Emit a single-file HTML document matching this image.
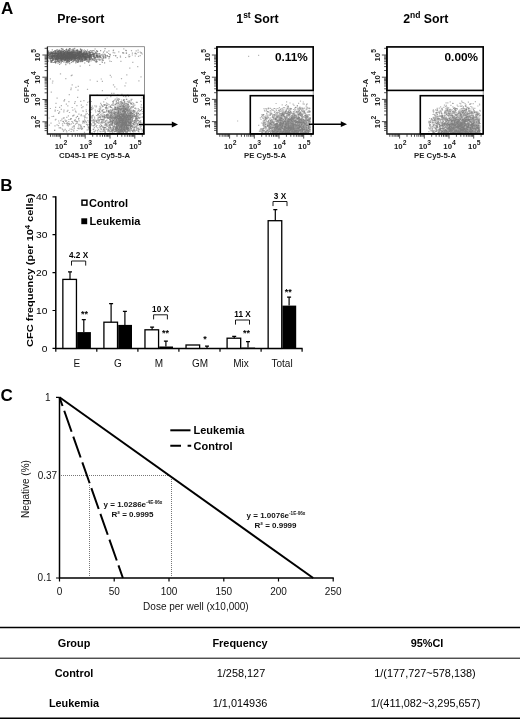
<!DOCTYPE html>
<html><head><meta charset="utf-8"><title>Figure</title>
<style>
html,body{margin:0;padding:0;background:#fff;}
body{width:520px;height:722px;overflow:hidden;}
svg{display:block;filter:blur(0.35px);font-family:"Liberation Sans",sans-serif;}
.b{font-weight:bold;}
.t7{font-size:7.8px;font-weight:bold;fill:#222;}
.t8{font-size:8px;font-weight:bold;fill:#111;}
.t10{font-size:10px;fill:#111;}
.t11{font-size:11px;font-weight:bold;fill:#000;}
.pl{font-size:17px;font-weight:bold;fill:#000;}
</style></head><body>
<svg width="520" height="722" viewBox="0 0 520 722">
<rect width="520" height="722" fill="#fff"/>

<text class="pl" x="1" y="14.2">A</text>
<path d="M71.7 55.5h1.2M70.6 53.2h1.2M63.1 55.2h1.2M49.2 56.2h1.2M53.4 55.5h1.2M62.7 56.1h1.2M78.4 57.9h1.2M73.1 59.2h1.2M94.9 57.2h1.2M80.0 59.9h1.2M73.9 57.4h1.2M50.1 54.5h1.2M81.5 54.1h1.2M52.1 54.8h1.2M72.9 56.3h1.2M78.5 54.2h1.2M74.0 55.2h1.2M73.8 54.1h1.2M80.3 55.6h1.2M69.3 56.7h1.2M59.3 53.9h1.2M75.6 57.4h1.2M57.1 54.3h1.2M58.7 55.4h1.2M66.0 53.4h1.2M73.0 51.5h1.2M60.0 57.7h1.2M86.8 55.6h1.2M50.1 61.2h1.2M73.9 57.6h1.2M63.7 55.2h1.2M59.2 51.4h1.2M68.8 59.0h1.2M59.2 54.5h1.2M79.0 51.0h1.2M67.9 57.6h1.2M67.7 52.8h1.2M102.3 58.7h1.2M89.5 59.2h1.2M79.0 55.0h1.2M98.3 56.0h1.2M52.9 52.1h1.2M58.2 54.2h1.2M65.8 55.8h1.2M77.7 61.9h1.2M100.1 56.8h1.2M51.2 55.3h1.2M75.0 53.8h1.2M65.3 61.0h1.2M74.1 48.4h1.2M73.1 58.6h1.2M72.0 60.0h1.2M78.2 55.9h1.2M81.5 56.6h1.2M57.1 58.4h1.2M61.5 58.5h1.2M54.4 53.8h1.2M64.6 58.7h1.2M61.0 54.6h1.2M55.6 53.3h1.2M94.0 60.2h1.2M65.4 57.0h1.2M71.7 55.4h1.2M69.3 53.6h1.2M66.3 55.3h1.2M76.1 54.5h1.2M58.4 52.3h1.2M65.2 58.2h1.2M70.9 53.5h1.2M72.1 59.5h1.2M55.9 58.7h1.2M83.7 60.0h1.2M79.8 51.9h1.2M68.7 50.7h1.2M63.6 57.9h1.2M62.1 54.3h1.2M70.2 55.2h1.2M53.3 54.7h1.2M73.3 51.6h1.2M76.5 51.7h1.2M48.1 55.7h1.2M55.0 61.8h1.2M72.8 58.2h1.2M73.5 57.9h1.2M75.0 56.2h1.2M83.2 56.2h1.2M91.2 56.1h1.2M63.6 58.8h1.2M61.3 58.6h1.2M67.4 57.6h1.2M69.5 58.0h1.2M66.1 56.5h1.2M69.3 48.7h1.2M52.8 59.9h1.2M51.2 56.3h1.2M70.6 55.3h1.2M59.3 54.2h1.2M74.6 58.3h1.2M78.2 56.2h1.2M58.7 60.9h1.2M94.6 59.3h1.2M56.4 61.7h1.2M64.1 55.5h1.2M71.9 56.9h1.2M79.7 58.7h1.2M85.8 52.4h1.2M64.4 56.9h1.2M52.2 60.5h1.2M72.3 55.5h1.2M71.3 55.1h1.2M62.2 53.7h1.2M72.7 56.1h1.2M85.1 57.2h1.2M60.5 52.7h1.2M58.2 54.8h1.2M68.1 57.6h1.2M75.5 56.5h1.2M58.0 58.0h1.2M76.4 52.7h1.2M72.1 56.1h1.2M66.6 59.6h1.2M80.7 58.8h1.2M66.7 57.4h1.2M67.8 58.6h1.2M82.5 53.4h1.2M94.0 60.7h1.2M57.1 58.9h1.2M70.6 60.5h1.2M96.0 55.4h1.2M71.0 57.2h1.2M80.6 54.6h1.2M64.0 57.4h1.2M74.8 58.1h1.2M75.0 59.1h1.2M53.5 59.3h1.2M72.1 56.5h1.2M60.1 57.3h1.2M79.9 55.9h1.2M58.8 62.7h1.2M89.7 52.8h1.2M64.0 57.6h1.2M90.2 50.6h1.2M55.1 56.7h1.2M62.3 58.4h1.2M66.4 52.0h1.2M74.9 57.8h1.2M48.1 55.6h1.2M74.1 57.7h1.2M71.9 52.6h1.2M85.5 56.5h1.2M51.6 53.7h1.2M59.9 57.7h1.2M58.0 54.8h1.2M79.0 56.0h1.2M65.9 56.4h1.2M72.4 49.2h1.2M95.0 52.9h1.2M67.5 62.2h1.2M85.8 59.8h1.2M63.7 54.3h1.2M60.7 57.5h1.2M71.1 53.7h1.2M49.3 53.0h1.2M72.6 56.3h1.2M62.5 55.1h1.2M81.3 56.7h1.2M74.5 56.9h1.2M72.1 54.0h1.2M77.9 53.3h1.2M105.1 56.2h1.2M65.9 52.2h1.2M64.4 57.4h1.2M92.4 54.9h1.2M85.4 58.2h1.2M76.1 58.3h1.2M79.6 59.9h1.2M52.4 59.7h1.2M64.8 54.9h1.2M62.5 54.5h1.2M57.4 55.9h1.2M66.9 54.4h1.2M77.9 61.9h1.2M66.0 57.4h1.2M74.4 52.3h1.2M89.4 56.3h1.2M76.0 53.8h1.2M67.6 55.9h1.2M85.6 53.6h1.2M83.4 57.5h1.2M69.1 54.9h1.2M72.9 50.3h1.2M54.3 56.1h1.2M78.6 56.9h1.2M57.0 60.2h1.2M68.6 53.3h1.2M62.9 51.7h1.2M75.5 60.4h1.2M56.8 49.9h1.2M67.3 54.6h1.2M61.0 56.3h1.2M82.4 54.7h1.2M79.2 55.0h1.2M103.4 56.1h1.2M57.2 55.0h1.2M73.9 58.7h1.2M71.4 59.7h1.2M49.0 53.0h1.2M71.5 58.6h1.2M78.5 55.9h1.2M78.7 53.2h1.2M80.7 57.3h1.2M57.3 60.5h1.2M54.7 57.7h1.2M69.1 53.2h1.2M55.1 59.1h1.2M89.3 54.6h1.2M98.4 54.1h1.2M61.4 53.7h1.2M51.0 61.3h1.2M60.8 62.2h1.2M82.7 55.4h1.2M82.9 54.3h1.2M61.3 57.6h1.2M84.9 57.8h1.2M78.9 58.4h1.2M75.6 56.2h1.2M63.8 60.3h1.2M59.6 52.2h1.2M67.9 52.3h1.2M86.6 60.7h1.2M58.0 52.2h1.2M77.2 55.6h1.2M65.7 55.2h1.2M66.9 51.7h1.2M69.6 57.6h1.2M54.8 57.9h1.2M74.0 56.1h1.2M66.8 55.1h1.2M53.4 55.6h1.2M89.7 57.2h1.2M68.9 58.0h1.2M54.6 57.0h1.2M59.2 55.7h1.2M57.9 53.2h1.2M63.6 59.6h1.2M88.9 52.2h1.2M62.9 53.9h1.2M78.6 55.3h1.2M73.5 57.3h1.2M76.8 53.1h1.2M76.5 54.3h1.2M59.8 56.9h1.2M60.8 59.9h1.2M67.5 58.5h1.2M73.0 51.1h1.2M67.5 58.4h1.2M73.7 54.3h1.2M59.8 53.2h1.2M80.4 59.2h1.2M72.8 59.0h1.2M70.8 53.9h1.2M52.0 56.1h1.2M65.2 57.5h1.2M89.8 56.9h1.2M85.4 56.4h1.2M84.3 55.3h1.2M66.5 55.0h1.2M57.6 59.4h1.2M68.8 56.9h1.2M83.0 57.0h1.2M83.7 55.9h1.2M67.8 57.4h1.2M57.4 56.3h1.2M57.1 56.7h1.2M59.0 55.9h1.2M75.3 52.2h1.2M67.8 58.3h1.2M57.8 57.4h1.2M57.4 57.0h1.2M62.4 58.9h1.2M79.8 55.3h1.2M53.8 53.6h1.2M85.0 50.5h1.2M93.2 55.8h1.2M75.7 54.1h1.2M87.9 62.3h1.2M60.8 55.9h1.2M75.3 57.9h1.2M61.2 53.6h1.2M67.7 61.1h1.2M75.9 55.4h1.2M80.2 49.4h1.2M82.2 55.8h1.2M69.9 55.0h1.2M63.3 55.8h1.2M58.5 50.1h1.2M82.1 61.4h1.2M67.0 54.9h1.2M62.9 53.5h1.2M62.3 49.1h1.2M71.2 57.0h1.2M81.8 54.6h1.2M74.6 56.3h1.2M76.3 60.7h1.2M51.7 49.9h1.2M64.0 54.4h1.2M81.9 56.0h1.2M65.9 55.4h1.2M68.0 50.3h1.2M92.7 54.7h1.2M84.9 58.9h1.2M54.2 55.3h1.2M88.3 60.1h1.2M88.7 57.9h1.2M70.8 60.0h1.2M96.4 53.3h1.2M80.2 55.7h1.2M76.4 54.8h1.2M69.6 57.7h1.2M54.8 52.9h1.2M77.2 57.7h1.2M59.3 54.8h1.2M71.9 54.4h1.2M74.4 55.5h1.2M67.6 58.7h1.2M90.6 57.0h1.2M73.4 57.2h1.2M81.5 56.2h1.2M73.3 55.1h1.2M52.2 53.3h1.2M65.6 53.7h1.2M76.1 52.8h1.2M79.3 53.2h1.2M64.0 53.0h1.2M92.6 55.8h1.2M79.9 61.7h1.2M60.2 51.5h1.2M92.6 56.2h1.2M60.0 56.1h1.2M88.2 62.4h1.2M53.2 55.1h1.2M66.9 52.3h1.2M72.9 55.6h1.2M87.3 53.8h1.2M80.6 53.2h1.2M67.4 60.5h1.2M57.8 56.7h1.2M85.3 54.3h1.2M101.7 62.5h1.2M88.9 55.8h1.2M52.4 53.2h1.2M69.3 57.0h1.2M63.0 57.0h1.2M61.4 55.4h1.2M70.3 57.2h1.2M90.7 56.0h1.2M96.3 54.7h1.2M58.1 59.7h1.2M62.2 53.5h1.2M53.4 56.5h1.2M90.7 54.3h1.2M78.1 59.9h1.2M63.1 55.7h1.2M50.5 58.7h1.2M56.5 58.4h1.2M60.8 56.1h1.2M69.4 54.9h1.2M69.6 55.6h1.2M57.7 59.5h1.2M56.4 60.0h1.2M47.6 57.2h1.2M90.2 56.3h1.2M54.6 51.0h1.2M78.5 56.5h1.2M57.2 59.1h1.2M58.2 57.2h1.2M87.0 57.3h1.2M69.8 56.2h1.2M71.5 54.4h1.2M57.5 52.6h1.2M61.1 58.1h1.2M83.5 56.7h1.2M77.0 49.9h1.2M83.1 52.8h1.2M75.9 55.8h1.2M77.5 54.9h1.2M69.8 54.7h1.2M52.0 57.3h1.2M80.5 51.6h1.2M66.0 49.6h1.2M63.4 54.4h1.2M71.1 59.9h1.2M55.9 55.7h1.2M84.0 57.1h1.2M50.9 55.8h1.2M83.3 53.0h1.2M63.1 53.8h1.2M92.2 54.4h1.2M69.3 56.1h1.2M62.1 53.3h1.2M57.9 53.9h1.2M93.4 56.9h1.2M66.6 58.8h1.2M69.8 56.9h1.2M82.8 54.9h1.2M58.9 57.0h1.2M66.4 57.3h1.2M69.7 56.0h1.2M72.8 58.1h1.2M65.7 55.6h1.2M61.3 54.5h1.2M69.6 52.8h1.2M81.4 57.3h1.2M52.3 56.3h1.2M50.7 55.6h1.2M65.6 52.2h1.2M78.9 55.6h1.2M58.1 59.6h1.2M75.2 63.0h1.2M76.7 50.6h1.2M78.3 58.2h1.2M71.1 56.4h1.2M57.9 56.0h1.2M49.3 54.5h1.2M87.3 54.6h1.2M67.9 58.4h1.2M63.7 54.0h1.2M82.4 56.4h1.2M71.2 54.8h1.2M83.0 55.4h1.2M86.3 59.0h1.2M49.4 57.0h1.2M51.6 58.2h1.2M74.6 51.8h1.2M65.0 54.4h1.2M78.8 56.1h1.2M77.2 57.5h1.2M71.4 51.4h1.2M49.2 55.3h1.2M52.1 55.7h1.2M74.8 55.0h1.2M69.1 57.9h1.2M81.1 51.6h1.2M80.1 52.3h1.2M72.5 56.6h1.2M76.3 53.2h1.2M96.1 54.3h1.2M50.3 57.0h1.2M85.8 53.5h1.2M53.7 56.4h1.2M66.1 54.2h1.2M65.7 56.1h1.2M66.2 56.5h1.2M64.9 59.5h1.2M77.8 59.8h1.2M62.1 58.7h1.2M72.2 56.8h1.2M79.3 55.5h1.2M63.8 52.3h1.2M61.4 54.7h1.2M67.1 54.3h1.2M70.5 52.2h1.2M73.6 51.2h1.2M76.0 54.7h1.2M71.9 54.5h1.2M56.6 57.7h1.2M65.1 58.3h1.2M59.5 58.8h1.2M61.0 56.3h1.2M56.6 56.5h1.2M50.3 54.3h1.2M56.0 58.3h1.2M72.0 56.0h1.2M68.9 55.9h1.2M63.5 53.0h1.2M66.5 53.1h1.2M83.5 56.6h1.2M73.7 57.2h1.2M71.3 54.7h1.2M72.3 52.8h1.2M87.4 56.0h1.2M58.4 56.9h1.2M99.2 57.0h1.2M70.4 55.9h1.2M77.2 54.0h1.2M65.5 51.1h1.2M70.3 56.1h1.2M62.6 54.3h1.2M84.8 60.4h1.2M95.1 57.9h1.2M50.4 54.1h1.2M81.4 61.1h1.2M61.5 60.0h1.2M80.7 52.9h1.2M98.0 53.8h1.2M61.2 52.0h1.2M79.3 59.0h1.2M70.9 56.3h1.2M80.9 52.1h1.2M76.5 52.8h1.2M61.6 54.4h1.2M81.8 59.8h1.2M83.4 58.3h1.2M63.0 58.3h1.2M55.0 58.8h1.2M88.3 57.7h1.2M56.9 51.8h1.2M84.4 54.3h1.2M59.5 53.9h1.2M67.3 56.1h1.2M75.3 55.9h1.2M64.1 52.3h1.2M54.2 58.6h1.2M63.2 57.4h1.2M62.6 57.9h1.2M65.6 58.8h1.2M70.0 57.6h1.2M106.8 55.8h1.2M69.9 52.3h1.2M64.0 56.9h1.2M94.8 58.1h1.2M69.6 56.7h1.2M52.6 58.4h1.2M70.1 57.4h1.2M76.6 54.3h1.2M65.0 52.9h1.2M74.9 55.2h1.2M67.0 58.7h1.2M67.3 60.2h1.2M74.1 55.0h1.2M94.2 58.6h1.2M85.7 57.6h1.2M84.4 56.7h1.2M75.9 57.3h1.2M78.5 53.0h1.2M69.4 58.5h1.2M69.3 51.8h1.2M61.8 61.5h1.2M63.2 53.5h1.2M68.1 54.4h1.2M68.8 59.2h1.2M58.1 59.0h1.2M55.5 61.6h1.2M66.0 52.8h1.2M64.8 54.2h1.2M60.3 56.1h1.2M76.3 54.2h1.2M75.1 58.0h1.2M78.6 56.9h1.2M94.3 54.1h1.2M70.4 59.0h1.2M99.5 57.3h1.2M73.9 51.5h1.2M54.0 55.3h1.2M69.2 54.4h1.2M88.4 56.1h1.2M70.0 56.8h1.2M69.8 57.1h1.2M81.7 54.3h1.2M91.0 51.1h1.2M56.0 58.6h1.2M82.6 56.1h1.2M79.7 56.6h1.2M76.0 55.9h1.2M77.4 55.7h1.2M83.5 57.0h1.2M62.6 58.7h1.2M58.8 60.1h1.2M89.8 55.5h1.2M74.9 54.2h1.2M102.9 52.1h1.2M85.1 58.0h1.2M77.7 52.6h1.2M52.5 52.2h1.2M70.0 56.0h1.2M73.5 56.4h1.2M76.6 54.3h1.2M69.9 57.0h1.2M73.8 58.5h1.2M61.7 58.5h1.2M66.8 58.0h1.2M87.4 55.3h1.2M62.5 58.9h1.2M78.6 57.9h1.2M79.3 55.3h1.2M61.7 52.5h1.2M78.9 51.2h1.2M71.8 54.3h1.2M72.5 57.2h1.2M67.2 55.1h1.2M56.5 55.7h1.2M53.0 58.3h1.2M74.8 59.2h1.2M81.5 57.2h1.2M81.4 54.4h1.2M83.6 59.5h1.2M55.9 53.3h1.2M82.5 53.8h1.2M57.1 54.2h1.2M71.3 53.8h1.2M58.8 54.2h1.2M59.0 64.5h1.2M72.2 57.4h1.2M85.0 56.3h1.2M63.2 55.0h1.2M65.6 57.9h1.2M73.1 57.9h1.2M60.8 48.7h1.2M55.6 59.0h1.2M74.6 56.8h1.2M74.0 60.0h1.2M60.9 56.0h1.2M78.8 51.5h1.2M75.0 57.4h1.2M70.1 54.8h1.2M65.1 60.4h1.2M82.1 56.6h1.2M96.3 56.6h1.2M58.2 54.0h1.2M83.0 54.3h1.2M68.7 55.8h1.2M64.4 57.3h1.2M61.6 56.4h1.2M59.1 59.5h1.2M84.2 55.9h1.2M60.3 63.2h1.2M69.3 54.3h1.2M66.4 59.2h1.2M80.4 58.4h1.2M68.5 58.0h1.2M64.1 56.3h1.2M81.9 56.2h1.2M63.5 58.5h1.2M57.0 59.7h1.2M78.4 51.1h1.2M51.7 52.0h1.2M67.6 54.0h1.2M60.4 50.3h1.2M55.2 56.4h1.2M58.8 55.2h1.2M60.2 55.8h1.2M66.7 59.1h1.2M74.6 54.0h1.2M53.5 55.3h1.2M92.8 53.4h1.2M88.4 60.9h1.2M61.2 56.9h1.2M58.0 57.7h1.2M57.4 58.7h1.2M80.3 50.5h1.2M85.1 57.1h1.2M48.9 55.9h1.2M65.3 58.0h1.2M80.5 57.7h1.2M60.0 60.2h1.2M83.3 56.0h1.2M70.8 59.1h1.2M86.4 53.1h1.2M79.1 52.7h1.2M78.7 52.0h1.2M97.5 57.0h1.2M72.2 61.7h1.2M61.1 57.9h1.2M67.9 52.5h1.2M76.6 55.3h1.2M58.1 59.6h1.2M60.7 58.3h1.2M65.0 55.4h1.2M83.8 57.7h1.2M66.8 55.7h1.2M74.4 57.6h1.2M73.0 52.3h1.2M102.6 60.4h1.2M55.3 59.7h1.2M53.2 55.6h1.2M61.8 57.5h1.2M63.4 56.0h1.2M81.9 59.4h1.2M71.5 57.5h1.2M51.1 52.6h1.2M69.1 54.2h1.2M94.1 53.5h1.2M59.5 55.2h1.2M84.7 58.6h1.2M65.9 53.9h1.2M61.9 55.9h1.2M71.8 56.7h1.2M87.0 54.8h1.2M83.9 57.0h1.2M86.2 61.3h1.2M59.7 56.5h1.2M82.6 54.2h1.2M92.8 53.1h1.2M72.7 57.4h1.2M92.2 50.7h1.2M58.3 58.7h1.2M61.1 54.6h1.2M59.5 56.6h1.2M84.3 58.9h1.2M56.1 57.6h1.2M67.8 54.1h1.2M61.4 52.9h1.2M54.5 61.7h1.2M61.4 53.5h1.2M77.0 59.4h1.2M54.1 57.1h1.2M73.1 55.5h1.2M97.2 55.6h1.2M62.5 57.7h1.2M65.6 49.6h1.2M60.6 54.6h1.2M68.9 57.1h1.2M48.6 52.8h1.2M63.8 50.7h1.2M71.4 56.3h1.2M85.2 60.1h1.2M57.0 61.5h1.2M88.9 56.8h1.2M90.6 56.0h1.2M64.5 56.3h1.2M60.7 53.0h1.2M56.7 57.5h1.2M72.7 54.7h1.2M60.4 52.2h1.2M58.5 55.1h1.2M58.6 53.3h1.2M67.0 54.7h1.2M64.8 52.5h1.2M49.7 54.1h1.2M92.2 53.6h1.2M60.1 52.1h1.2M77.9 55.0h1.2M54.2 57.2h1.2M64.8 55.1h1.2M62.0 52.3h1.2M75.2 57.6h1.2" stroke="#4a4a4a" stroke-width="1.2" fill="none" opacity="0.55"/>
<path d="M71.0 55.1h1.2M90.7 57.7h1.2M84.6 57.9h1.2M74.3 56.0h1.2M64.6 57.4h1.2M90.6 56.6h1.2M66.2 55.7h1.2M78.4 54.8h1.2M63.5 52.8h1.2M83.8 56.7h1.2M79.3 57.2h1.2M71.4 56.3h1.2M53.7 56.4h1.2M79.9 54.7h1.2M51.0 53.3h1.2M53.8 52.5h1.2M89.9 52.5h1.2M50.6 60.8h1.2M71.6 54.7h1.2M88.3 58.5h1.2M63.3 57.9h1.2M76.9 56.5h1.2M50.4 56.4h1.2M70.0 57.1h1.2M71.7 55.4h1.2M66.5 57.8h1.2M79.8 54.5h1.2M62.5 53.7h1.2M66.6 60.8h1.2M55.7 52.7h1.2M82.4 53.9h1.2M50.1 60.2h1.2M67.5 50.2h1.2M71.0 55.4h1.2M55.2 58.5h1.2M80.4 56.1h1.2M66.8 54.0h1.2M63.0 51.1h1.2M82.8 56.1h1.2M79.8 52.9h1.2M74.8 56.5h1.2M69.2 57.3h1.2M58.8 54.5h1.2M61.1 58.3h1.2M56.3 57.5h1.2M73.3 49.2h1.2M62.5 49.8h1.2M76.4 55.2h1.2M56.3 57.2h1.2M66.4 52.9h1.2M75.5 54.6h1.2M69.7 58.5h1.2M86.0 56.2h1.2M73.4 57.9h1.2M70.1 57.0h1.2M73.7 52.5h1.2M55.7 53.3h1.2M52.8 56.5h1.2M69.0 54.8h1.2M66.8 56.4h1.2M74.3 54.0h1.2M82.9 57.3h1.2M67.0 54.8h1.2M62.8 57.8h1.2M80.8 50.4h1.2M70.2 53.2h1.2M81.5 60.0h1.2M54.6 52.9h1.2M67.4 57.9h1.2M71.3 56.0h1.2M78.5 54.7h1.2M64.6 51.6h1.2M82.5 60.0h1.2M67.7 52.1h1.2M85.4 58.9h1.2M76.7 57.2h1.2M59.3 55.7h1.2M82.0 59.6h1.2M70.7 56.6h1.2M73.6 57.4h1.2M54.3 54.2h1.2M48.1 50.9h1.2M58.9 50.4h1.2M76.1 54.9h1.2M64.3 53.2h1.2M70.5 54.0h1.2M54.2 54.5h1.2M57.2 58.1h1.2M49.3 56.3h1.2M67.9 60.5h1.2M69.7 54.9h1.2M85.3 56.4h1.2M89.9 58.9h1.2M90.9 55.2h1.2M82.4 54.7h1.2M68.5 56.5h1.2M56.3 58.6h1.2M57.2 60.5h1.2M63.6 57.0h1.2M61.2 54.1h1.2M61.7 56.4h1.2M69.3 56.3h1.2M88.7 54.4h1.2M66.9 55.8h1.2M75.4 58.6h1.2M71.6 55.0h1.2M89.8 54.1h1.2M72.1 54.3h1.2M83.5 55.0h1.2M47.6 55.6h1.2M61.1 60.3h1.2M66.3 58.7h1.2M55.9 50.9h1.2M75.6 61.4h1.2M73.7 52.0h1.2M73.9 54.0h1.2M74.7 56.1h1.2M99.1 53.7h1.2M76.0 53.9h1.2M56.6 53.5h1.2M51.2 57.3h1.2M80.3 52.1h1.2M65.8 56.1h1.2M58.4 58.0h1.2M83.4 57.2h1.2M71.1 53.5h1.2M54.4 56.1h1.2M64.3 53.0h1.2M71.2 58.9h1.2M56.5 57.9h1.2M69.4 55.5h1.2M70.9 56.8h1.2M71.6 57.4h1.2M78.2 58.6h1.2M50.0 58.1h1.2M68.1 53.0h1.2M55.3 58.0h1.2M87.2 52.3h1.2M56.3 53.9h1.2M95.7 62.2h1.2M75.3 55.4h1.2M58.4 55.4h1.2M87.3 51.5h1.2M69.8 55.8h1.2M70.8 54.8h1.2M83.8 53.3h1.2M77.6 57.0h1.2M74.6 53.2h1.2M68.4 57.2h1.2M86.2 56.6h1.2M69.4 52.9h1.2M79.7 55.6h1.2M58.4 57.4h1.2M60.9 59.0h1.2M95.5 57.5h1.2M65.1 55.3h1.2M72.3 51.0h1.2M67.4 58.1h1.2M57.1 55.0h1.2M65.5 57.5h1.2M63.0 54.2h1.2M75.4 62.2h1.2M71.4 51.8h1.2M71.6 56.6h1.2M58.3 58.0h1.2M69.8 58.8h1.2M67.9 55.2h1.2M72.9 54.8h1.2M96.2 51.9h1.2M60.2 53.8h1.2M64.1 54.6h1.2M67.4 60.0h1.2M78.1 58.5h1.2M90.5 56.5h1.2M67.1 58.7h1.2M83.6 54.4h1.2M96.3 61.0h1.2M61.1 58.8h1.2M47.8 53.8h1.2M48.3 52.6h1.2M76.0 50.6h1.2M81.3 54.9h1.2M54.8 55.1h1.2M80.9 55.1h1.2M57.3 58.4h1.2M66.4 56.6h1.2M55.9 50.0h1.2M77.3 53.6h1.2M74.1 54.1h1.2M70.3 54.7h1.2M68.7 56.0h1.2M55.5 58.9h1.2M64.3 58.0h1.2M78.4 56.1h1.2M88.1 54.9h1.2M103.0 57.6h1.2M69.7 57.1h1.2M71.8 54.5h1.2M71.4 54.9h1.2M86.5 54.4h1.2M75.1 53.9h1.2M91.5 52.7h1.2M60.1 53.3h1.2M90.2 59.2h1.2M81.2 59.1h1.2M65.0 57.8h1.2M60.3 53.8h1.2M67.7 56.0h1.2M62.3 58.6h1.2M82.2 58.3h1.2M53.9 57.4h1.2M52.2 59.8h1.2M81.4 58.4h1.2M91.8 59.1h1.2M67.7 56.9h1.2M75.5 54.0h1.2M86.4 56.9h1.2M71.2 54.4h1.2M83.9 57.0h1.2M86.1 57.6h1.2M81.8 53.7h1.2M56.2 56.0h1.2M86.4 53.9h1.2M63.0 55.1h1.2M90.6 55.6h1.2M81.2 53.6h1.2M61.8 56.9h1.2M54.1 57.4h1.2M88.0 56.3h1.2M75.4 54.6h1.2M60.4 53.5h1.2M69.3 56.0h1.2M92.3 59.9h1.2M63.7 54.7h1.2M69.4 53.5h1.2M89.2 54.5h1.2M61.2 55.2h1.2M87.1 55.4h1.2M88.1 51.7h1.2M50.1 58.2h1.2M63.6 56.5h1.2M60.4 59.6h1.2M79.2 57.4h1.2M84.8 56.9h1.2M72.8 55.0h1.2M69.6 55.2h1.2M61.5 51.4h1.2M69.9 57.8h1.2M59.2 52.6h1.2M64.1 57.0h1.2M77.0 56.0h1.2M70.4 57.4h1.2M78.8 54.2h1.2M72.4 57.8h1.2M81.7 56.6h1.2M56.2 57.6h1.2M60.4 56.9h1.2M69.7 55.1h1.2M65.1 56.4h1.2M81.3 60.5h1.2M90.5 56.6h1.2M62.9 55.7h1.2M75.5 56.5h1.2M60.2 57.6h1.2M60.3 50.8h1.2M98.5 58.8h1.2M72.4 55.9h1.2M86.3 58.0h1.2M68.2 56.9h1.2M58.6 58.4h1.2M71.6 57.1h1.2M71.5 57.0h1.2M68.1 55.5h1.2M68.5 51.4h1.2M64.9 58.8h1.2M88.9 59.3h1.2M83.3 54.8h1.2M74.4 60.2h1.2M75.0 52.8h1.2M88.6 61.2h1.2M73.9 56.4h1.2M63.8 56.6h1.2M80.8 55.7h1.2M76.7 55.7h1.2M79.4 57.3h1.2M108.8 56.6h1.2M78.5 56.8h1.2M74.6 60.8h1.2M81.0 55.4h1.2M68.4 56.7h1.2M78.4 51.8h1.2M48.0 51.7h1.2M67.6 58.6h1.2M68.3 49.4h1.2M75.3 56.6h1.2M69.7 52.1h1.2M73.6 56.2h1.2M58.9 56.6h1.2M79.0 59.1h1.2M85.2 54.1h1.2M69.9 54.8h1.2M91.2 54.8h1.2M65.9 56.1h1.2M68.7 57.1h1.2M61.3 58.8h1.2M56.1 54.1h1.2M57.3 53.9h1.2M78.3 51.7h1.2M81.7 56.2h1.2M68.3 58.4h1.2M69.2 52.2h1.2M79.0 52.8h1.2M65.6 54.7h1.2M66.8 56.1h1.2M76.4 53.0h1.2M48.7 54.5h1.2M69.2 54.2h1.2M88.1 55.0h1.2M55.3 59.7h1.2M58.4 55.0h1.2M77.9 54.7h1.2M64.1 53.8h1.2M74.2 53.3h1.2M77.4 60.7h1.2M88.3 57.7h1.2M48.0 61.2h1.2M72.9 52.8h1.2M58.2 52.0h1.2M73.9 55.1h1.2M87.4 56.1h1.2M78.5 55.9h1.2M72.7 53.1h1.2M84.8 58.6h1.2M66.0 49.0h1.2M66.2 58.9h1.2M74.1 56.2h1.2M74.5 57.5h1.2M88.8 57.4h1.2M53.2 55.1h1.2M68.3 56.2h1.2M69.5 57.7h1.2M71.7 52.5h1.2M76.4 54.5h1.2M69.3 57.8h1.2M71.0 54.5h1.2M82.5 53.4h1.2M57.7 55.7h1.2M99.2 56.8h1.2M65.1 58.0h1.2M69.5 54.5h1.2M60.1 52.2h1.2M61.8 53.8h1.2M69.1 55.6h1.2M74.3 54.4h1.2M51.9 54.6h1.2M68.8 56.6h1.2M49.0 58.2h1.2M85.5 52.8h1.2M62.2 55.9h1.2M65.1 58.0h1.2M60.6 52.8h1.2M62.4 54.2h1.2M85.2 55.3h1.2M87.2 55.4h1.2M55.0 62.9h1.2M70.9 52.9h1.2M66.1 54.7h1.2M60.5 54.0h1.2M71.6 58.8h1.2M64.1 57.0h1.2M62.0 56.8h1.2M69.9 52.8h1.2M72.8 53.0h1.2M71.5 59.6h1.2M78.1 56.5h1.2M75.9 54.0h1.2M74.4 56.8h1.2M66.7 60.8h1.2M61.5 55.0h1.2M59.2 54.8h1.2M81.7 58.5h1.2M68.2 56.4h1.2M93.5 58.5h1.2M73.2 60.6h1.2M69.2 55.9h1.2M59.3 57.1h1.2M75.3 59.8h1.2M89.0 54.7h1.2M60.0 53.4h1.2M55.9 53.2h1.2M69.6 56.7h1.2M81.9 53.6h1.2M58.2 54.3h1.2M78.9 56.2h1.2M73.6 58.4h1.2M67.2 56.6h1.2M55.0 52.0h1.2M63.6 57.2h1.2M68.6 58.0h1.2M70.8 62.4h1.2M69.7 57.6h1.2M90.4 55.5h1.2M60.1 58.5h1.2M84.5 58.8h1.2M83.9 51.5h1.2M85.6 54.9h1.2M73.4 54.5h1.2M74.7 59.9h1.2M61.0 56.4h1.2M68.2 58.4h1.2M71.0 57.5h1.2M96.3 53.8h1.2M72.0 54.8h1.2M59.7 58.3h1.2M58.9 54.8h1.2M69.2 48.6h1.2M68.4 53.9h1.2M65.1 59.8h1.2M63.2 54.2h1.2M54.8 53.6h1.2M61.6 58.5h1.2M61.1 58.9h1.2M50.2 52.8h1.2M93.1 55.9h1.2M70.8 52.5h1.2M74.7 53.0h1.2M64.7 57.8h1.2M99.6 57.2h1.2M61.7 54.1h1.2M74.1 54.1h1.2M55.7 56.1h1.2M82.3 53.4h1.2M55.0 57.4h1.2M58.9 56.9h1.2M75.7 55.6h1.2M81.2 52.4h1.2M77.7 53.2h1.2M79.3 56.1h1.2M47.6 52.6h1.2M77.9 54.3h1.2M85.3 53.9h1.2M72.0 52.9h1.2M68.6 61.4h1.2M61.6 49.1h1.2M79.5 54.1h1.2M82.7 60.5h1.2M100.4 54.8h1.2M64.1 57.9h1.2M70.5 55.3h1.2M77.3 58.7h1.2M70.5 59.2h1.2M62.7 51.5h1.2M66.8 52.6h1.2M93.6 57.3h1.2M66.3 54.1h1.2M68.3 53.0h1.2M74.8 56.5h1.2M57.9 53.7h1.2M67.8 58.5h1.2M69.3 55.8h1.2M56.8 60.8h1.2M77.3 57.5h1.2M83.8 60.5h1.2M76.9 55.7h1.2M68.3 57.8h1.2M66.8 55.2h1.2M61.0 56.2h1.2M84.8 54.2h1.2M65.2 59.6h1.2M52.6 56.7h1.2M58.1 54.0h1.2M80.2 56.8h1.2M86.5 53.9h1.2M72.4 56.9h1.2M61.6 51.2h1.2M54.7 54.2h1.2M55.5 57.1h1.2M78.7 58.4h1.2M71.9 55.7h1.2M73.2 55.5h1.2M56.5 58.5h1.2M79.1 55.1h1.2M66.4 56.8h1.2M61.7 57.1h1.2M73.5 56.1h1.2M51.1 52.3h1.2M68.1 53.9h1.2M67.0 56.7h1.2M79.3 52.4h1.2M52.0 58.6h1.2M61.3 58.7h1.2M55.9 54.8h1.2M79.2 56.8h1.2M63.4 58.9h1.2M51.3 56.3h1.2M68.9 49.0h1.2M75.0 60.8h1.2M60.3 57.0h1.2M73.4 56.4h1.2M72.9 54.7h1.2M67.3 57.4h1.2M58.0 52.0h1.2M84.3 54.5h1.2M64.0 59.5h1.2M61.3 59.4h1.2M99.6 55.6h1.2M56.7 58.2h1.2M62.8 55.7h1.2M90.7 55.7h1.2M86.3 53.9h1.2M57.8 53.7h1.2M60.8 53.2h1.2M65.1 56.2h1.2M100.0 50.7h1.2M61.8 60.8h1.2M78.1 61.7h1.2M84.1 52.2h1.2M71.1 58.2h1.2M62.8 59.7h1.2M83.7 60.0h1.2M74.0 58.1h1.2M74.4 58.0h1.2M68.6 54.9h1.2M49.6 53.6h1.2M62.6 55.2h1.2M65.6 58.1h1.2M75.3 53.6h1.2M67.2 62.8h1.2M83.4 57.3h1.2M56.4 54.3h1.2M76.3 57.8h1.2M63.6 56.3h1.2M68.9 61.5h1.2M57.3 54.2h1.2M71.4 55.5h1.2M69.2 57.3h1.2M77.8 58.0h1.2M73.2 57.1h1.2M61.2 53.0h1.2M80.6 56.2h1.2M89.0 52.8h1.2M79.7 53.1h1.2M53.3 53.3h1.2M65.3 55.9h1.2M79.2 58.6h1.2M66.9 55.6h1.2M76.6 50.3h1.2M59.7 53.1h1.2M53.7 52.2h1.2M100.5 54.9h1.2M57.3 59.6h1.2M87.4 61.3h1.2M67.7 53.0h1.2M52.3 55.8h1.2M67.7 57.6h1.2M57.4 56.3h1.2M64.0 57.5h1.2M97.3 56.8h1.2M78.3 55.8h1.2M61.7 53.7h1.2M57.6 55.3h1.2M69.9 54.6h1.2M85.7 57.3h1.2M83.5 54.0h1.2M75.1 57.0h1.2M76.4 51.8h1.2M72.7 56.0h1.2M88.8 56.2h1.2M49.8 59.0h1.2M73.0 51.1h1.2M79.7 55.2h1.2M53.2 53.7h1.2M62.0 54.3h1.2M69.1 52.2h1.2M65.3 62.9h1.2M77.8 56.6h1.2M57.3 57.4h1.2M68.1 50.9h1.2M69.4 56.6h1.2M73.0 57.8h1.2M71.2 56.0h1.2M52.1 60.5h1.2M84.5 53.1h1.2M70.4 56.7h1.2M79.0 56.7h1.2M68.7 59.5h1.2M58.0 61.1h1.2M93.3 53.7h1.2M67.0 56.3h1.2M66.1 54.9h1.2M63.8 52.3h1.2M75.0 52.4h1.2M82.0 54.7h1.2M71.4 56.6h1.2M67.1 53.8h1.2M59.1 62.0h1.2M62.2 59.1h1.2M79.2 51.7h1.2M70.5 56.9h1.2M65.8 56.0h1.2M88.6 52.6h1.2M64.6 54.2h1.2M67.1 58.3h1.2M53.1 55.1h1.2M69.1 52.2h1.2M90.3 58.8h1.2M71.4 52.9h1.2M63.3 58.6h1.2M67.4 56.5h1.2M68.2 53.0h1.2M69.1 63.6h1.2M89.2 51.0h1.2M81.4 57.3h1.2M81.9 57.2h1.2M76.0 52.8h1.2M66.4 61.3h1.2M85.2 59.3h1.2M82.6 55.7h1.2M85.4 58.5h1.2M57.0 59.3h1.2M56.9 55.2h1.2M51.5 62.2h1.2M77.0 62.5h1.2M57.9 50.9h1.2M84.6 52.2h1.2M74.7 57.6h1.2M54.4 56.0h1.2M70.9 55.4h1.2M64.5 58.0h1.2M58.9 53.0h1.2M57.7 58.4h1.2M67.0 54.1h1.2M90.2 58.3h1.2M63.8 57.4h1.2M95.7 55.6h1.2M59.4 58.5h1.2M61.7 58.4h1.2M53.5 57.0h1.2M47.9 53.5h1.2M80.5 56.8h1.2M88.8 53.3h1.2M77.4 57.8h1.2M74.8 55.8h1.2M63.0 58.7h1.2M53.1 57.0h1.2M75.0 53.6h1.2M78.4 61.4h1.2M64.9 57.1h1.2M66.8 50.8h1.2M75.1 59.0h1.2M76.6 57.4h1.2M83.8 52.9h1.2M69.4 60.3h1.2M70.3 60.5h1.2M71.7 55.5h1.2M50.2 59.2h1.2M65.3 56.4h1.2M65.2 54.0h1.2M69.0 56.1h1.2M57.5 54.1h1.2M89.5 59.1h1.2M75.2 51.0h1.2M83.7 56.8h1.2M69.5 55.3h1.2M70.1 57.9h1.2M65.3 59.2h1.2M54.0 57.3h1.2M104.5 54.6h1.2M75.9 54.2h1.2M65.5 55.8h1.2M73.8 55.7h1.2M71.2 54.4h1.2M61.9 56.1h1.2M47.8 55.1h1.2M64.3 56.1h1.2M56.4 51.1h1.2M63.3 52.7h1.2M105.2 57.7h1.2M80.4 55.4h1.2M65.0 57.9h1.2M76.4 55.9h1.2M80.0 56.3h1.2M72.1 55.4h1.2M75.5 54.6h1.2M65.9 57.3h1.2M81.5 53.1h1.2M73.4 55.8h1.2M66.9 56.5h1.2M51.7 57.7h1.2M80.0 57.5h1.2M74.6 56.2h1.2M80.7 60.8h1.2M64.4 54.4h1.2M73.7 54.4h1.2M72.9 56.5h1.2M69.2 58.2h1.2M69.5 55.4h1.2M89.7 56.0h1.2M51.2 57.8h1.2M67.1 56.0h1.2M62.8 57.1h1.2M96.7 51.4h1.2M65.2 64.6h1.2M54.9 51.0h1.2M92.3 54.7h1.2M94.4 51.8h1.2M68.9 56.6h1.2M77.3 56.5h1.2M81.1 57.2h1.2M82.6 55.2h1.2M72.5 57.0h1.2M69.1 56.7h1.2M61.2 54.0h1.2M64.4 56.1h1.2M55.7 55.9h1.2M73.9 58.6h1.2M56.5 52.0h1.2M68.8 52.1h1.2M72.7 57.9h1.2M73.5 54.7h1.2M56.1 55.0h1.2M85.4 53.4h1.2M87.5 61.1h1.2M60.7 55.1h1.2M58.9 58.0h1.2M60.6 55.5h1.2M54.0 55.1h1.2M85.3 51.7h1.2M67.4 55.2h1.2M82.8 56.3h1.2M69.6 55.8h1.2M85.5 55.4h1.2M49.9 56.8h1.2M66.2 61.4h1.2M52.0 53.3h1.2" stroke="#4a4a4a" stroke-width="1.2" fill="none" opacity="0.55"/>
<path d="M50.9 57.8h1.2M58.2 57.0h1.2M63.6 61.0h1.2M77.0 58.9h1.2M52.8 62.5h1.2M76.4 55.6h1.2M59.1 56.2h1.2M64.3 58.5h1.2M53.5 53.5h1.2M69.2 54.6h1.2M54.2 55.3h1.2M74.4 55.3h1.2M71.2 55.2h1.2M77.9 58.0h1.2M73.4 57.2h1.2M50.3 62.3h1.2M74.8 57.1h1.2M66.1 56.3h1.2M64.7 56.8h1.2M78.7 58.1h1.2M59.5 56.9h1.2M63.3 62.1h1.2M59.2 56.8h1.2M59.5 59.1h1.2M75.4 55.1h1.2M72.8 59.2h1.2M62.7 58.7h1.2M66.2 51.5h1.2M67.3 54.2h1.2M75.4 55.1h1.2M72.7 54.0h1.2M71.4 56.5h1.2M78.7 58.7h1.2M101.9 59.9h1.2M78.9 59.1h1.2M64.2 58.2h1.2M59.8 53.5h1.2M65.6 60.1h1.2M89.5 54.4h1.2M61.0 60.2h1.2M70.7 55.7h1.2M68.5 56.3h1.2M61.8 54.9h1.2M74.9 57.7h1.2M71.0 54.9h1.2M53.2 51.5h1.2M50.0 55.1h1.2M83.7 53.1h1.2M70.7 55.0h1.2M79.6 58.5h1.2M64.0 60.4h1.2M60.7 56.6h1.2M51.1 56.9h1.2M81.0 54.5h1.2M81.6 56.4h1.2M77.6 60.0h1.2M65.1 52.5h1.2M81.0 51.5h1.2M82.6 58.4h1.2M63.5 60.4h1.2M77.7 55.6h1.2M93.6 54.9h1.2M82.8 52.7h1.2M79.7 55.5h1.2M64.8 58.5h1.2M80.5 58.1h1.2M74.3 55.3h1.2M64.1 50.5h1.2M55.1 62.7h1.2M77.6 60.6h1.2M52.6 58.9h1.2M67.4 56.8h1.2M62.0 55.6h1.2M56.7 55.3h1.2M59.9 51.8h1.2M60.2 56.6h1.2M68.4 58.8h1.2M68.8 57.8h1.2M78.0 55.0h1.2M68.2 56.3h1.2M70.8 53.2h1.2M58.4 56.7h1.2M77.5 59.6h1.2M104.5 48.6h1.2M69.1 54.9h1.2M63.4 56.4h1.2M74.4 57.7h1.2M87.5 57.3h1.2M97.3 56.4h1.2M64.1 52.6h1.2M63.6 54.9h1.2M63.5 55.5h1.2M48.1 54.6h1.2M72.8 56.9h1.2M59.9 55.1h1.2M84.5 55.4h1.2M87.5 59.5h1.2M94.2 57.6h1.2M71.4 56.1h1.2M87.8 53.3h1.2M79.9 55.7h1.2M65.1 58.7h1.2M70.8 58.6h1.2M72.6 61.7h1.2M66.6 60.5h1.2M72.9 53.2h1.2M80.2 57.0h1.2M77.5 55.4h1.2M80.0 54.9h1.2M77.5 52.1h1.2M70.6 58.5h1.2M68.7 56.0h1.2M59.4 53.7h1.2M69.4 58.9h1.2M68.2 59.5h1.2M72.0 55.2h1.2M64.1 54.9h1.2M80.2 55.9h1.2M84.8 56.0h1.2M65.3 59.0h1.2M51.9 56.6h1.2M72.5 54.4h1.2M64.9 52.4h1.2M65.4 55.3h1.2M68.4 54.0h1.2M74.3 52.1h1.2M81.5 59.3h1.2M72.0 50.6h1.2M85.8 51.6h1.2M66.7 55.6h1.2M60.7 59.9h1.2M61.3 53.3h1.2M68.1 52.8h1.2M81.1 51.3h1.2M66.6 53.2h1.2M57.6 58.8h1.2M92.1 58.9h1.2M69.2 56.5h1.2M92.5 58.9h1.2M60.6 57.9h1.2M78.4 59.9h1.2M81.4 50.6h1.2M88.8 56.6h1.2M78.7 54.9h1.2M72.3 54.4h1.2M64.4 54.2h1.2M78.7 54.8h1.2M72.1 57.8h1.2M61.2 57.2h1.2M58.1 56.2h1.2M99.1 56.4h1.2M66.1 61.9h1.2M62.2 55.3h1.2M79.6 53.6h1.2M65.3 60.2h1.2M87.3 59.5h1.2M86.0 57.4h1.2M65.6 58.7h1.2M79.7 57.3h1.2M55.6 55.9h1.2M56.7 57.1h1.2M86.0 57.5h1.2M54.6 58.6h1.2M55.1 54.9h1.2M85.5 59.4h1.2M90.3 54.9h1.2M63.5 56.8h1.2M68.6 54.8h1.2M51.8 57.0h1.2M62.2 58.3h1.2M52.6 55.5h1.2M83.6 54.6h1.2M69.5 55.1h1.2M69.7 58.8h1.2M69.4 55.0h1.2M68.9 54.8h1.2M54.3 60.9h1.2M96.0 56.4h1.2M85.8 57.3h1.2M63.5 55.0h1.2M66.4 51.1h1.2M57.1 54.6h1.2M66.2 58.9h1.2M82.9 56.1h1.2M69.1 52.4h1.2M57.6 58.6h1.2M90.8 58.2h1.2M75.0 56.0h1.2M65.5 58.7h1.2M78.2 57.9h1.2M71.9 53.2h1.2M61.9 56.8h1.2M48.7 57.4h1.2M60.7 57.6h1.2M68.5 57.4h1.2M77.2 57.5h1.2M61.7 56.3h1.2M89.2 59.9h1.2M65.3 53.0h1.2M55.7 59.1h1.2M68.0 59.0h1.2M77.2 55.3h1.2M72.9 58.1h1.2M55.3 61.1h1.2M79.8 55.3h1.2M90.4 61.0h1.2M70.1 56.8h1.2M66.6 56.6h1.2M49.6 55.8h1.2M81.7 53.7h1.2M74.8 54.7h1.2M56.4 55.4h1.2M71.3 51.3h1.2M73.9 57.8h1.2M84.4 57.3h1.2M51.4 55.7h1.2M60.8 55.4h1.2M76.5 50.4h1.2M75.5 58.7h1.2M70.6 57.4h1.2M70.6 55.2h1.2M64.7 55.1h1.2M66.4 59.0h1.2M58.0 61.6h1.2M89.7 57.6h1.2M49.8 53.8h1.2M78.5 58.9h1.2M69.0 57.5h1.2M70.7 54.6h1.2M70.1 54.3h1.2M74.0 58.3h1.2M71.3 57.7h1.2M80.0 54.4h1.2M52.9 51.6h1.2M92.7 54.7h1.2M86.6 53.7h1.2M93.1 60.2h1.2M56.4 56.1h1.2M72.5 50.3h1.2M68.2 55.4h1.2M65.3 56.4h1.2M64.9 58.8h1.2M53.9 62.3h1.2M94.1 55.9h1.2M74.3 58.0h1.2M57.3 57.2h1.2M77.8 53.3h1.2M74.5 53.4h1.2M69.0 56.9h1.2M58.1 57.0h1.2M76.8 59.0h1.2M59.7 56.5h1.2M70.5 57.9h1.2M62.8 54.9h1.2M75.8 50.2h1.2M69.2 58.2h1.2M68.6 57.8h1.2M103.4 57.8h1.2M66.1 57.0h1.2M83.4 52.1h1.2M79.7 51.6h1.2M96.0 55.5h1.2M79.7 60.5h1.2M69.7 54.1h1.2M60.2 52.3h1.2M59.4 51.8h1.2M86.1 59.4h1.2M82.0 55.3h1.2M60.9 53.0h1.2M88.7 52.1h1.2M63.0 55.6h1.2M66.0 52.3h1.2M96.8 55.1h1.2M57.3 51.2h1.2M69.2 54.4h1.2M54.2 50.5h1.2M59.8 55.6h1.2M56.8 53.1h1.2M85.2 55.4h1.2M74.4 57.1h1.2M66.5 60.6h1.2M92.1 54.1h1.2M82.3 57.0h1.2M60.7 57.2h1.2M95.4 60.9h1.2M67.3 54.4h1.2M86.7 54.8h1.2M73.6 59.9h1.2M77.1 54.2h1.2M69.2 54.7h1.2M68.8 61.8h1.2M71.3 52.9h1.2M71.0 56.2h1.2M54.3 56.1h1.2M73.7 56.7h1.2M65.0 56.3h1.2M58.8 58.7h1.2M71.2 55.9h1.2M82.9 55.7h1.2M79.8 49.1h1.2M79.2 59.0h1.2M79.6 55.7h1.2M69.6 55.2h1.2M80.6 57.1h1.2M79.1 54.8h1.2M52.5 56.7h1.2M99.4 64.5h1.2M58.0 56.6h1.2M68.6 57.2h1.2M67.4 57.2h1.2M50.1 53.6h1.2M68.8 52.6h1.2M88.3 55.9h1.2M64.7 59.8h1.2M82.8 54.7h1.2M83.1 50.9h1.2M88.9 58.3h1.2M66.5 58.1h1.2M58.5 51.0h1.2M70.0 55.1h1.2M86.2 55.2h1.2M78.2 54.4h1.2M77.5 57.4h1.2M78.7 56.7h1.2M69.5 58.8h1.2M57.4 63.1h1.2M67.8 57.2h1.2M55.0 60.6h1.2M68.1 55.8h1.2M71.5 53.1h1.2M59.8 60.9h1.2M68.6 58.6h1.2M51.6 52.7h1.2M51.1 54.1h1.2M67.5 57.8h1.2M69.6 59.5h1.2M74.2 57.5h1.2M59.5 55.6h1.2M65.6 58.4h1.2M92.4 56.7h1.2M68.0 54.6h1.2M96.1 50.6h1.2M57.9 53.3h1.2M65.4 55.7h1.2M69.5 57.7h1.2M60.8 54.2h1.2M81.5 49.9h1.2M73.7 58.9h1.2M70.3 50.6h1.2M83.3 52.2h1.2M96.5 59.3h1.2M65.6 55.0h1.2M89.3 57.5h1.2M51.5 57.5h1.2M79.7 52.7h1.2M74.6 53.6h1.2M67.1 52.4h1.2M56.9 56.1h1.2M65.5 56.7h1.2M53.2 57.4h1.2M78.3 55.9h1.2M85.6 55.1h1.2M85.7 55.6h1.2M82.8 53.8h1.2M76.1 56.3h1.2M64.9 51.3h1.2M58.4 53.9h1.2M67.9 57.3h1.2M59.9 58.0h1.2M83.8 56.4h1.2M76.3 53.0h1.2M67.2 61.6h1.2M71.8 53.5h1.2M66.4 55.5h1.2M60.7 55.1h1.2M64.3 56.0h1.2M70.4 49.6h1.2M73.5 59.2h1.2M77.6 57.9h1.2M80.1 56.5h1.2M55.5 55.7h1.2M91.4 59.8h1.2M48.0 53.2h1.2M71.9 49.8h1.2M72.3 52.1h1.2M84.8 56.2h1.2M56.2 56.8h1.2M77.6 54.5h1.2M68.0 58.8h1.2M76.3 56.3h1.2M57.6 53.3h1.2M73.3 55.4h1.2M53.1 58.7h1.2M63.4 53.9h1.2M85.1 54.9h1.2M63.0 53.0h1.2M58.4 58.0h1.2M65.7 56.5h1.2M72.5 56.9h1.2M65.6 59.4h1.2M56.4 53.7h1.2M81.1 50.1h1.2M72.6 55.0h1.2M55.8 56.7h1.2M97.3 57.6h1.2M65.6 53.2h1.2M89.8 57.1h1.2M72.7 55.8h1.2M52.9 57.3h1.2M77.0 58.2h1.2M58.3 56.9h1.2M61.3 58.5h1.2M77.0 51.7h1.2M88.2 57.4h1.2M48.6 59.0h1.2M72.8 54.8h1.2M68.5 58.3h1.2M94.3 55.5h1.2M67.7 56.8h1.2M66.1 57.8h1.2M76.6 55.1h1.2M51.3 60.9h1.2M61.5 56.9h1.2M66.9 52.7h1.2M61.4 52.4h1.2M69.6 58.1h1.2M89.1 55.4h1.2M70.1 58.1h1.2M74.0 58.4h1.2M83.4 58.8h1.2M68.8 57.9h1.2M68.4 53.8h1.2M87.7 57.6h1.2M71.5 57.2h1.2M63.1 57.4h1.2M80.4 60.1h1.2M62.6 52.1h1.2M56.3 56.5h1.2M67.4 51.9h1.2M64.7 56.2h1.2M67.7 55.9h1.2M64.3 57.4h1.2M84.3 54.6h1.2M69.6 52.9h1.2M100.7 59.0h1.2M76.2 53.2h1.2M48.6 54.9h1.2M62.5 57.2h1.2M71.1 56.4h1.2M73.3 58.7h1.2M68.0 57.5h1.2M93.4 56.7h1.2M91.7 59.2h1.2M69.2 52.7h1.2M60.2 55.4h1.2M90.1 54.4h1.2M69.9 56.8h1.2M47.9 52.0h1.2M94.3 53.8h1.2M67.2 58.0h1.2M78.9 57.9h1.2M61.4 51.2h1.2M55.4 53.0h1.2M79.1 52.4h1.2M70.4 52.1h1.2M65.2 57.9h1.2M65.3 53.2h1.2M79.1 55.1h1.2M74.4 56.4h1.2M58.2 53.8h1.2M93.8 54.7h1.2M80.2 58.5h1.2M95.8 59.8h1.2M66.0 53.5h1.2M57.4 55.5h1.2M74.1 53.8h1.2M63.3 60.6h1.2M68.7 54.0h1.2M68.5 55.7h1.2M81.5 61.7h1.2M67.0 60.2h1.2M66.9 54.8h1.2M57.0 59.2h1.2M51.6 57.6h1.2M76.9 61.8h1.2M67.9 58.8h1.2M61.6 57.3h1.2M83.2 53.7h1.2M80.2 55.9h1.2M62.1 55.7h1.2M52.5 59.1h1.2M67.5 57.4h1.2M54.2 59.2h1.2M80.2 52.5h1.2M73.6 56.6h1.2M78.5 59.4h1.2M71.7 56.5h1.2M48.7 58.5h1.2M57.3 56.6h1.2M50.4 58.7h1.2M94.5 49.0h1.2M52.2 60.0h1.2M60.0 54.3h1.2M65.4 55.2h1.2M57.9 54.5h1.2M66.7 53.1h1.2M63.2 56.5h1.2M54.3 53.7h1.2M83.6 53.7h1.2M52.8 58.0h1.2M58.0 57.1h1.2M67.7 53.1h1.2M63.0 53.2h1.2M66.2 57.1h1.2M49.9 52.2h1.2M74.9 56.1h1.2M94.3 57.4h1.2M81.2 59.4h1.2M68.2 55.2h1.2M85.5 53.4h1.2M83.4 56.9h1.2M84.4 58.4h1.2M54.9 59.4h1.2M85.4 56.0h1.2M96.4 61.7h1.2M81.5 58.9h1.2M95.4 52.9h1.2M82.5 56.0h1.2M72.2 55.0h1.2M71.2 55.0h1.2M73.9 53.8h1.2M62.9 51.9h1.2M81.0 58.4h1.2M80.5 54.8h1.2M88.3 55.2h1.2M92.1 52.1h1.2M86.7 54.4h1.2M63.0 56.2h1.2M64.3 55.1h1.2M50.5 51.9h1.2M54.4 52.1h1.2M79.6 57.2h1.2M77.7 54.1h1.2M84.9 53.6h1.2M55.5 53.8h1.2M66.1 54.9h1.2M85.7 54.1h1.2M55.8 59.4h1.2M65.2 58.4h1.2M58.6 57.8h1.2M67.9 53.4h1.2M57.7 58.0h1.2M70.7 54.6h1.2M79.7 61.0h1.2M64.5 59.1h1.2M65.5 53.2h1.2M71.3 54.0h1.2M50.7 60.7h1.2M65.8 62.3h1.2M64.1 58.2h1.2M52.0 53.4h1.2M59.5 61.1h1.2M65.7 54.8h1.2M70.0 53.5h1.2M83.4 56.2h1.2M76.9 58.3h1.2M79.8 52.4h1.2M65.8 53.2h1.2M52.2 56.0h1.2M52.0 57.7h1.2M72.4 52.1h1.2M47.9 58.2h1.2M69.0 57.9h1.2M87.4 56.5h1.2M60.5 58.6h1.2M83.1 53.1h1.2M78.5 57.7h1.2M65.2 55.4h1.2M77.8 56.6h1.2M86.7 56.6h1.2M69.1 57.0h1.2M80.3 54.9h1.2M53.7 57.0h1.2M61.9 56.8h1.2M75.0 58.4h1.2M79.9 52.8h1.2M60.6 59.7h1.2M50.5 53.6h1.2M83.8 50.0h1.2M80.7 53.3h1.2M56.0 54.7h1.2M105.1 55.5h1.2M83.3 54.9h1.2M68.9 56.4h1.2M77.6 57.1h1.2M86.9 50.2h1.2M50.2 55.4h1.2M78.7 53.4h1.2M104.0 62.9h1.2M64.3 55.0h1.2M48.0 53.3h1.2M68.3 52.9h1.2M56.1 56.3h1.2M66.7 56.2h1.2M48.4 56.9h1.2M60.9 61.1h1.2M72.0 53.7h1.2M60.1 56.6h1.2M90.6 52.4h1.2M65.6 49.8h1.2M86.4 57.1h1.2M49.8 58.3h1.2M58.5 58.5h1.2M88.0 55.8h1.2M55.7 56.5h1.2M52.6 53.4h1.2M66.3 60.7h1.2M58.7 54.0h1.2M71.3 52.3h1.2M73.6 57.3h1.2M55.6 53.9h1.2M55.6 58.2h1.2M70.8 57.7h1.2M102.4 55.2h1.2M82.2 56.2h1.2M87.7 55.5h1.2M72.0 52.2h1.2M71.5 58.7h1.2M65.0 59.2h1.2M89.7 56.0h1.2M67.2 56.7h1.2M70.5 57.1h1.2M79.4 56.8h1.2M60.3 55.4h1.2M86.3 59.3h1.2M95.1 61.7h1.2M55.4 53.3h1.2M84.7 56.8h1.2M74.0 53.6h1.2M89.1 55.4h1.2M69.1 56.7h1.2M64.6 56.9h1.2M60.7 57.6h1.2M85.0 57.2h1.2M57.8 54.4h1.2M66.9 55.6h1.2M49.5 53.4h1.2M67.9 54.1h1.2M77.0 52.6h1.2M72.8 60.1h1.2M81.5 54.6h1.2M81.7 56.4h1.2M55.1 53.1h1.2M73.4 57.5h1.2M55.3 54.3h1.2M65.2 57.6h1.2M85.5 58.3h1.2M60.2 54.6h1.2M64.1 55.6h1.2M73.5 56.4h1.2M52.1 56.8h1.2M68.6 60.7h1.2M63.1 54.3h1.2M47.6 55.5h1.2M51.5 53.8h1.2M71.6 57.7h1.2M79.3 57.2h1.2M93.3 50.5h1.2M70.0 58.2h1.2M59.8 57.0h1.2M68.7 50.2h1.2M63.7 55.2h1.2M82.0 57.0h1.2M67.2 59.0h1.2M90.7 55.0h1.2M79.7 58.8h1.2M73.8 53.8h1.2M68.7 58.4h1.2M57.6 52.1h1.2M69.0 59.8h1.2M89.4 59.7h1.2M72.8 57.8h1.2M99.6 59.9h1.2M73.2 58.1h1.2M57.8 51.4h1.2M65.1 55.7h1.2M55.0 54.6h1.2M74.7 55.3h1.2M84.1 63.0h1.2M57.2 55.9h1.2M76.5 54.9h1.2M71.2 55.2h1.2M53.6 57.1h1.2M74.5 56.0h1.2M55.5 55.3h1.2M70.9 54.7h1.2M54.8 50.9h1.2M74.5 55.2h1.2M56.2 59.2h1.2M71.0 59.8h1.2M62.3 59.3h1.2M73.0 52.4h1.2M70.2 50.5h1.2M78.4 59.5h1.2M62.5 57.8h1.2M61.2 59.9h1.2M77.6 55.4h1.2M83.2 55.4h1.2M84.7 59.1h1.2M74.3 50.4h1.2M71.4 52.6h1.2M60.1 59.0h1.2M75.7 58.0h1.2M59.8 56.9h1.2M70.9 53.2h1.2M76.4 61.7h1.2M56.7 52.1h1.2M106.7 56.0h1.2M75.8 58.9h1.2M70.2 59.7h1.2M55.0 54.2h1.2M90.1 57.1h1.2M63.3 56.1h1.2M78.6 55.8h1.2M53.8 55.5h1.2M70.6 57.4h1.2M89.1 53.7h1.2M68.0 59.6h1.2M78.0 51.0h1.2M77.7 60.1h1.2M78.3 57.2h1.2M86.9 58.1h1.2M83.8 54.9h1.2M64.9 60.2h1.2M77.4 54.1h1.2" stroke="#4a4a4a" stroke-width="1.2" fill="none" opacity="0.55"/>
<path d="M112.8 101.1h1.2M118.6 114.0h1.2M117.7 124.8h1.2M97.2 127.8h1.2M76.3 105.6h1.2M117.0 115.8h1.2M122.7 122.4h1.2M139.4 120.8h1.2M109.7 119.1h1.2M90.4 120.3h1.2M68.3 101.7h1.2M122.7 113.3h1.2M120.6 118.9h1.2M78.4 128.9h1.2M100.7 119.7h1.2M118.2 119.2h1.2M125.3 108.1h1.2M121.7 117.4h1.2M128.4 122.1h1.2M111.1 111.9h1.2M122.9 116.6h1.2M54.6 110.2h1.2M124.0 126.3h1.2M138.3 80.8h1.2M120.7 120.9h1.2M124.6 109.9h1.2M72.0 122.1h1.2M136.6 118.5h1.2M135.4 116.4h1.2M115.9 117.7h1.2M60.7 109.4h1.2M63.4 130.4h1.2M106.1 129.2h1.2M51.5 116.5h1.2M108.2 122.0h1.2M74.0 103.3h1.2M103.9 117.9h1.2M106.7 117.8h1.2M123.1 113.9h1.2M119.3 132.4h1.2M113.4 111.5h1.2M107.9 129.9h1.2M122.4 116.5h1.2M122.8 122.7h1.2M127.4 107.9h1.2M100.3 122.8h1.2M117.6 126.4h1.2M125.7 126.6h1.2M123.1 113.4h1.2M117.1 105.2h1.2M123.9 124.5h1.2M125.8 107.1h1.2M117.5 110.3h1.2M123.6 123.0h1.2M89.8 123.1h1.2M116.8 118.6h1.2M138.4 131.9h1.2M138.9 114.4h1.2M118.9 121.2h1.2M101.5 111.6h1.2M120.5 120.5h1.2M130.6 129.0h1.2M74.6 121.1h1.2M108.1 115.8h1.2M118.1 124.1h1.2M129.7 111.5h1.2M130.2 128.9h1.2M115.5 103.4h1.2M106.5 52.3h1.2M121.1 108.7h1.2M128.0 115.0h1.2M114.0 122.9h1.2M102.1 116.8h1.2M104.0 112.2h1.2M120.9 78.6h1.2M88.0 127.7h1.2M117.2 99.3h1.2M100.2 127.0h1.2M118.3 120.9h1.2M129.3 115.9h1.2M94.4 131.3h1.2M117.1 116.5h1.2M125.1 108.3h1.2M100.2 124.6h1.2M113.0 120.1h1.2M117.3 129.8h1.2M127.9 118.8h1.2M108.9 125.7h1.2M115.0 122.4h1.2M65.2 78.7h1.2M112.1 112.4h1.2M119.8 56.0h1.2M104.7 123.5h1.2M140.9 52.8h1.2M129.9 127.5h1.2M121.3 129.0h1.2M124.9 109.0h1.2M117.6 116.8h1.2M135.7 125.1h1.2M129.4 123.7h1.2M109.4 54.3h1.2M134.6 116.2h1.2M125.4 121.9h1.2M132.3 118.2h1.2M118.2 123.0h1.2M111.3 124.8h1.2M125.4 122.5h1.2M115.7 127.7h1.2M124.9 118.9h1.2M113.3 119.8h1.2M114.7 114.9h1.2M122.5 121.4h1.2M117.8 128.7h1.2M117.8 115.8h1.2M114.9 129.6h1.2M122.3 131.1h1.2M118.3 130.9h1.2M137.5 116.0h1.2M120.8 110.8h1.2M117.8 108.6h1.2M102.0 110.1h1.2M110.2 96.6h1.2M123.8 111.3h1.2M110.7 125.4h1.2M135.9 130.4h1.2M117.0 126.9h1.2M129.5 112.6h1.2M104.7 121.4h1.2M127.6 126.4h1.2M60.2 128.1h1.2M142.4 113.3h1.2M116.9 123.4h1.2M113.8 111.5h1.2M125.0 126.1h1.2M120.8 119.7h1.2M133.2 106.0h1.2M125.1 121.6h1.2M128.0 119.4h1.2M122.7 123.5h1.2M123.1 126.2h1.2M120.2 113.5h1.2M137.1 118.7h1.2M100.2 107.9h1.2M104.8 107.5h1.2M123.0 109.0h1.2M134.2 127.6h1.2M84.1 116.8h1.2M117.1 120.8h1.2M129.2 56.4h1.2M116.9 111.5h1.2M124.8 121.7h1.2M122.7 117.2h1.2M126.0 119.9h1.2M112.7 126.6h1.2M120.4 129.1h1.2M99.9 126.5h1.2M118.3 120.2h1.2M104.0 118.1h1.2M131.5 130.4h1.2M59.8 127.6h1.2M118.6 119.7h1.2M122.5 128.5h1.2M142.4 125.2h1.2M115.0 55.9h1.2M113.3 112.7h1.2M91.1 109.6h1.2M120.7 106.3h1.2M91.6 117.3h1.2M123.9 111.2h1.2M126.4 126.7h1.2M117.2 129.0h1.2M120.2 120.2h1.2M135.5 130.2h1.2M86.2 104.9h1.2M102.4 117.2h1.2M121.4 117.3h1.2M125.5 117.2h1.2M130.3 116.8h1.2M51.9 83.0h1.2M127.7 126.9h1.2M124.5 121.6h1.2M119.8 113.5h1.2M127.3 125.5h1.2M130.9 106.5h1.2M123.9 130.6h1.2M123.9 117.3h1.2M124.2 122.3h1.2M95.0 124.2h1.2M108.3 50.9h1.2M122.8 132.4h1.2M104.2 131.0h1.2M128.6 119.6h1.2M124.4 112.8h1.2M48.5 118.0h1.2M127.7 124.8h1.2M139.2 111.3h1.2M125.0 123.6h1.2M142.2 113.5h1.2M123.3 131.0h1.2M103.5 115.1h1.2M139.6 52.0h1.2M120.3 124.5h1.2M126.4 125.5h1.2M136.1 126.7h1.2M112.2 122.1h1.2M110.4 123.7h1.2M129.5 114.5h1.2M130.5 107.9h1.2M74.9 111.2h1.2M130.7 114.1h1.2M118.2 132.3h1.2M120.2 126.3h1.2M88.1 114.6h1.2M116.0 128.5h1.2M136.0 115.4h1.2M126.7 117.5h1.2M88.7 101.5h1.2M122.9 119.0h1.2M131.8 113.5h1.2M117.4 117.1h1.2M124.1 117.0h1.2M114.8 131.2h1.2M123.4 124.9h1.2M101.8 116.1h1.2M129.5 119.2h1.2M75.7 117.7h1.2M123.9 123.7h1.2M127.9 96.4h1.2M121.1 114.6h1.2M115.7 110.8h1.2M123.0 99.6h1.2M119.4 119.0h1.2M121.7 125.3h1.2M123.0 123.6h1.2M127.0 128.5h1.2M117.7 124.7h1.2M97.1 110.9h1.2M133.3 116.3h1.2M118.8 118.8h1.2M116.5 112.6h1.2M121.7 132.2h1.2M93.9 117.0h1.2M97.6 114.0h1.2M124.8 131.4h1.2M111.0 130.5h1.2M84.3 120.6h1.2M123.3 100.5h1.2M117.6 108.5h1.2M128.5 124.2h1.2M123.1 124.3h1.2M124.0 129.0h1.2M126.1 128.8h1.2M70.3 118.6h1.2M116.9 128.1h1.2M106.9 130.9h1.2M116.7 125.3h1.2M125.3 120.4h1.2M126.9 122.2h1.2M126.9 129.1h1.2M98.2 59.7h1.2M118.9 127.9h1.2M92.6 122.6h1.2M120.8 130.7h1.2M131.4 115.8h1.2M103.0 116.3h1.2M125.5 124.5h1.2M103.1 129.6h1.2M119.8 120.8h1.2M125.4 96.7h1.2M76.5 130.5h1.2M131.7 119.7h1.2M119.7 117.4h1.2M128.1 128.5h1.2M116.3 128.8h1.2M121.7 118.3h1.2M123.0 127.7h1.2M129.1 114.0h1.2M119.2 130.9h1.2M105.9 105.3h1.2M110.0 116.1h1.2M122.7 132.3h1.2M131.2 114.3h1.2M116.1 116.9h1.2M125.7 115.0h1.2M108.1 107.0h1.2M104.5 132.3h1.2M99.6 109.3h1.2M127.7 121.1h1.2M121.4 126.2h1.2M62.4 121.3h1.2M128.2 121.5h1.2M123.0 100.5h1.2M124.0 122.1h1.2M109.7 122.1h1.2M127.5 121.2h1.2M123.9 129.3h1.2M111.5 130.5h1.2M106.2 117.8h1.2M115.1 124.5h1.2M141.5 98.1h1.2M125.5 125.4h1.2M64.6 129.4h1.2M129.2 101.2h1.2M121.8 116.7h1.2M136.7 115.0h1.2M123.6 117.0h1.2M117.5 110.4h1.2M126.8 115.7h1.2M129.1 125.7h1.2M125.8 119.4h1.2M102.3 126.8h1.2M55.4 103.4h1.2M97.0 120.2h1.2M54.1 130.3h1.2M71.8 127.2h1.2M124.2 116.9h1.2M124.8 96.7h1.2M121.7 123.6h1.2M122.0 110.7h1.2M89.0 109.7h1.2M127.1 95.1h1.2M110.1 120.7h1.2M119.5 122.3h1.2M71.5 75.1h1.2M113.4 113.2h1.2M82.3 110.8h1.2M123.9 113.3h1.2M125.7 114.0h1.2M116.9 127.9h1.2M122.9 122.3h1.2M66.0 120.8h1.2M141.2 109.2h1.2M122.8 121.6h1.2M82.6 111.2h1.2M108.0 118.3h1.2M103.9 130.3h1.2M112.7 115.1h1.2M106.8 117.6h1.2M109.8 107.1h1.2M139.5 126.1h1.2M101.7 116.8h1.2M120.8 120.1h1.2M129.2 129.5h1.2M108.8 111.4h1.2M125.9 117.6h1.2M117.7 130.8h1.2M121.8 122.9h1.2M123.6 106.7h1.2M65.7 130.6h1.2M140.2 101.3h1.2M124.0 112.2h1.2M111.8 131.3h1.2M125.8 50.6h1.2M125.6 115.0h1.2M116.1 126.2h1.2M117.0 122.8h1.2M115.2 121.4h1.2M127.9 56.0h1.2M128.3 121.1h1.2M118.8 130.1h1.2M114.5 122.0h1.2M140.2 110.5h1.2M73.4 115.1h1.2M114.9 107.6h1.2M114.6 121.3h1.2M123.6 116.8h1.2M140.4 107.1h1.2M112.0 132.3h1.2M121.7 129.4h1.2M102.3 111.4h1.2M71.6 84.8h1.2M119.7 117.4h1.2M121.0 126.2h1.2M109.9 112.6h1.2M135.4 118.4h1.2M121.3 127.8h1.2M120.5 114.6h1.2M120.6 126.7h1.2M116.0 125.3h1.2M110.9 112.6h1.2M118.9 115.7h1.2M115.2 117.6h1.2M127.0 125.2h1.2M118.3 118.2h1.2M127.4 109.6h1.2M117.5 102.9h1.2M121.5 129.3h1.2M120.2 131.0h1.2M127.6 129.1h1.2M125.8 110.5h1.2M133.1 110.9h1.2M131.1 119.0h1.2M117.1 112.4h1.2M127.1 127.3h1.2M106.2 117.4h1.2M105.0 115.5h1.2M104.1 117.0h1.2M128.9 123.2h1.2M134.3 130.6h1.2M110.4 117.6h1.2M115.7 128.4h1.2M112.3 117.7h1.2M70.6 88.2h1.2M126.1 116.7h1.2M122.9 96.4h1.2M121.9 129.6h1.2M106.0 116.2h1.2M104.1 104.6h1.2M129.3 123.3h1.2M110.2 125.2h1.2M115.8 119.9h1.2M131.4 125.8h1.2M111.5 110.4h1.2M121.4 125.2h1.2M124.7 125.2h1.2M50.7 92.1h1.2M120.8 119.6h1.2M122.8 129.6h1.2M130.5 115.4h1.2M124.5 126.5h1.2M117.8 117.6h1.2M126.0 127.5h1.2M118.9 119.6h1.2M133.1 103.6h1.2M113.0 128.1h1.2M117.2 131.9h1.2M120.0 114.6h1.2M80.7 114.7h1.2M114.5 112.7h1.2M122.1 103.4h1.2M125.3 83.0h1.2M124.4 118.8h1.2M109.1 56.8h1.2M117.9 113.6h1.2M128.9 56.3h1.2M118.2 101.7h1.2M62.9 131.5h1.2M122.8 114.3h1.2M116.7 130.2h1.2M107.3 126.0h1.2M118.9 117.0h1.2M136.4 125.9h1.2M93.9 123.4h1.2M121.4 124.2h1.2M139.6 122.9h1.2M125.5 127.9h1.2M94.6 120.1h1.2M118.8 125.8h1.2M116.4 98.1h1.2M120.8 117.7h1.2M108.5 111.1h1.2M124.6 122.4h1.2M121.4 111.5h1.2M123.1 110.2h1.2M114.8 124.6h1.2M131.8 121.0h1.2M125.6 121.0h1.2M119.9 57.1h1.2M123.2 130.6h1.2M112.0 113.7h1.2M122.5 105.3h1.2M137.0 123.6h1.2M137.1 66.7h1.2M119.3 127.7h1.2M133.9 122.3h1.2M90.8 107.5h1.2M100.0 116.4h1.2M128.0 111.3h1.2M120.1 118.5h1.2M91.6 106.2h1.2M110.7 116.7h1.2M85.8 111.7h1.2M115.3 109.5h1.2M123.2 104.9h1.2M127.9 107.5h1.2M122.4 107.4h1.2M130.0 126.4h1.2M123.1 120.9h1.2M133.0 124.3h1.2M127.4 110.4h1.2M116.5 113.7h1.2M120.3 112.0h1.2M119.6 106.8h1.2M117.2 126.6h1.2M108.0 110.8h1.2M111.7 119.8h1.2M104.4 124.9h1.2M123.9 113.3h1.2M74.6 101.6h1.2M123.0 110.7h1.2M119.8 120.6h1.2M129.2 131.2h1.2M114.6 122.2h1.2M123.0 119.4h1.2M139.3 121.5h1.2M124.6 117.3h1.2M122.4 129.3h1.2M120.7 126.8h1.2M107.1 122.7h1.2M108.0 122.8h1.2M102.3 122.1h1.2M126.4 131.6h1.2M131.9 116.3h1.2M126.0 119.0h1.2M101.4 131.6h1.2M69.9 119.5h1.2M122.6 115.7h1.2M124.0 129.5h1.2M122.4 52.6h1.2M127.2 126.8h1.2M125.2 124.3h1.2M117.6 118.5h1.2M120.3 126.5h1.2M119.5 121.7h1.2M122.0 130.6h1.2M129.4 120.0h1.2M120.2 111.0h1.2M125.6 115.3h1.2M116.7 57.7h1.2M132.1 131.3h1.2M111.7 125.5h1.2M104.2 54.1h1.2M101.8 90.6h1.2M125.1 131.8h1.2M119.9 112.7h1.2M125.6 109.9h1.2M128.1 130.4h1.2M122.4 122.7h1.2M93.8 132.1h1.2M91.2 115.9h1.2M126.0 107.0h1.2M104.4 115.1h1.2M136.4 112.7h1.2M119.2 121.8h1.2M126.7 120.1h1.2M63.2 111.9h1.2M60.3 120.7h1.2M120.6 124.3h1.2M121.7 129.1h1.2M118.6 121.2h1.2M113.8 113.5h1.2M126.1 127.8h1.2M123.1 120.1h1.2M112.9 84.9h1.2M117.1 113.4h1.2M127.8 122.5h1.2M109.6 106.6h1.2M130.4 103.3h1.2M117.0 122.4h1.2M122.2 121.8h1.2M113.5 126.6h1.2M112.0 123.3h1.2M121.4 120.9h1.2M121.3 123.4h1.2M97.0 130.3h1.2M121.2 117.7h1.2M100.0 119.3h1.2M123.0 106.4h1.2M127.6 115.0h1.2M129.8 118.3h1.2M137.8 113.4h1.2M132.8 106.1h1.2M120.4 129.4h1.2M121.4 114.7h1.2M121.5 118.5h1.2M106.3 120.0h1.2M110.2 117.2h1.2M116.7 132.3h1.2M103.8 114.5h1.2M126.2 117.3h1.2M116.8 124.9h1.2M104.6 115.7h1.2M103.4 119.9h1.2M127.5 116.9h1.2M136.6 121.0h1.2M49.8 108.5h1.2M114.7 99.2h1.2M131.2 125.4h1.2M112.8 117.9h1.2M117.1 107.4h1.2M121.8 115.3h1.2M122.5 126.4h1.2M121.2 116.2h1.2M120.4 120.8h1.2M125.4 126.9h1.2M103.8 125.1h1.2M117.7 131.9h1.2M125.0 57.5h1.2M112.4 129.2h1.2M122.5 127.9h1.2M131.8 125.0h1.2M120.3 126.0h1.2M119.3 120.5h1.2M92.4 122.5h1.2M123.9 113.5h1.2M114.4 121.4h1.2M92.6 129.3h1.2M125.6 115.6h1.2M120.0 116.5h1.2M120.6 128.3h1.2M89.1 127.9h1.2M108.1 56.7h1.2M118.4 107.5h1.2M68.9 112.5h1.2M129.1 119.7h1.2M118.2 117.6h1.2M81.9 128.6h1.2M135.3 113.5h1.2M91.3 117.2h1.2M120.4 122.7h1.2M122.0 116.6h1.2M116.4 122.8h1.2M124.6 121.2h1.2M117.0 107.4h1.2M129.7 123.4h1.2M137.1 125.3h1.2M120.3 101.7h1.2M116.1 120.6h1.2M106.0 114.7h1.2M63.4 110.2h1.2M115.5 109.4h1.2M118.0 114.9h1.2M107.6 116.0h1.2M109.8 110.0h1.2M125.3 121.7h1.2M121.0 117.9h1.2M98.9 55.4h1.2M115.3 127.6h1.2M132.7 110.1h1.2M124.4 113.3h1.2M120.1 119.3h1.2M119.0 119.6h1.2M80.1 101.4h1.2M128.0 120.0h1.2M120.5 114.5h1.2M126.8 124.8h1.2M120.4 125.8h1.2M122.0 119.5h1.2M129.7 124.9h1.2M124.0 111.8h1.2M123.2 110.5h1.2M124.5 114.1h1.2M136.5 113.8h1.2M120.0 122.7h1.2M130.8 126.6h1.2M115.2 118.1h1.2M103.6 114.5h1.2M122.8 119.3h1.2M134.2 120.6h1.2M65.8 104.2h1.2M124.5 130.7h1.2M88.5 129.2h1.2M71.6 107.5h1.2M121.0 125.3h1.2M127.5 115.1h1.2M118.9 115.6h1.2M124.0 123.0h1.2M133.6 110.7h1.2M94.4 123.6h1.2M117.5 125.7h1.2M115.3 121.0h1.2M117.8 117.2h1.2M120.0 130.2h1.2M129.1 106.2h1.2M98.7 119.8h1.2M130.7 118.8h1.2M128.2 115.6h1.2M62.5 130.0h1.2M136.8 124.3h1.2M124.1 124.0h1.2M110.8 114.4h1.2M122.0 119.6h1.2M131.0 112.9h1.2M123.4 117.2h1.2M123.5 123.6h1.2M122.0 108.6h1.2M115.5 131.2h1.2M130.1 115.3h1.2M129.2 124.1h1.2M111.4 122.3h1.2M141.9 130.7h1.2M108.5 116.4h1.2M125.6 122.7h1.2M125.9 123.4h1.2M118.6 114.9h1.2M77.0 97.3h1.2M112.9 50.0h1.2M115.9 120.2h1.2M67.3 110.4h1.2M121.6 105.9h1.2M124.2 102.3h1.2M112.6 52.7h1.2M127.8 104.9h1.2M124.2 127.3h1.2M103.4 114.8h1.2M120.0 109.6h1.2M115.9 130.9h1.2M83.7 126.7h1.2M136.0 117.9h1.2M124.1 114.9h1.2M123.9 126.9h1.2M53.0 116.3h1.2M123.4 110.8h1.2M126.5 126.8h1.2M115.1 128.8h1.2M121.5 119.0h1.2M123.1 118.7h1.2M118.3 129.7h1.2M118.9 131.8h1.2M95.4 126.2h1.2M78.5 120.9h1.2M66.6 111.4h1.2M122.3 124.8h1.2M116.7 118.7h1.2M117.3 127.1h1.2M128.6 54.5h1.2M121.4 117.3h1.2M121.6 115.1h1.2M106.5 98.0h1.2M118.1 111.6h1.2M120.4 122.7h1.2M115.1 117.2h1.2M118.2 131.5h1.2M121.5 129.5h1.2M130.8 122.2h1.2M120.7 125.4h1.2M118.4 108.6h1.2M135.9 114.2h1.2M120.0 114.3h1.2M125.7 127.2h1.2M109.5 125.8h1.2M104.6 117.6h1.2M91.5 125.7h1.2M102.5 130.9h1.2M132.0 117.8h1.2M119.4 119.1h1.2M113.5 114.4h1.2M132.4 118.1h1.2M113.3 93.3h1.2M96.0 121.3h1.2M96.1 120.3h1.2M133.9 122.0h1.2M128.4 121.1h1.2M114.5 115.6h1.2M137.4 123.3h1.2M89.0 65.4h1.2M124.5 107.7h1.2M120.9 125.0h1.2M126.4 122.2h1.2M82.2 123.1h1.2M133.4 114.7h1.2M109.1 119.4h1.2M122.8 124.5h1.2M125.0 111.8h1.2M122.2 124.5h1.2M123.1 116.4h1.2M130.8 117.5h1.2M120.6 123.1h1.2M125.0 122.2h1.2M120.8 108.1h1.2M122.8 108.8h1.2M133.4 129.4h1.2M139.4 114.9h1.2M116.9 128.1h1.2M106.1 116.3h1.2M128.8 118.0h1.2M74.2 109.0h1.2M114.9 104.5h1.2M115.4 121.5h1.2M130.0 113.5h1.2M129.5 116.5h1.2M121.2 118.1h1.2M138.2 117.9h1.2M120.3 122.7h1.2M122.1 111.9h1.2M109.2 112.8h1.2M123.3 113.6h1.2M128.8 114.8h1.2M122.8 128.1h1.2M118.2 112.5h1.2M129.4 109.9h1.2M127.5 120.4h1.2M117.6 118.7h1.2M135.3 117.3h1.2M109.6 127.3h1.2M98.4 111.6h1.2M114.4 117.4h1.2M123.8 103.7h1.2M103.5 104.5h1.2M54.5 111.2h1.2M122.2 124.5h1.2M112.6 112.8h1.2M105.9 115.4h1.2M121.0 124.1h1.2M133.8 127.8h1.2M116.1 129.7h1.2M115.7 101.3h1.2M115.9 123.6h1.2M121.5 106.8h1.2M130.0 122.2h1.2M113.5 121.0h1.2M81.2 107.6h1.2M128.1 125.1h1.2M121.3 120.4h1.2M127.3 116.6h1.2M114.8 118.2h1.2M116.3 113.7h1.2M119.5 122.7h1.2M124.1 116.1h1.2M125.6 119.3h1.2M132.1 113.5h1.2M137.2 111.4h1.2M108.0 53.5h1.2M115.2 129.8h1.2M125.2 116.0h1.2M115.3 116.6h1.2M119.4 116.0h1.2M121.2 108.0h1.2M109.7 75.3h1.2M122.6 125.7h1.2M121.5 132.1h1.2M128.8 106.7h1.2M119.6 109.0h1.2M124.7 130.5h1.2M125.7 125.5h1.2M110.8 115.3h1.2M110.2 114.9h1.2M126.2 106.5h1.2M104.4 127.5h1.2M118.6 124.1h1.2M113.9 126.8h1.2M101.5 61.1h1.2M119.5 130.0h1.2M114.1 119.0h1.2M124.7 122.2h1.2M134.2 105.1h1.2M103.8 105.3h1.2M119.6 116.0h1.2M119.9 124.5h1.2M123.0 122.1h1.2M130.0 128.9h1.2M121.4 121.8h1.2M96.3 121.3h1.2M123.4 107.3h1.2M120.8 105.2h1.2M118.3 130.2h1.2M122.8 114.9h1.2M100.6 122.9h1.2M97.1 131.8h1.2M127.6 119.5h1.2M126.2 99.4h1.2M129.3 114.4h1.2M121.9 120.2h1.2M107.5 112.0h1.2" stroke="#666" stroke-width="1.2" fill="none" opacity="0.50"/>
<path d="M93.4 125.5h1.2M120.1 131.4h1.2M127.6 104.9h1.2M115.7 115.2h1.2M109.5 114.7h1.2M118.6 118.1h1.2M111.7 122.9h1.2M113.7 121.8h1.2M112.6 126.5h1.2M121.7 115.2h1.2M116.7 122.1h1.2M121.8 119.3h1.2M108.3 130.5h1.2M100.1 114.7h1.2M102.6 119.8h1.2M97.0 114.7h1.2M118.1 119.1h1.2M120.9 113.5h1.2M113.6 109.0h1.2M123.0 118.1h1.2M127.3 117.4h1.2M117.2 108.3h1.2M128.2 108.3h1.2M115.0 109.1h1.2M116.4 129.5h1.2M103.7 116.1h1.2M71.2 121.5h1.2M111.3 122.0h1.2M128.4 115.5h1.2M125.9 122.3h1.2M90.4 117.2h1.2M123.1 132.5h1.2M117.7 123.2h1.2M118.5 113.3h1.2M131.7 126.7h1.2M132.8 111.8h1.2M127.6 130.6h1.2M68.3 130.5h1.2M130.5 122.0h1.2M111.7 120.3h1.2M114.5 109.3h1.2M50.4 123.1h1.2M130.6 100.7h1.2M110.7 61.5h1.2M113.8 109.9h1.2M126.2 107.9h1.2M71.0 129.2h1.2M135.8 102.4h1.2M119.5 127.0h1.2M124.5 125.4h1.2M123.5 116.0h1.2M122.6 115.9h1.2M116.0 100.1h1.2M76.1 121.6h1.2M125.8 122.9h1.2M131.8 113.7h1.2M109.4 117.2h1.2M96.7 81.4h1.2M58.0 113.3h1.2M119.8 117.6h1.2M125.7 53.2h1.2M119.4 120.3h1.2M116.2 129.0h1.2M119.5 118.4h1.2M116.5 123.9h1.2M61.8 129.1h1.2M87.6 129.8h1.2M81.1 129.4h1.2M121.2 116.0h1.2M83.9 132.4h1.2M98.7 117.5h1.2M114.8 112.8h1.2M121.7 118.7h1.2M115.9 108.9h1.2M112.5 125.3h1.2M131.5 107.7h1.2M124.0 125.3h1.2M118.2 122.2h1.2M113.0 116.1h1.2M130.8 120.0h1.2M84.5 117.3h1.2M104.1 117.6h1.2M132.2 62.4h1.2M117.6 122.6h1.2M111.4 119.3h1.2M113.4 109.7h1.2M72.1 116.0h1.2M112.7 117.4h1.2M108.2 111.0h1.2M120.1 129.1h1.2M120.4 101.7h1.2M115.8 124.6h1.2M126.2 123.8h1.2M110.9 124.4h1.2M122.0 106.1h1.2M124.2 118.1h1.2M111.7 129.5h1.2M121.4 120.0h1.2M111.1 110.1h1.2M115.8 123.1h1.2M122.6 131.6h1.2M123.2 122.8h1.2M122.2 123.7h1.2M115.0 128.6h1.2M110.0 111.6h1.2M85.9 122.3h1.2M114.3 108.3h1.2M118.3 132.2h1.2M105.1 104.9h1.2M106.8 126.2h1.2M123.2 115.9h1.2M119.2 120.7h1.2M122.9 122.6h1.2M122.2 108.4h1.2M132.5 123.5h1.2M126.2 74.9h1.2M110.4 114.1h1.2M113.2 113.4h1.2M134.7 56.0h1.2M126.0 127.4h1.2M112.7 102.6h1.2M127.4 117.9h1.2M124.8 131.1h1.2M119.0 121.5h1.2M125.9 123.6h1.2M48.7 125.1h1.2M105.5 124.9h1.2M118.9 121.6h1.2M135.3 112.1h1.2M123.2 123.0h1.2M125.7 105.1h1.2M116.9 116.1h1.2M130.4 114.5h1.2M124.7 118.1h1.2M120.2 131.7h1.2M124.2 118.2h1.2M74.6 119.6h1.2M78.3 114.1h1.2M109.9 127.9h1.2M120.2 103.0h1.2M124.5 109.8h1.2M98.2 123.2h1.2M138.4 117.3h1.2M69.1 124.7h1.2M112.2 108.9h1.2M121.9 116.5h1.2M121.5 125.5h1.2M119.3 124.1h1.2M112.3 118.0h1.2M108.4 131.2h1.2M126.0 114.4h1.2M116.4 117.2h1.2M126.9 125.5h1.2M117.9 115.5h1.2M126.1 110.9h1.2M127.2 116.0h1.2M55.3 119.3h1.2M124.9 115.5h1.2M126.4 117.8h1.2M121.3 128.2h1.2M99.4 106.4h1.2M118.4 99.2h1.2M140.5 126.7h1.2M116.8 129.1h1.2M136.0 113.0h1.2M123.8 110.7h1.2M104.8 56.9h1.2M138.4 129.4h1.2M124.4 125.5h1.2M120.4 122.4h1.2M111.8 114.6h1.2M128.9 123.4h1.2M120.8 113.8h1.2M129.2 68.1h1.2M106.1 110.7h1.2M111.8 127.7h1.2M112.1 121.4h1.2M120.3 122.6h1.2M117.9 113.3h1.2M87.3 120.7h1.2M54.8 119.8h1.2M137.3 120.4h1.2M130.6 112.0h1.2M118.8 121.2h1.2M120.9 127.3h1.2M124.2 129.0h1.2M122.0 121.9h1.2M128.5 57.0h1.2M121.5 132.0h1.2M126.0 125.2h1.2M129.4 117.7h1.2M131.7 126.4h1.2M110.6 121.0h1.2M133.0 130.4h1.2M128.4 100.9h1.2M126.9 119.2h1.2M77.2 128.4h1.2M122.9 120.6h1.2M121.9 121.0h1.2M132.5 111.6h1.2M134.9 119.7h1.2M78.2 128.2h1.2M126.4 129.2h1.2M119.0 126.6h1.2M125.9 127.1h1.2M118.0 111.6h1.2M118.3 116.2h1.2M113.0 120.4h1.2M123.0 110.6h1.2M123.2 131.6h1.2M125.5 125.1h1.2M114.8 122.9h1.2M122.0 118.1h1.2M131.0 128.8h1.2M114.8 112.3h1.2M122.0 130.3h1.2M115.6 131.6h1.2M69.4 129.1h1.2M68.3 119.5h1.2M124.0 114.1h1.2M128.2 128.7h1.2M94.3 121.5h1.2M61.3 119.1h1.2M120.7 118.5h1.2M112.4 120.9h1.2M61.9 123.8h1.2M117.9 121.4h1.2M123.1 112.1h1.2M85.9 124.4h1.2M116.0 126.7h1.2M116.3 112.4h1.2M120.5 117.7h1.2M125.2 129.7h1.2M123.9 129.8h1.2M70.7 123.9h1.2M75.3 87.3h1.2M121.9 121.5h1.2M128.0 115.9h1.2M126.0 118.4h1.2M132.8 110.5h1.2M91.4 118.6h1.2M122.9 118.8h1.2M122.7 115.2h1.2M54.0 130.4h1.2M119.0 122.4h1.2M121.1 120.2h1.2M97.2 57.5h1.2M123.8 128.7h1.2M112.7 50.7h1.2M132.5 106.3h1.2M128.1 119.6h1.2M80.3 125.1h1.2M117.7 121.8h1.2M130.0 115.2h1.2M138.3 128.3h1.2M126.2 110.7h1.2M123.4 115.7h1.2M125.6 122.1h1.2M111.6 116.0h1.2M139.6 55.7h1.2M121.4 102.6h1.2M115.9 115.6h1.2M130.0 113.6h1.2M114.4 104.3h1.2M122.0 114.4h1.2M116.3 123.3h1.2M137.9 123.0h1.2M116.7 114.2h1.2M123.8 126.5h1.2M110.3 128.6h1.2M113.2 129.0h1.2M133.5 113.9h1.2M125.5 116.3h1.2M118.2 120.3h1.2M115.2 124.4h1.2M122.3 124.8h1.2M109.4 130.8h1.2M117.1 114.6h1.2M130.6 110.2h1.2M124.8 112.6h1.2M120.5 112.7h1.2M132.0 131.7h1.2M124.8 121.9h1.2M118.8 128.3h1.2M137.1 116.6h1.2M123.9 118.0h1.2M109.8 106.9h1.2M117.0 117.9h1.2M109.0 122.5h1.2M130.4 104.0h1.2M86.9 89.3h1.2M103.2 131.3h1.2M134.4 131.6h1.2M111.4 121.8h1.2M126.7 129.5h1.2M123.8 114.6h1.2M128.3 125.6h1.2M92.7 119.5h1.2M116.5 114.1h1.2M123.7 118.0h1.2M128.0 125.0h1.2M112.4 117.2h1.2M123.5 107.0h1.2M88.9 132.3h1.2M128.2 110.4h1.2M122.5 120.0h1.2M134.5 121.0h1.2M119.1 124.0h1.2M123.9 125.8h1.2M119.7 131.1h1.2M118.9 99.5h1.2M117.7 125.3h1.2M129.4 116.2h1.2M134.5 121.7h1.2M131.8 119.7h1.2M99.6 112.5h1.2M125.6 114.2h1.2M126.4 127.6h1.2M105.7 123.2h1.2M119.5 106.4h1.2M132.4 121.6h1.2M119.4 114.0h1.2M125.1 117.9h1.2M119.8 116.7h1.2M132.4 116.8h1.2M132.7 107.5h1.2M137.5 50.1h1.2M124.8 123.9h1.2M75.6 121.2h1.2M132.9 123.8h1.2M107.8 114.8h1.2M131.7 130.9h1.2M95.7 121.1h1.2M129.8 125.5h1.2M111.8 118.9h1.2M95.9 106.0h1.2M80.8 105.2h1.2M126.7 114.0h1.2M130.3 121.2h1.2M128.0 110.0h1.2M115.6 124.3h1.2M111.1 121.8h1.2M127.0 104.2h1.2M127.8 122.4h1.2M100.7 119.6h1.2M115.3 109.8h1.2M122.3 124.1h1.2M118.7 110.1h1.2M63.6 117.8h1.2M124.5 124.5h1.2M89.0 131.3h1.2M113.9 115.6h1.2M132.1 115.7h1.2M115.2 129.4h1.2M113.2 130.4h1.2M105.7 124.6h1.2M123.7 108.3h1.2M111.4 127.5h1.2M112.5 109.4h1.2M119.1 119.9h1.2M120.5 125.3h1.2M125.7 120.5h1.2M126.1 123.0h1.2M120.7 114.3h1.2M130.0 121.0h1.2M123.5 117.3h1.2M120.8 117.5h1.2M127.0 111.6h1.2M122.7 106.9h1.2M137.9 56.4h1.2M115.3 118.3h1.2M110.8 77.0h1.2M119.3 121.2h1.2M123.2 120.9h1.2M124.9 115.9h1.2M114.3 106.9h1.2M122.9 122.4h1.2M130.6 117.4h1.2M99.3 131.1h1.2M59.0 111.8h1.2M123.8 125.7h1.2M124.4 122.4h1.2M108.6 121.1h1.2M132.8 130.3h1.2M116.3 122.4h1.2M126.3 125.3h1.2M125.8 129.3h1.2M126.0 115.6h1.2M122.8 111.4h1.2M109.7 120.5h1.2M110.2 131.3h1.2M122.0 118.8h1.2M120.6 119.9h1.2M123.0 128.7h1.2M93.1 129.4h1.2M115.3 119.4h1.2M126.7 129.5h1.2M129.7 115.4h1.2M106.9 114.3h1.2M140.8 104.8h1.2M120.7 118.2h1.2M111.1 104.9h1.2M116.1 108.5h1.2M107.1 118.5h1.2M121.0 117.8h1.2M129.3 127.6h1.2M122.6 113.9h1.2M135.0 122.0h1.2M121.4 124.2h1.2M124.3 117.3h1.2M129.5 123.3h1.2M127.9 101.9h1.2M99.0 110.8h1.2M124.3 125.0h1.2M115.6 126.5h1.2M139.3 129.7h1.2M131.6 127.3h1.2M111.2 115.5h1.2M121.1 114.0h1.2M118.6 116.2h1.2M118.9 117.5h1.2M115.1 121.6h1.2M110.4 121.5h1.2M112.3 130.7h1.2M122.8 127.8h1.2M121.3 102.0h1.2M127.4 110.2h1.2M130.1 121.7h1.2M114.1 118.3h1.2M125.4 129.5h1.2M113.2 55.5h1.2M119.1 122.5h1.2M123.5 127.4h1.2M120.7 120.3h1.2M128.2 113.6h1.2M130.5 124.7h1.2M129.5 118.1h1.2M106.0 107.5h1.2M131.8 55.0h1.2M123.3 119.1h1.2M136.2 128.9h1.2M130.3 120.4h1.2M107.3 117.9h1.2M101.7 119.7h1.2M125.5 118.8h1.2M134.0 126.8h1.2M115.6 124.2h1.2M100.0 129.0h1.2M126.7 120.9h1.2M124.2 112.2h1.2M120.5 127.7h1.2M49.8 78.9h1.2M123.8 119.9h1.2M116.0 127.4h1.2M116.2 130.4h1.2M68.8 123.8h1.2M128.1 125.0h1.2M117.3 129.6h1.2M118.4 129.1h1.2M129.4 119.5h1.2M133.0 131.8h1.2M126.5 118.3h1.2M128.4 123.5h1.2M125.1 128.3h1.2M127.6 114.8h1.2M123.8 128.2h1.2M119.4 116.7h1.2M123.6 110.7h1.2M125.2 132.3h1.2M100.9 121.9h1.2M105.2 108.2h1.2M135.3 121.6h1.2M111.0 123.6h1.2M123.2 107.2h1.2M123.7 121.9h1.2M111.2 111.4h1.2M117.6 103.7h1.2M119.5 108.3h1.2M107.6 111.1h1.2M126.7 101.4h1.2M119.0 114.0h1.2M127.5 129.8h1.2M127.9 127.7h1.2M107.2 114.0h1.2M141.5 131.9h1.2M124.1 131.2h1.2M70.7 75.7h1.2M127.3 117.3h1.2M122.8 100.7h1.2M115.4 124.2h1.2M137.5 130.5h1.2M110.5 123.6h1.2M125.1 125.4h1.2M97.0 51.5h1.2M91.2 121.0h1.2M119.5 130.3h1.2M103.3 119.5h1.2M120.3 61.4h1.2M101.1 125.6h1.2M119.0 126.9h1.2M123.1 119.9h1.2M124.5 112.4h1.2M110.8 113.2h1.2M90.7 124.7h1.2M87.6 127.7h1.2M103.9 128.1h1.2M117.5 115.9h1.2M135.4 108.9h1.2M106.5 117.3h1.2M120.4 120.2h1.2M114.6 121.5h1.2M127.4 107.6h1.2M140.3 52.9h1.2M112.7 128.7h1.2M127.4 109.8h1.2M118.2 114.2h1.2M105.6 120.6h1.2M98.0 117.3h1.2M110.7 107.5h1.2M108.4 58.7h1.2M117.5 122.5h1.2M91.0 123.9h1.2M113.5 115.6h1.2M118.7 115.6h1.2M124.5 109.7h1.2M90.1 112.5h1.2M126.6 129.9h1.2M126.3 120.8h1.2M106.9 114.7h1.2M110.6 118.7h1.2M110.0 115.6h1.2M123.3 129.5h1.2M100.6 57.6h1.2M121.3 127.7h1.2M125.8 125.9h1.2M118.6 115.4h1.2M117.6 123.8h1.2M125.5 118.4h1.2M112.4 102.9h1.2M124.2 119.5h1.2M119.6 125.6h1.2M108.4 104.7h1.2M122.8 116.4h1.2M116.7 126.5h1.2M122.8 114.4h1.2M106.7 117.5h1.2M121.8 118.9h1.2M102.7 112.8h1.2M119.6 120.0h1.2M105.7 124.8h1.2M127.3 121.7h1.2M99.8 131.6h1.2M128.4 125.0h1.2M118.3 128.9h1.2M111.0 122.0h1.2M135.0 118.6h1.2M131.6 107.2h1.2M126.9 132.0h1.2M141.3 122.9h1.2M117.0 121.4h1.2M102.1 123.2h1.2M121.1 129.1h1.2M116.7 116.0h1.2M124.2 117.0h1.2M132.7 113.2h1.2M102.5 127.5h1.2M83.3 100.6h1.2M115.4 126.8h1.2M125.7 124.1h1.2M125.7 103.7h1.2M112.7 116.1h1.2M124.8 111.5h1.2M130.7 103.3h1.2M92.3 120.7h1.2M117.1 122.6h1.2M136.5 128.0h1.2M115.0 117.4h1.2M123.6 119.7h1.2M124.9 108.9h1.2M119.3 123.5h1.2M121.6 121.0h1.2M124.1 122.1h1.2M135.6 123.2h1.2M117.1 118.2h1.2M122.6 123.5h1.2M128.3 131.1h1.2M110.2 116.6h1.2M116.7 128.3h1.2M136.3 119.4h1.2M113.0 101.0h1.2M121.7 125.9h1.2M104.3 118.0h1.2M130.4 123.1h1.2M129.3 125.9h1.2M117.5 118.1h1.2M107.6 131.4h1.2M122.5 124.6h1.2M130.5 126.2h1.2M77.4 90.1h1.2M131.2 110.4h1.2M123.8 122.6h1.2M127.2 106.7h1.2M121.8 125.1h1.2M135.8 119.2h1.2M126.7 104.7h1.2M102.9 56.4h1.2M106.6 105.4h1.2M118.2 98.6h1.2M114.2 100.1h1.2M87.1 102.3h1.2M119.5 118.0h1.2M120.4 109.7h1.2M126.1 109.2h1.2M126.9 104.0h1.2M125.1 121.4h1.2M112.4 128.7h1.2M134.3 116.4h1.2M78.0 119.2h1.2M116.6 123.3h1.2M107.1 103.9h1.2M123.8 124.2h1.2M126.3 121.8h1.2M120.0 126.6h1.2M118.0 113.8h1.2M111.3 110.1h1.2M115.2 55.7h1.2M58.6 127.8h1.2M104.8 99.4h1.2M88.4 122.2h1.2M116.5 114.6h1.2M115.2 113.8h1.2M136.1 113.3h1.2M98.0 129.6h1.2M104.8 117.0h1.2M135.6 50.8h1.2M113.8 118.8h1.2M108.2 127.4h1.2M133.2 118.0h1.2M118.8 116.1h1.2M95.9 115.5h1.2M114.2 131.3h1.2M90.8 101.5h1.2M127.0 117.2h1.2M122.2 111.4h1.2M88.1 126.7h1.2M121.7 120.3h1.2M118.4 115.3h1.2M104.1 127.3h1.2M88.7 110.9h1.2M114.8 122.8h1.2M116.6 109.2h1.2M83.0 121.3h1.2M104.4 129.5h1.2M122.3 119.1h1.2M102.5 106.5h1.2M84.2 122.9h1.2M124.9 118.3h1.2M118.7 131.9h1.2M126.4 110.3h1.2M64.0 99.6h1.2M114.8 122.9h1.2M122.0 119.9h1.2M120.4 118.2h1.2M124.1 116.0h1.2M73.6 128.3h1.2M134.2 127.7h1.2M122.1 52.9h1.2M131.2 113.4h1.2M134.0 122.6h1.2M140.1 110.5h1.2M129.9 117.5h1.2M128.0 117.7h1.2M129.8 113.2h1.2M120.7 114.5h1.2M118.2 116.1h1.2M121.0 126.4h1.2M123.4 119.3h1.2M116.0 112.4h1.2M123.3 117.1h1.2M130.1 123.1h1.2M124.0 101.3h1.2M118.8 124.8h1.2M134.6 53.7h1.2M125.8 119.6h1.2M122.9 106.6h1.2M115.3 122.1h1.2M120.5 124.9h1.2M123.8 120.2h1.2M132.2 102.8h1.2M108.6 117.6h1.2M117.8 100.5h1.2M71.5 129.6h1.2M117.6 110.4h1.2M99.0 115.8h1.2M102.4 54.2h1.2M109.7 122.2h1.2M130.1 124.7h1.2M114.4 113.7h1.2M115.2 120.7h1.2M128.9 110.2h1.2M129.3 122.2h1.2M129.5 116.2h1.2M136.0 118.9h1.2M113.7 123.8h1.2M117.9 112.7h1.2M116.9 123.9h1.2M116.3 117.8h1.2M95.5 107.0h1.2M99.0 113.3h1.2M126.0 123.6h1.2M122.0 121.6h1.2M138.6 109.5h1.2M126.8 128.1h1.2M116.1 115.2h1.2M115.2 121.9h1.2M114.0 117.5h1.2M121.4 131.3h1.2M128.2 128.6h1.2M114.4 106.4h1.2M125.1 106.3h1.2M126.5 110.1h1.2M120.0 130.7h1.2M109.1 121.9h1.2M127.8 119.2h1.2M75.5 112.1h1.2M111.9 116.4h1.2M124.3 116.3h1.2M111.9 121.6h1.2M90.1 130.5h1.2M123.2 118.1h1.2M123.1 112.2h1.2M66.8 122.9h1.2M115.9 128.1h1.2M129.4 117.4h1.2M96.5 122.5h1.2M114.9 120.4h1.2M86.5 130.0h1.2M123.6 119.1h1.2M114.1 114.7h1.2M131.2 113.0h1.2M51.0 62.5h1.2M95.1 111.8h1.2M128.8 122.4h1.2M125.4 128.7h1.2M119.2 123.2h1.2M118.4 109.2h1.2M116.9 113.8h1.2M110.2 124.3h1.2M117.2 120.3h1.2M116.3 118.0h1.2M130.6 123.2h1.2M119.0 116.7h1.2M131.7 111.3h1.2M76.7 116.5h1.2M126.7 110.0h1.2M126.4 115.6h1.2M86.3 117.8h1.2M127.1 112.7h1.2M103.4 122.5h1.2M126.2 122.2h1.2M98.4 119.9h1.2M125.8 119.2h1.2M113.7 118.9h1.2M123.8 124.7h1.2M121.7 116.3h1.2M121.9 122.1h1.2M135.6 123.4h1.2M124.9 120.2h1.2M110.6 124.0h1.2M117.9 109.5h1.2M121.4 108.8h1.2M121.1 120.9h1.2M114.6 115.8h1.2M124.2 120.8h1.2M111.1 93.4h1.2M121.5 128.3h1.2M118.3 128.9h1.2M129.8 112.8h1.2M122.3 127.3h1.2M115.2 121.0h1.2M119.0 125.2h1.2M129.9 118.6h1.2M123.7 123.5h1.2M106.1 126.2h1.2M123.0 129.4h1.2M73.3 126.1h1.2M102.5 121.1h1.2M129.7 117.0h1.2M70.6 131.5h1.2M125.9 132.4h1.2M119.2 104.7h1.2M110.9 120.8h1.2M123.6 109.9h1.2M135.2 116.1h1.2M106.5 121.2h1.2M121.5 123.3h1.2M86.7 113.5h1.2M137.4 130.7h1.2M118.4 108.5h1.2M106.8 115.3h1.2M122.6 124.8h1.2M125.0 113.8h1.2M124.6 113.7h1.2M129.7 121.3h1.2M68.1 123.4h1.2M115.6 127.7h1.2M122.2 127.3h1.2M126.7 124.0h1.2M121.1 118.2h1.2M126.4 111.7h1.2M127.8 126.0h1.2M115.4 107.3h1.2M88.4 128.4h1.2M130.0 116.5h1.2M121.0 126.8h1.2M130.2 111.0h1.2M130.7 115.9h1.2M131.7 117.6h1.2M114.7 119.4h1.2M125.4 117.6h1.2M102.6 118.2h1.2M120.0 112.1h1.2M125.4 131.9h1.2M140.4 125.8h1.2M111.6 120.0h1.2M111.2 118.0h1.2M122.0 125.0h1.2M116.7 128.1h1.2M114.3 107.8h1.2M116.0 128.6h1.2M116.4 119.5h1.2M127.4 131.1h1.2M118.0 131.0h1.2M108.4 113.1h1.2M102.4 56.2h1.2M109.2 124.3h1.2M114.5 121.6h1.2M92.2 115.8h1.2M128.8 116.4h1.2M118.8 122.5h1.2M97.5 117.0h1.2M128.1 123.3h1.2M134.0 111.7h1.2M120.8 118.4h1.2M110.0 117.3h1.2M137.2 124.3h1.2M109.7 110.1h1.2M122.6 127.5h1.2M129.4 123.0h1.2M68.7 94.7h1.2M110.9 131.5h1.2M120.8 130.4h1.2M100.2 117.9h1.2M109.9 119.2h1.2" stroke="#666" stroke-width="1.2" fill="none" opacity="0.50"/>
<path d="M85.3 114.0h1.2M124.4 85.8h1.2M116.8 128.0h1.2M121.2 102.9h1.2M133.4 124.2h1.2M121.3 127.8h1.2M136.7 102.4h1.2M120.9 123.5h1.2M127.2 115.9h1.2M126.0 119.6h1.2M125.0 103.5h1.2M124.6 129.1h1.2M130.1 117.2h1.2M129.8 121.1h1.2M126.2 130.1h1.2M129.3 118.6h1.2M128.7 117.2h1.2M114.1 86.9h1.2M126.3 118.9h1.2M119.8 127.4h1.2M84.0 119.1h1.2M94.3 105.8h1.2M126.5 125.7h1.2M109.3 119.2h1.2M120.1 114.5h1.2M63.5 100.6h1.2M130.4 123.2h1.2M91.2 109.4h1.2M111.4 116.0h1.2M130.7 117.2h1.2M123.7 127.0h1.2M129.6 122.9h1.2M130.1 107.8h1.2M77.7 86.3h1.2M121.0 120.1h1.2M119.7 127.2h1.2M113.2 120.1h1.2M114.2 126.6h1.2M96.6 95.0h1.2M119.4 115.1h1.2M126.9 120.2h1.2M118.5 126.7h1.2M126.0 126.8h1.2M127.7 115.1h1.2M129.3 120.3h1.2M122.1 103.8h1.2M124.1 116.7h1.2M120.8 117.6h1.2M113.8 113.1h1.2M136.2 116.6h1.2M82.6 116.0h1.2M82.5 121.2h1.2M66.2 131.8h1.2M122.5 124.8h1.2M127.1 117.7h1.2M112.1 116.5h1.2M118.8 122.2h1.2M123.4 120.0h1.2M128.3 118.9h1.2M62.2 125.7h1.2M135.1 120.3h1.2M125.3 122.6h1.2M113.8 117.0h1.2M113.1 105.5h1.2M114.3 116.6h1.2M105.7 111.8h1.2M92.2 115.5h1.2M101.4 113.8h1.2M120.5 129.6h1.2M117.2 109.1h1.2M74.9 124.2h1.2M122.9 103.0h1.2M122.6 113.0h1.2M120.8 123.4h1.2M125.7 114.4h1.2M108.5 117.8h1.2M137.5 52.3h1.2M119.9 118.7h1.2M93.4 121.2h1.2M125.2 127.1h1.2M120.8 114.2h1.2M105.4 123.8h1.2M118.9 106.7h1.2M117.2 100.2h1.2M125.5 123.5h1.2M125.0 109.0h1.2M125.5 112.1h1.2M115.7 115.9h1.2M104.3 112.3h1.2M102.8 128.9h1.2M120.0 118.9h1.2M124.1 119.0h1.2M126.9 129.6h1.2M119.3 109.5h1.2M115.9 118.0h1.2M92.8 120.8h1.2M123.7 116.7h1.2M131.5 118.4h1.2M121.5 128.5h1.2M100.9 125.5h1.2M120.6 127.9h1.2M123.1 125.8h1.2M59.9 73.9h1.2M139.8 127.8h1.2M125.7 128.0h1.2M118.8 128.9h1.2M123.1 129.5h1.2M123.0 122.6h1.2M118.4 118.7h1.2M58.3 113.0h1.2M114.9 116.8h1.2M70.3 89.7h1.2M109.4 126.8h1.2M114.1 109.4h1.2M107.2 108.9h1.2M122.4 111.4h1.2M124.5 105.2h1.2M120.5 122.3h1.2M99.7 117.7h1.2M95.8 126.9h1.2M120.9 121.4h1.2M119.4 129.3h1.2M127.3 105.4h1.2M64.5 120.1h1.2M103.2 129.5h1.2M119.8 110.6h1.2M122.7 105.7h1.2M115.5 104.9h1.2M129.5 112.4h1.2M120.8 109.5h1.2M122.9 117.1h1.2M120.6 127.4h1.2M137.8 110.3h1.2M110.2 105.9h1.2M126.8 108.6h1.2M127.7 115.4h1.2M58.6 123.2h1.2M113.0 105.4h1.2M114.0 117.8h1.2M122.4 126.6h1.2M101.6 119.9h1.2M133.5 111.0h1.2M119.2 130.2h1.2M129.9 108.3h1.2M99.3 108.1h1.2M108.2 122.8h1.2M57.1 110.5h1.2M93.9 124.7h1.2M120.1 118.5h1.2M119.6 114.6h1.2M134.7 53.2h1.2M116.9 106.8h1.2M76.6 123.2h1.2M124.6 122.6h1.2M103.6 116.7h1.2M127.3 113.2h1.2M129.9 119.7h1.2M104.6 132.1h1.2M117.7 112.6h1.2M109.4 117.3h1.2M140.9 109.5h1.2M110.5 132.0h1.2M125.6 124.9h1.2M120.5 116.9h1.2M118.6 123.0h1.2M133.7 125.1h1.2M120.9 129.7h1.2M117.8 125.8h1.2M119.8 115.3h1.2M103.1 109.5h1.2M126.6 128.3h1.2M130.3 122.2h1.2M109.0 113.0h1.2M117.0 115.2h1.2M117.8 122.6h1.2M56.5 98.1h1.2M109.1 125.1h1.2M116.2 89.0h1.2M126.8 117.8h1.2M118.2 51.9h1.2M115.6 118.0h1.2M135.0 126.4h1.2M135.4 120.5h1.2M126.3 119.4h1.2M126.5 130.7h1.2M128.6 130.1h1.2M129.1 102.4h1.2M131.3 123.2h1.2M127.2 125.7h1.2M120.7 120.5h1.2M116.8 122.4h1.2M128.3 118.4h1.2M122.3 122.4h1.2M105.7 109.2h1.2M140.4 76.9h1.2M68.2 124.2h1.2M122.1 102.9h1.2M120.5 108.4h1.2M122.1 112.4h1.2M119.8 119.0h1.2M125.0 121.3h1.2M128.8 117.6h1.2M120.9 131.5h1.2M128.4 113.8h1.2M118.1 129.5h1.2M106.5 129.1h1.2M101.2 110.3h1.2M124.6 129.8h1.2M141.7 54.0h1.2M124.4 127.5h1.2M66.2 117.4h1.2M125.1 105.5h1.2M119.4 116.8h1.2M119.0 117.4h1.2M141.9 117.1h1.2M129.9 102.9h1.2M123.2 120.1h1.2M80.5 128.7h1.2M123.5 123.7h1.2M82.4 106.7h1.2M133.3 122.6h1.2M118.4 105.1h1.2M136.3 118.3h1.2M54.4 125.8h1.2M116.3 115.2h1.2M120.1 121.7h1.2M99.0 111.2h1.2M127.6 117.1h1.2M124.8 117.0h1.2M134.1 120.3h1.2M120.9 109.1h1.2M122.0 129.9h1.2M91.4 132.5h1.2M118.6 122.5h1.2M129.0 109.4h1.2M126.9 115.9h1.2M126.4 108.4h1.2M86.8 124.9h1.2M105.8 106.0h1.2M55.0 107.4h1.2M99.3 127.6h1.2M114.6 114.1h1.2M123.0 106.1h1.2M105.8 107.1h1.2M130.9 50.6h1.2M122.6 111.6h1.2M127.9 128.5h1.2M130.0 122.5h1.2M124.4 116.6h1.2M104.6 121.1h1.2M116.6 116.7h1.2M141.7 116.9h1.2M125.4 118.3h1.2M126.1 123.7h1.2M133.2 130.5h1.2M120.2 121.3h1.2M115.9 121.2h1.2M126.7 116.6h1.2M78.2 118.3h1.2M120.1 119.9h1.2M115.9 102.0h1.2M108.0 111.1h1.2M120.0 105.0h1.2M63.5 101.1h1.2M111.5 130.4h1.2M123.3 128.9h1.2M121.3 115.6h1.2M80.9 126.7h1.2M128.5 124.8h1.2M128.0 102.9h1.2M110.9 118.3h1.2M73.9 120.5h1.2M116.6 117.9h1.2M103.3 127.9h1.2M81.3 127.9h1.2M98.4 120.9h1.2M98.9 117.1h1.2M130.2 119.5h1.2M123.9 130.4h1.2M124.1 106.4h1.2M100.8 126.2h1.2M120.1 106.6h1.2M135.9 53.9h1.2M112.5 103.8h1.2M72.3 110.1h1.2M125.8 109.7h1.2M124.0 129.5h1.2M97.9 111.5h1.2M113.2 127.7h1.2M120.2 120.3h1.2M99.2 111.4h1.2M121.3 103.4h1.2M110.1 121.5h1.2M126.7 116.1h1.2M119.3 127.5h1.2M112.2 110.2h1.2M98.9 125.9h1.2M124.3 109.9h1.2M115.5 124.0h1.2M123.7 99.6h1.2M100.7 79.0h1.2M116.0 119.5h1.2M126.4 122.0h1.2M101.2 55.0h1.2M104.3 127.5h1.2M109.9 105.9h1.2M119.5 106.3h1.2M113.1 122.6h1.2M106.1 110.9h1.2M126.6 121.7h1.2M114.5 123.7h1.2M119.0 118.9h1.2M124.5 104.2h1.2M65.1 121.4h1.2M108.2 111.0h1.2M128.6 120.1h1.2M118.6 110.9h1.2M124.5 111.5h1.2M124.7 112.1h1.2M124.4 123.5h1.2M128.0 128.6h1.2M122.4 114.6h1.2M125.8 124.6h1.2M116.2 125.7h1.2M105.0 125.1h1.2M106.1 115.2h1.2M52.2 81.2h1.2M111.8 105.2h1.2M124.4 122.0h1.2M133.4 120.9h1.2M72.7 123.4h1.2M122.8 126.1h1.2M109.8 129.2h1.2M119.5 120.6h1.2M129.8 130.1h1.2M78.1 124.3h1.2M112.5 130.1h1.2M136.1 114.8h1.2M85.3 114.5h1.2M126.5 103.2h1.2M117.9 118.7h1.2M118.0 119.1h1.2M119.9 109.8h1.2M131.8 113.9h1.2M127.0 112.5h1.2M97.9 121.1h1.2M120.1 118.5h1.2M79.6 66.2h1.2M123.8 118.9h1.2M122.2 125.9h1.2M129.7 122.9h1.2M87.2 125.8h1.2M135.5 122.8h1.2M120.5 131.9h1.2M119.4 120.0h1.2M127.9 106.6h1.2M134.9 108.1h1.2M128.7 109.2h1.2M117.1 115.9h1.2M123.8 118.8h1.2M134.6 124.1h1.2M127.4 124.8h1.2M125.8 115.9h1.2M120.9 120.0h1.2M62.8 118.1h1.2M113.3 129.3h1.2M127.7 120.8h1.2M101.5 110.4h1.2M132.7 126.1h1.2M117.7 110.8h1.2M114.5 107.6h1.2M125.1 50.4h1.2M108.1 128.2h1.2M123.1 108.6h1.2M121.5 109.5h1.2M101.0 129.6h1.2M116.4 125.2h1.2M113.3 120.2h1.2M141.3 107.5h1.2M119.7 116.6h1.2M123.7 118.8h1.2M141.1 128.9h1.2M118.1 127.1h1.2M128.1 123.4h1.2M136.5 128.9h1.2M133.1 115.8h1.2M136.5 120.1h1.2M120.9 118.7h1.2M120.7 117.5h1.2M122.9 115.2h1.2M116.3 122.8h1.2M121.0 114.5h1.2M121.7 118.9h1.2M125.6 128.5h1.2M119.0 122.1h1.2M133.6 129.5h1.2M112.0 123.7h1.2M127.7 113.7h1.2M121.7 125.3h1.2M118.1 121.2h1.2M126.9 121.4h1.2M124.2 116.2h1.2M73.1 131.2h1.2M98.9 60.2h1.2M111.8 122.1h1.2M119.4 114.8h1.2M94.7 110.1h1.2M128.2 121.9h1.2M116.5 115.8h1.2M114.5 118.6h1.2M113.8 123.3h1.2M115.1 112.1h1.2M107.8 117.2h1.2M121.0 116.8h1.2M127.2 123.9h1.2M105.9 115.4h1.2M127.2 121.2h1.2M109.6 55.2h1.2M62.8 121.5h1.2M130.1 115.6h1.2M120.7 116.4h1.2M105.2 127.3h1.2M118.6 121.7h1.2M127.2 121.0h1.2M115.2 124.0h1.2M83.6 121.8h1.2M118.6 116.2h1.2M123.2 120.1h1.2M123.1 53.2h1.2M128.7 118.4h1.2M106.5 116.7h1.2M116.5 128.3h1.2M127.2 127.4h1.2M130.6 99.4h1.2M125.8 116.0h1.2M136.0 116.0h1.2M105.0 57.9h1.2M120.8 121.2h1.2M100.7 128.9h1.2M109.2 61.1h1.2M126.1 119.6h1.2M120.8 126.7h1.2M122.4 118.3h1.2M118.1 126.2h1.2M106.9 124.2h1.2M132.4 126.6h1.2M132.1 121.0h1.2M120.8 117.9h1.2M66.8 123.8h1.2M120.0 116.8h1.2M122.8 130.1h1.2M127.1 119.0h1.2M128.0 122.8h1.2M76.9 116.3h1.2M120.0 126.4h1.2M119.9 117.6h1.2M125.8 119.3h1.2M137.7 125.1h1.2M133.7 112.5h1.2M125.1 123.8h1.2M120.7 126.6h1.2M95.1 130.3h1.2M117.1 124.6h1.2M118.6 121.2h1.2M135.3 119.8h1.2M124.2 113.4h1.2M133.2 130.2h1.2M124.4 121.0h1.2M129.9 124.2h1.2M117.1 117.8h1.2M118.8 125.8h1.2M127.2 120.3h1.2M119.7 118.4h1.2M109.1 131.8h1.2M100.5 123.0h1.2M103.1 101.8h1.2M116.4 130.6h1.2M116.4 124.0h1.2M118.2 106.3h1.2M135.7 121.4h1.2M121.7 123.1h1.2M116.1 120.9h1.2M127.0 119.5h1.2M133.8 114.6h1.2M122.1 111.5h1.2M121.4 122.3h1.2M82.5 122.2h1.2M122.3 118.8h1.2M108.3 125.8h1.2M124.7 109.2h1.2M140.3 113.8h1.2M124.2 119.3h1.2M141.7 111.5h1.2M97.4 115.5h1.2M121.3 129.6h1.2M125.9 53.1h1.2M76.7 121.7h1.2M122.2 124.3h1.2M105.7 125.1h1.2M122.5 130.0h1.2M85.1 121.4h1.2M118.9 111.8h1.2M82.2 121.3h1.2M112.7 121.0h1.2M120.6 126.9h1.2M120.9 126.5h1.2M75.9 123.5h1.2M120.7 116.6h1.2M116.6 122.4h1.2M79.2 124.9h1.2M72.6 115.6h1.2M124.3 118.8h1.2M121.2 109.2h1.2M124.8 129.5h1.2M121.0 100.0h1.2M126.7 132.2h1.2M125.9 117.6h1.2M96.3 125.5h1.2M93.6 122.6h1.2M129.2 121.9h1.2M128.5 123.1h1.2M120.8 103.5h1.2M118.7 119.0h1.2M137.1 128.8h1.2M129.7 131.8h1.2M137.8 113.3h1.2M123.2 117.8h1.2M114.7 108.9h1.2M125.8 119.6h1.2M93.4 131.4h1.2M58.0 121.0h1.2M139.2 121.7h1.2M122.4 113.4h1.2M134.4 110.9h1.2M117.9 106.8h1.2M122.4 122.7h1.2M128.6 113.1h1.2M122.4 121.8h1.2M123.4 115.4h1.2M97.5 118.4h1.2M131.3 99.4h1.2M122.5 126.6h1.2M118.9 123.7h1.2M113.4 131.6h1.2M117.6 119.4h1.2M113.7 131.9h1.2M93.8 127.6h1.2M128.4 112.5h1.2M114.8 116.6h1.2M122.5 109.9h1.2M124.2 131.2h1.2M118.2 111.9h1.2M130.0 126.4h1.2M131.8 53.2h1.2M127.4 106.1h1.2M124.8 122.8h1.2M123.2 117.4h1.2M123.4 104.6h1.2M100.1 103.3h1.2M122.6 110.6h1.2M134.4 115.3h1.2M100.8 104.6h1.2M126.3 125.4h1.2M102.2 56.8h1.2M118.6 118.9h1.2M141.5 129.7h1.2M108.6 124.7h1.2M124.2 123.2h1.2M122.2 121.5h1.2M132.6 115.4h1.2M127.1 120.3h1.2M123.2 124.7h1.2M125.3 118.8h1.2M126.0 122.2h1.2M129.1 115.4h1.2M130.5 117.6h1.2M134.4 116.6h1.2M125.7 120.0h1.2M113.5 111.0h1.2M122.2 118.2h1.2M121.4 126.1h1.2M56.5 124.9h1.2M128.8 111.7h1.2M67.2 105.8h1.2M121.0 109.8h1.2M108.5 117.3h1.2M114.7 131.0h1.2M119.5 131.0h1.2M126.3 118.6h1.2M127.2 128.7h1.2M124.5 120.3h1.2M73.5 126.8h1.2M118.6 103.0h1.2M60.8 105.7h1.2M137.6 128.1h1.2M122.0 123.1h1.2M130.4 130.4h1.2M122.4 124.8h1.2M126.4 113.8h1.2M126.6 105.2h1.2M123.9 111.9h1.2M117.3 131.5h1.2M121.4 113.4h1.2M127.2 124.0h1.2M127.3 111.1h1.2M125.5 129.6h1.2M107.6 114.8h1.2M140.2 117.4h1.2M117.4 131.1h1.2M123.3 110.6h1.2M121.0 124.9h1.2M91.3 108.2h1.2M113.3 118.3h1.2M130.0 117.2h1.2M120.1 118.8h1.2M116.9 119.0h1.2M135.7 127.3h1.2M128.0 122.2h1.2M120.7 123.7h1.2M129.2 115.7h1.2M122.5 121.5h1.2M115.8 120.3h1.2M96.6 122.6h1.2M131.2 125.5h1.2M116.2 117.1h1.2M116.7 123.8h1.2M122.3 115.1h1.2M137.8 120.7h1.2M101.7 116.4h1.2M123.2 48.8h1.2M120.6 115.8h1.2M133.0 127.9h1.2M132.3 104.7h1.2M121.6 125.5h1.2M128.9 125.8h1.2M120.4 132.3h1.2M126.9 113.1h1.2M113.9 126.1h1.2M123.9 102.2h1.2M111.5 117.8h1.2M117.2 94.9h1.2M123.6 127.6h1.2M112.0 101.5h1.2M130.0 118.0h1.2M117.1 107.8h1.2M129.5 117.1h1.2M122.5 114.8h1.2M125.3 114.8h1.2M128.9 117.8h1.2M119.8 129.0h1.2M123.2 124.4h1.2M111.4 121.5h1.2M65.9 123.3h1.2M116.2 118.2h1.2M108.4 130.2h1.2M137.6 108.6h1.2M115.3 109.5h1.2M105.9 103.1h1.2M120.5 120.8h1.2M103.0 112.4h1.2M138.2 115.0h1.2M120.0 122.5h1.2M111.1 129.1h1.2M124.8 128.2h1.2M87.2 124.4h1.2M119.6 123.8h1.2M117.2 127.5h1.2M104.7 128.0h1.2M131.8 116.2h1.2M102.3 126.9h1.2M124.2 126.8h1.2M120.9 103.4h1.2M98.4 122.8h1.2M104.4 122.5h1.2M118.9 123.4h1.2M124.3 122.2h1.2M127.4 130.8h1.2M107.8 129.7h1.2M116.6 123.1h1.2M118.8 127.6h1.2M129.4 113.4h1.2M88.6 124.7h1.2M63.4 122.7h1.2M110.8 117.5h1.2M124.4 125.6h1.2M119.0 114.9h1.2M117.5 131.8h1.2M124.1 128.3h1.2M101.8 106.7h1.2M127.9 118.6h1.2M140.2 120.8h1.2M108.7 128.6h1.2M67.8 115.8h1.2M137.8 131.3h1.2M125.8 99.3h1.2M116.0 123.4h1.2M92.6 115.0h1.2M138.3 110.5h1.2M64.1 123.5h1.2M103.6 104.9h1.2M120.6 115.2h1.2M116.9 109.7h1.2M117.1 117.8h1.2M122.2 116.3h1.2M130.5 128.3h1.2M118.8 121.8h1.2M121.2 127.3h1.2M135.3 117.9h1.2M101.3 121.9h1.2M119.7 121.8h1.2M101.3 105.5h1.2M104.0 50.8h1.2M121.3 123.5h1.2M70.5 118.6h1.2M120.0 129.3h1.2M92.5 108.1h1.2M121.6 123.9h1.2M112.5 120.7h1.2M125.5 124.9h1.2M122.5 120.3h1.2M111.2 107.7h1.2M109.4 54.5h1.2M121.3 119.4h1.2M116.1 124.1h1.2M139.0 118.5h1.2M117.3 113.5h1.2M132.3 120.9h1.2M116.0 103.4h1.2M138.1 129.7h1.2M106.5 114.4h1.2M114.2 116.9h1.2M129.3 110.3h1.2M122.9 120.3h1.2M116.1 127.3h1.2M120.2 130.4h1.2M119.0 109.2h1.2M122.8 110.4h1.2M138.4 117.9h1.2M114.1 52.9h1.2M114.5 129.2h1.2M118.4 124.2h1.2M84.3 115.6h1.2M112.3 118.2h1.2M123.5 108.8h1.2M118.8 128.1h1.2M136.4 117.5h1.2M59.0 107.4h1.2M128.7 116.0h1.2M131.1 120.8h1.2M108.2 112.4h1.2M114.7 117.4h1.2M106.3 52.0h1.2M116.1 126.1h1.2M114.0 124.9h1.2M123.4 114.1h1.2M98.6 109.2h1.2M126.9 110.2h1.2M83.5 126.6h1.2M106.4 107.8h1.2M132.3 123.5h1.2M118.6 111.7h1.2M126.5 109.7h1.2M115.8 130.0h1.2M124.2 120.7h1.2M101.3 115.3h1.2M113.6 120.2h1.2M114.9 127.1h1.2M77.9 126.0h1.2M128.0 116.3h1.2M128.0 125.3h1.2M119.5 103.1h1.2M124.3 125.1h1.2M109.2 115.8h1.2M132.5 127.7h1.2M138.4 122.1h1.2M125.9 116.0h1.2M116.5 107.2h1.2M121.6 131.4h1.2M104.5 131.0h1.2M66.7 125.2h1.2M130.7 112.3h1.2M126.3 118.3h1.2M97.4 118.8h1.2M94.0 118.1h1.2M117.9 127.3h1.2M128.0 119.8h1.2M98.7 121.2h1.2M119.4 132.2h1.2M67.8 125.8h1.2M102.2 119.6h1.2M79.8 128.2h1.2M121.8 122.0h1.2M125.6 118.5h1.2M130.5 126.2h1.2M101.8 81.4h1.2M79.9 126.1h1.2M121.3 94.4h1.2M115.3 127.9h1.2M119.1 112.9h1.2M73.6 125.8h1.2M68.2 121.5h1.2M102.0 105.8h1.2M121.1 104.6h1.2M118.5 126.1h1.2M130.8 104.1h1.2M127.5 119.4h1.2M122.2 111.7h1.2M120.7 125.2h1.2M116.3 114.6h1.2M122.3 126.5h1.2M112.0 123.4h1.2M80.7 127.0h1.2M110.3 112.8h1.2M130.7 125.4h1.2M57.9 125.7h1.2M120.9 119.3h1.2M97.8 114.3h1.2M109.8 127.3h1.2M121.9 122.5h1.2M139.9 122.4h1.2M117.9 118.3h1.2M111.8 124.7h1.2M85.6 109.8h1.2M105.5 108.1h1.2M120.0 125.7h1.2M89.6 80.0h1.2M80.5 115.7h1.2M125.5 127.0h1.2M117.3 102.8h1.2M119.9 120.4h1.2M116.2 121.5h1.2M122.1 119.6h1.2M120.4 118.4h1.2M120.4 118.1h1.2M126.0 126.2h1.2M73.2 130.1h1.2M129.6 127.9h1.2M128.8 125.1h1.2M125.5 111.6h1.2M122.6 125.1h1.2M124.1 117.9h1.2M109.1 117.6h1.2M124.7 108.1h1.2M122.7 120.0h1.2M93.2 125.8h1.2M118.1 116.3h1.2M125.5 125.3h1.2M111.2 113.0h1.2M127.5 104.6h1.2M134.1 108.4h1.2M120.0 117.5h1.2M121.6 120.9h1.2M93.7 120.2h1.2M133.7 130.5h1.2" stroke="#666" stroke-width="1.2" fill="none" opacity="0.50"/>
<rect x="47.4" y="46.7" width="97.1" height="87.3" fill="none" stroke="#777" stroke-width="0.8"/>
<path d="M47.4 46.7V134.0H144.5" stroke="#222" stroke-width="1.3" fill="none"/>
<path d="M50.5 134.0v2.8M52.9 134.0v2.8M54.9 134.0v2.8M56.6 134.0v2.8M58.0 134.0v2.8M59.3 134.0v2.8M60.4 134.0v4.6M67.9 134.0v2.8M72.2 134.0v2.8M75.3 134.0v2.8M77.7 134.0v2.8M79.7 134.0v2.8M81.4 134.0v2.8M82.8 134.0v2.8M84.1 134.0v2.8M85.2 134.0v4.6M92.7 134.0v2.8M97.0 134.0v2.8M100.1 134.0v2.8M102.5 134.0v2.8M104.5 134.0v2.8M106.2 134.0v2.8M107.6 134.0v2.8M108.9 134.0v2.8M110.0 134.0v4.6M117.5 134.0v2.8M121.8 134.0v2.8M124.9 134.0v2.8M127.3 134.0v2.8M129.3 134.0v2.8M131.0 134.0v2.8M132.4 134.0v2.8M133.7 134.0v2.8M134.8 134.0v4.6M142.3 134.0v2.8M47.4 130.6h-2.8M47.4 128.4h-2.8M47.4 126.7h-2.8M47.4 125.2h-2.8M47.4 123.9h-2.8M47.4 122.8h-2.8M47.4 121.8h-5.0M47.4 115.1h-2.8M47.4 111.1h-2.8M47.4 108.4h-2.8M47.4 106.2h-2.8M47.4 104.4h-2.8M47.4 102.9h-2.8M47.4 101.7h-2.8M47.4 100.5h-2.8M47.4 99.5h-5.0M47.4 92.8h-2.8M47.4 88.9h-2.8M47.4 86.1h-2.8M47.4 83.9h-2.8M47.4 82.2h-2.8M47.4 80.7h-2.8M47.4 79.4h-2.8M47.4 78.3h-2.8M47.4 77.2h-5.0M47.4 70.6h-2.8M47.4 66.6h-2.8M47.4 63.9h-2.8M47.4 61.7h-2.8M47.4 59.9h-2.8M47.4 58.4h-2.8M47.4 57.2h-2.8M47.4 56.0h-2.8M47.4 55.0h-5.0M47.4 48.3h-2.8" stroke="#222" stroke-width="0.8" fill="none"/>
<g transform="translate(61.0 148.8)"><text class="t7" font-size="8.2" text-anchor="middle" x="0" y="0">10<tspan dy="-3.9" font-size="6.8">2</tspan></text></g>
<g transform="translate(85.8 148.8)"><text class="t7" font-size="8.2" text-anchor="middle" x="0" y="0">10<tspan dy="-3.9" font-size="6.8">3</tspan></text></g>
<g transform="translate(110.6 148.8)"><text class="t7" font-size="8.2" text-anchor="middle" x="0" y="0">10<tspan dy="-3.9" font-size="6.8">4</tspan></text></g>
<g transform="translate(135.4 148.8)"><text class="t7" font-size="8.2" text-anchor="middle" x="0" y="0">10<tspan dy="-3.9" font-size="6.8">5</tspan></text></g>
<g transform="translate(40.2 122.0) rotate(-90)"><text class="t7" font-size="8.2" text-anchor="middle" x="0" y="0">10<tspan dy="-3.9" font-size="6.8">2</tspan></text></g>
<g transform="translate(40.2 99.8) rotate(-90)"><text class="t7" font-size="8.2" text-anchor="middle" x="0" y="0">10<tspan dy="-3.9" font-size="6.8">3</tspan></text></g>
<g transform="translate(40.2 77.5) rotate(-90)"><text class="t7" font-size="8.2" text-anchor="middle" x="0" y="0">10<tspan dy="-3.9" font-size="6.8">4</tspan></text></g>
<g transform="translate(40.2 55.3) rotate(-90)"><text class="t7" font-size="8.2" text-anchor="middle" x="0" y="0">10<tspan dy="-3.9" font-size="6.8">5</tspan></text></g>
<text class="t7" text-anchor="middle" x="94.6" y="158.2">CD45-1 PE Cy5-5-A</text>
<g transform="translate(28.8 91.0) rotate(-90)"><text class="t7" font-size="7.1" text-anchor="middle" x="0" y="0">GFP-A</text></g>
<rect x="90" y="95.3" width="53.8" height="38.5" fill="none" stroke="#000" stroke-width="1.6"/>
<text class="b" font-size="12.3" text-anchor="middle" x="80.8" y="23">Pre-sort</text>
<path d="M139.0 124.5H174.0" stroke="#000" stroke-width="1.5"/><path d="M178.0 124.5l-6.2 -2.9v5.8z" fill="#000"/>
<path d="M267.5 125.7h1.2M300.8 130.2h1.2M309.2 115.1h1.2M284.8 124.5h1.2M298.2 125.7h1.2M290.0 111.2h1.2M289.2 127.9h1.2M276.8 115.8h1.2M295.7 128.5h1.2M282.8 122.4h1.2M297.8 119.6h1.2M279.0 127.9h1.2M299.5 115.4h1.2M288.5 126.6h1.2M279.8 131.5h1.2M271.4 132.7h1.2M292.4 123.8h1.2M275.7 129.2h1.2M277.6 132.0h1.2M287.8 106.4h1.2M292.3 127.9h1.2M264.9 119.4h1.2M268.9 131.3h1.2M269.0 124.3h1.2M307.3 130.5h1.2M277.1 112.7h1.2M301.1 132.0h1.2M289.8 119.9h1.2M272.7 132.1h1.2M275.5 108.8h1.2M286.8 119.9h1.2M305.0 130.2h1.2M278.0 128.4h1.2M295.1 130.0h1.2M275.5 103.5h1.2M267.4 125.8h1.2M293.5 124.3h1.2M277.7 126.2h1.2M297.8 118.6h1.2M274.5 121.0h1.2M295.8 127.5h1.2M283.3 128.2h1.2M297.7 117.5h1.2M301.0 130.7h1.2M307.7 129.8h1.2M298.0 103.4h1.2M285.4 124.2h1.2M273.4 118.0h1.2M263.3 121.0h1.2M306.1 122.6h1.2M304.1 132.9h1.2M286.3 118.0h1.2M269.3 124.2h1.2M287.8 125.6h1.2M303.5 119.8h1.2M285.7 117.0h1.2M277.2 125.1h1.2M284.7 126.0h1.2M305.4 124.7h1.2M299.6 120.5h1.2M278.9 117.1h1.2M308.5 120.6h1.2M296.6 132.2h1.2M274.5 127.8h1.2M274.4 127.9h1.2M265.2 127.6h1.2M289.0 112.3h1.2M298.4 119.7h1.2M301.5 122.2h1.2M286.6 113.3h1.2M305.1 127.5h1.2M276.1 131.0h1.2M271.2 122.4h1.2M305.6 118.5h1.2M294.0 130.4h1.2M272.5 114.8h1.2M290.2 129.5h1.2M288.7 120.8h1.2M275.1 118.7h1.2M276.8 129.1h1.2M271.9 130.6h1.2M296.5 127.6h1.2M271.8 120.9h1.2M295.1 123.9h1.2M267.9 125.8h1.2M298.3 129.6h1.2M277.7 122.7h1.2M299.3 107.0h1.2M304.5 112.5h1.2M285.2 126.8h1.2M275.8 130.4h1.2M309.5 129.6h1.2M276.1 126.8h1.2M294.5 127.5h1.2M309.2 111.8h1.2M269.2 126.4h1.2M276.5 120.3h1.2M301.8 123.7h1.2M264.0 132.0h1.2M280.7 118.3h1.2M280.2 119.9h1.2M281.9 121.2h1.2M292.5 129.1h1.2M296.8 131.6h1.2M285.0 117.6h1.2M302.7 129.7h1.2M308.4 131.7h1.2M295.8 130.8h1.2M293.6 120.8h1.2M306.5 117.2h1.2M307.9 125.3h1.2M279.8 122.2h1.2M289.0 120.3h1.2M266.0 127.5h1.2M278.9 115.0h1.2M279.0 120.0h1.2M277.9 131.5h1.2M281.0 123.2h1.2M284.2 131.3h1.2M287.4 116.0h1.2M291.8 129.0h1.2M292.2 124.3h1.2M282.2 130.7h1.2M287.4 123.8h1.2M292.0 117.5h1.2M288.1 132.4h1.2M281.6 124.2h1.2M297.4 127.7h1.2M273.1 123.1h1.2M301.8 123.9h1.2M267.1 125.4h1.2M301.3 125.4h1.2M304.3 129.0h1.2M286.4 123.5h1.2M303.9 132.0h1.2M282.3 113.4h1.2M303.6 121.1h1.2M304.2 113.2h1.2M280.0 125.8h1.2M305.6 123.5h1.2M285.0 121.7h1.2M297.6 115.3h1.2M283.6 116.4h1.2M279.4 132.6h1.2M288.2 120.3h1.2M289.8 130.8h1.2M280.3 132.9h1.2M296.2 130.1h1.2M293.6 121.7h1.2M307.2 128.5h1.2M270.9 128.9h1.2M296.7 130.8h1.2M290.1 125.5h1.2M276.5 126.0h1.2M286.2 130.5h1.2M289.3 121.2h1.2M302.2 114.6h1.2M248.0 56.4h1.2M305.4 132.4h1.2M293.2 132.3h1.2M299.0 129.9h1.2M268.9 124.4h1.2M282.4 123.2h1.2M286.5 120.4h1.2M276.7 113.7h1.2M299.8 126.4h1.2M290.0 119.1h1.2M291.4 118.5h1.2M299.1 121.1h1.2M302.5 117.3h1.2M275.7 124.2h1.2M276.3 116.3h1.2M284.9 131.5h1.2M288.0 125.6h1.2M278.2 120.4h1.2M301.8 131.5h1.2M288.2 129.3h1.2M302.2 126.3h1.2M290.7 127.0h1.2M297.2 132.7h1.2M284.7 125.2h1.2M270.5 131.1h1.2M291.6 125.1h1.2M279.9 117.9h1.2M301.3 124.5h1.2M292.0 129.4h1.2M268.3 120.5h1.2M288.0 120.8h1.2M270.9 127.1h1.2M301.6 131.2h1.2M287.8 115.5h1.2M266.1 131.6h1.2M309.6 129.4h1.2M282.7 128.9h1.2M276.9 123.6h1.2M304.6 120.2h1.2M306.5 129.6h1.2M296.4 128.3h1.2M288.9 123.6h1.2M287.6 131.5h1.2M298.1 128.8h1.2M290.5 112.4h1.2M292.2 128.6h1.2M292.4 132.9h1.2M283.7 132.9h1.2M285.9 128.5h1.2M292.0 129.2h1.2M299.2 129.3h1.2M295.2 128.0h1.2M297.7 116.9h1.2M301.4 108.2h1.2M301.3 127.2h1.2M295.0 107.5h1.2M304.0 129.0h1.2M289.4 121.1h1.2M290.5 122.0h1.2M293.4 113.5h1.2M283.4 121.6h1.2M295.7 131.6h1.2M289.1 114.2h1.2M302.3 122.2h1.2M284.7 130.7h1.2M282.1 126.5h1.2M285.1 126.7h1.2M289.3 120.8h1.2M292.0 131.2h1.2M285.6 126.0h1.2M273.7 132.3h1.2M288.2 130.8h1.2M289.4 108.4h1.2M305.9 132.1h1.2M281.7 128.5h1.2M302.1 127.1h1.2M274.7 119.3h1.2M296.7 122.7h1.2M304.2 130.1h1.2M285.7 113.7h1.2M267.0 111.6h1.2M280.7 115.3h1.2M286.9 130.8h1.2M284.2 128.0h1.2M291.5 132.6h1.2M295.3 118.4h1.2M283.5 123.3h1.2M281.3 126.9h1.2M298.6 126.9h1.2M283.7 113.2h1.2M287.4 120.4h1.2M284.4 127.5h1.2M301.1 129.5h1.2M296.8 109.1h1.2M299.7 130.2h1.2M275.1 129.1h1.2M302.2 132.4h1.2M286.8 130.5h1.2M297.8 121.1h1.2M300.0 129.9h1.2M299.6 125.5h1.2M261.8 129.0h1.2M278.8 107.5h1.2M301.8 111.4h1.2M268.3 115.1h1.2M276.6 126.7h1.2M307.5 129.9h1.2M271.6 124.2h1.2M274.3 124.7h1.2M297.9 129.0h1.2M296.7 124.3h1.2M291.1 127.9h1.2M288.1 114.3h1.2M281.6 120.9h1.2M288.5 123.1h1.2M277.8 121.4h1.2M286.2 123.0h1.2M304.1 112.0h1.2M305.5 127.6h1.2M263.5 122.8h1.2M276.9 131.3h1.2M269.6 114.9h1.2M298.9 127.0h1.2M287.7 130.3h1.2M299.3 122.4h1.2M290.1 126.9h1.2M282.9 131.9h1.2M296.6 127.0h1.2M298.3 122.5h1.2M305.5 119.8h1.2M273.6 125.4h1.2M304.2 123.2h1.2M266.5 115.9h1.2M290.6 129.6h1.2M289.7 127.0h1.2M293.0 129.8h1.2M278.7 128.9h1.2M307.9 119.4h1.2M285.2 111.7h1.2M285.4 126.2h1.2M303.5 122.7h1.2M276.1 130.4h1.2M287.5 124.8h1.2M290.3 111.6h1.2M293.4 132.1h1.2M283.4 127.0h1.2M291.2 118.1h1.2M275.3 128.8h1.2M290.4 113.4h1.2M300.6 119.9h1.2M302.3 118.5h1.2M308.4 108.2h1.2M273.8 116.7h1.2M278.4 121.9h1.2M288.9 132.6h1.2M275.2 132.7h1.2M291.6 119.0h1.2M303.3 112.0h1.2M296.7 121.7h1.2M295.3 131.2h1.2M288.9 130.1h1.2M300.1 121.3h1.2M282.3 124.0h1.2M292.7 126.9h1.2M306.2 129.0h1.2M289.0 115.9h1.2M292.8 127.0h1.2M292.6 112.1h1.2M308.1 112.1h1.2M282.3 132.6h1.2M285.4 121.4h1.2M309.3 127.8h1.2M291.2 118.1h1.2M302.1 123.2h1.2M281.7 132.9h1.2M296.0 131.5h1.2M301.0 128.5h1.2M278.9 123.0h1.2M298.4 120.4h1.2M290.6 121.3h1.2M290.8 120.6h1.2M284.7 127.0h1.2M289.0 123.3h1.2M284.0 131.0h1.2M292.5 132.5h1.2M285.0 119.7h1.2M280.4 119.0h1.2M293.0 128.4h1.2M308.5 123.0h1.2M303.0 120.3h1.2M309.0 124.8h1.2M280.6 127.9h1.2M296.1 117.3h1.2M295.3 128.4h1.2M301.2 127.9h1.2M300.7 131.2h1.2M299.8 121.7h1.2M293.2 117.3h1.2M305.0 131.1h1.2M283.5 126.6h1.2M285.8 125.5h1.2M302.9 121.3h1.2M295.3 132.5h1.2M271.8 122.0h1.2M290.8 128.9h1.2M306.1 129.5h1.2M291.0 122.3h1.2M278.6 129.0h1.2M299.3 113.7h1.2M270.9 113.1h1.2M292.5 129.3h1.2M284.8 117.3h1.2M302.3 114.4h1.2M271.8 127.2h1.2M285.0 131.1h1.2M297.4 128.1h1.2M286.3 127.2h1.2M269.6 128.2h1.2M272.4 127.1h1.2M262.3 118.4h1.2M309.8 127.7h1.2M287.8 111.6h1.2M284.6 124.4h1.2M280.5 131.5h1.2M275.4 124.5h1.2M291.0 117.8h1.2M298.2 127.0h1.2M303.7 116.9h1.2M285.1 120.1h1.2M280.5 131.9h1.2M288.6 127.9h1.2M301.8 133.0h1.2M305.7 131.2h1.2M278.0 129.5h1.2M299.3 127.5h1.2M262.6 122.1h1.2M278.9 119.0h1.2M307.4 128.5h1.2M291.9 123.6h1.2M297.8 114.1h1.2M281.7 127.8h1.2M308.7 130.1h1.2M258.8 131.3h1.2M274.7 124.2h1.2M300.7 131.6h1.2M302.1 117.8h1.2M291.9 115.8h1.2M308.3 125.8h1.2M272.4 110.0h1.2M300.1 119.9h1.2M287.4 131.5h1.2M279.2 125.1h1.2M297.9 131.9h1.2M298.6 127.5h1.2M280.5 129.8h1.2M304.3 120.6h1.2M286.3 133.0h1.2M277.0 127.6h1.2M294.5 132.7h1.2M292.8 132.9h1.2M295.6 125.3h1.2M280.7 128.5h1.2M290.0 130.2h1.2M281.6 118.0h1.2M287.6 124.2h1.2M273.2 121.9h1.2M279.3 131.8h1.2M275.5 118.7h1.2M269.8 131.0h1.2M277.7 125.9h1.2M290.0 128.1h1.2M285.3 124.1h1.2M286.2 130.9h1.2M263.7 130.6h1.2M299.6 129.9h1.2M293.7 130.8h1.2M286.0 125.9h1.2M296.4 118.2h1.2M308.8 127.0h1.2M288.5 130.5h1.2M276.4 125.3h1.2M288.8 128.6h1.2M307.0 129.2h1.2M289.2 132.2h1.2M274.5 132.8h1.2M287.6 125.6h1.2M292.4 127.9h1.2M294.0 128.0h1.2M258.1 125.3h1.2M273.0 131.5h1.2M297.1 118.4h1.2M284.8 132.4h1.2M271.8 116.4h1.2M289.0 114.0h1.2M261.0 116.3h1.2M304.5 128.3h1.2M276.3 122.0h1.2M282.5 130.2h1.2M280.0 109.8h1.2M302.2 129.9h1.2M288.2 128.8h1.2M308.8 125.9h1.2M268.6 131.7h1.2M290.6 127.2h1.2M270.5 123.5h1.2M279.7 129.8h1.2M282.6 115.3h1.2M287.7 121.7h1.2M279.0 126.9h1.2M265.7 109.2h1.2M276.2 124.7h1.2M294.4 128.5h1.2M282.1 114.5h1.2M274.3 118.7h1.2M262.1 130.9h1.2M288.9 119.2h1.2M294.0 130.1h1.2M299.1 124.8h1.2M278.2 126.4h1.2M296.5 123.6h1.2M302.6 125.5h1.2M279.7 128.0h1.2M269.1 130.0h1.2M297.5 132.4h1.2M299.1 121.5h1.2M300.0 112.6h1.2M286.3 125.9h1.2M270.4 126.0h1.2M294.0 113.5h1.2M262.7 120.9h1.2M299.8 120.9h1.2M283.8 120.8h1.2M285.9 130.6h1.2M281.6 127.8h1.2M299.4 126.2h1.2M295.2 126.9h1.2M297.9 117.0h1.2M292.8 117.5h1.2M300.3 122.6h1.2M276.6 121.9h1.2M290.1 123.2h1.2M279.7 129.6h1.2M291.1 131.5h1.2M276.3 128.4h1.2M291.3 126.1h1.2M295.5 117.5h1.2M295.7 130.2h1.2M286.4 113.7h1.2M288.2 126.6h1.2M284.7 122.8h1.2M296.1 122.1h1.2M294.6 123.7h1.2M306.4 122.0h1.2M308.0 127.1h1.2M270.1 132.6h1.2M288.0 123.6h1.2M292.4 127.2h1.2M299.0 128.8h1.2M295.4 125.4h1.2M281.2 118.4h1.2M299.1 128.8h1.2M306.9 122.9h1.2M270.3 127.1h1.2M296.8 105.5h1.2M269.6 110.8h1.2M287.8 119.8h1.2M290.2 124.0h1.2M274.4 115.8h1.2M306.7 120.4h1.2M295.2 122.3h1.2M291.7 119.7h1.2M280.4 119.1h1.2M301.5 129.3h1.2M275.0 129.9h1.2M309.6 122.0h1.2M293.0 122.6h1.2M287.1 125.4h1.2M270.0 122.8h1.2M304.7 117.5h1.2M280.3 118.3h1.2M269.8 130.3h1.2M298.9 129.3h1.2M289.4 130.3h1.2M293.1 114.0h1.2M282.9 127.6h1.2M279.1 112.8h1.2M308.4 112.3h1.2M295.0 115.7h1.2M290.0 129.2h1.2M298.7 122.7h1.2M286.1 132.6h1.2M299.7 119.8h1.2M296.6 121.6h1.2M283.6 130.6h1.2M290.8 128.4h1.2M291.0 128.1h1.2M302.5 123.3h1.2M288.5 110.4h1.2M291.6 128.6h1.2M278.0 125.0h1.2M269.8 108.4h1.2M303.8 125.0h1.2M290.4 108.5h1.2M283.3 129.0h1.2M298.1 125.9h1.2M307.3 115.3h1.2M279.7 124.3h1.2M299.0 130.0h1.2M267.2 130.5h1.2M268.0 127.2h1.2M301.6 126.8h1.2M287.6 127.8h1.2M289.3 123.3h1.2M287.8 127.9h1.2M304.3 128.8h1.2M277.7 126.6h1.2M286.7 132.3h1.2M267.4 122.0h1.2M287.8 125.7h1.2M275.1 119.2h1.2M278.2 112.6h1.2M287.7 121.9h1.2M284.6 122.7h1.2M272.2 128.6h1.2M274.2 115.7h1.2M301.9 118.9h1.2M279.3 125.7h1.2M296.2 125.1h1.2M289.5 122.0h1.2M275.6 115.9h1.2M295.3 128.5h1.2M293.4 105.4h1.2M301.6 111.8h1.2M273.4 129.5h1.2M287.5 111.6h1.2M300.7 124.7h1.2M291.5 130.6h1.2M304.0 124.2h1.2M264.7 117.7h1.2M298.3 130.3h1.2M264.8 124.3h1.2M287.5 125.3h1.2M275.2 130.2h1.2M275.5 125.6h1.2M294.7 132.4h1.2M299.9 126.1h1.2M294.4 131.4h1.2M298.2 126.3h1.2M281.9 119.2h1.2M298.8 129.8h1.2M271.7 128.0h1.2M300.0 122.4h1.2M301.3 129.5h1.2M276.8 126.3h1.2M306.3 128.6h1.2M299.0 129.7h1.2M300.9 118.8h1.2M268.7 119.1h1.2M292.4 116.6h1.2M287.6 107.2h1.2M277.0 131.7h1.2M306.2 125.5h1.2M279.6 132.7h1.2M265.8 128.9h1.2M268.3 122.2h1.2M296.1 111.5h1.2M279.5 119.3h1.2M270.7 130.4h1.2M303.6 124.5h1.2M280.4 113.5h1.2M291.0 117.5h1.2M295.9 112.3h1.2M302.3 131.8h1.2M279.6 120.2h1.2M276.2 126.9h1.2M277.7 120.4h1.2M307.1 129.6h1.2M282.0 124.7h1.2M309.1 110.7h1.2M306.6 129.1h1.2M284.4 123.9h1.2M297.9 127.9h1.2M284.1 129.5h1.2M295.9 128.0h1.2M282.0 132.0h1.2M303.9 117.0h1.2M308.1 114.5h1.2M292.3 127.6h1.2M288.0 125.0h1.2M271.3 125.8h1.2M298.1 113.2h1.2M277.9 125.8h1.2M282.9 115.1h1.2M269.8 120.6h1.2M305.1 131.3h1.2M304.1 115.3h1.2M292.5 118.7h1.2M306.4 119.3h1.2M294.8 126.3h1.2M298.8 117.7h1.2M275.5 124.5h1.2M264.2 124.9h1.2M296.6 125.0h1.2M280.7 110.8h1.2M285.2 119.0h1.2M291.5 127.8h1.2M287.1 123.1h1.2M269.1 124.1h1.2M292.2 121.9h1.2M295.3 125.1h1.2M287.1 129.7h1.2M278.7 125.9h1.2M269.7 128.4h1.2M289.0 129.9h1.2M293.5 126.3h1.2M292.3 117.4h1.2M303.3 126.5h1.2M286.7 127.8h1.2M297.9 131.6h1.2M266.3 117.5h1.2M262.5 114.7h1.2M274.0 127.8h1.2M292.5 104.1h1.2M265.2 131.9h1.2M295.0 122.7h1.2M295.1 122.6h1.2M307.5 128.8h1.2M285.4 130.9h1.2M281.6 127.8h1.2M282.8 122.7h1.2M279.6 123.2h1.2M291.1 117.8h1.2M295.2 131.1h1.2M305.3 127.0h1.2M291.6 127.3h1.2M286.5 120.1h1.2M301.9 124.7h1.2M288.5 115.1h1.2M301.4 114.2h1.2M308.1 132.5h1.2M265.4 128.9h1.2M297.8 112.8h1.2M294.4 117.0h1.2M275.7 128.3h1.2M267.5 133.0h1.2M288.2 127.9h1.2M294.9 120.8h1.2M288.9 129.5h1.2M272.7 127.5h1.2M301.8 128.7h1.2M266.2 130.9h1.2M287.5 109.1h1.2M307.2 125.1h1.2M307.0 132.2h1.2M279.6 129.8h1.2M283.7 130.3h1.2M271.5 131.5h1.2M299.6 127.0h1.2M276.0 129.4h1.2M289.1 121.6h1.2M288.7 109.0h1.2M281.8 123.0h1.2M267.4 118.0h1.2M296.6 123.1h1.2M307.5 119.1h1.2M286.3 125.3h1.2M287.4 131.9h1.2M307.8 130.7h1.2M301.0 127.9h1.2M280.1 122.3h1.2M280.0 128.6h1.2M281.0 124.8h1.2M285.2 132.0h1.2M308.9 114.6h1.2M285.5 123.6h1.2M290.5 122.0h1.2M272.2 116.8h1.2M270.4 124.3h1.2M277.0 132.3h1.2M306.8 130.4h1.2M302.6 122.7h1.2M274.0 129.8h1.2M266.9 126.4h1.2M298.8 127.0h1.2M307.8 120.4h1.2M284.4 113.1h1.2M290.8 123.4h1.2M274.8 126.9h1.2M269.6 124.2h1.2M273.8 131.0h1.2M297.0 123.2h1.2M285.3 125.0h1.2M301.7 126.1h1.2M286.6 115.4h1.2M269.3 125.9h1.2M308.0 128.2h1.2M290.5 129.5h1.2M301.0 110.1h1.2M278.7 130.2h1.2M277.7 122.1h1.2M287.1 121.2h1.2M284.9 129.8h1.2M287.4 112.5h1.2M276.8 116.6h1.2M276.6 133.0h1.2M287.3 132.2h1.2M271.2 119.6h1.2M295.8 115.6h1.2M281.8 125.7h1.2M304.7 132.5h1.2M279.7 109.6h1.2M307.4 117.5h1.2M297.9 125.0h1.2M300.0 119.6h1.2M295.2 124.4h1.2M295.7 121.5h1.2M293.6 115.8h1.2M280.5 131.2h1.2M298.2 122.0h1.2M279.1 120.4h1.2M307.4 120.7h1.2M265.9 117.6h1.2M282.1 131.0h1.2M292.3 130.0h1.2M293.0 127.8h1.2M288.7 118.9h1.2M300.7 115.2h1.2M286.3 127.1h1.2M305.3 114.8h1.2M309.8 118.4h1.2M294.4 131.3h1.2M286.9 108.6h1.2M289.3 119.9h1.2M287.2 122.3h1.2M285.3 118.9h1.2M278.9 132.8h1.2M308.4 121.3h1.2M272.5 121.9h1.2M289.1 123.7h1.2M308.8 125.7h1.2M293.9 131.7h1.2M297.8 122.5h1.2M278.7 110.7h1.2M273.4 124.8h1.2M264.9 126.6h1.2M287.5 129.2h1.2M293.6 132.4h1.2M301.4 120.3h1.2M286.5 122.3h1.2M285.0 127.8h1.2M309.2 129.7h1.2M270.8 130.5h1.2M293.1 125.7h1.2M262.4 132.7h1.2M296.3 127.2h1.2M299.5 126.2h1.2M288.0 127.0h1.2M282.9 126.9h1.2M286.3 129.9h1.2M273.5 125.4h1.2M309.2 120.1h1.2M261.6 130.8h1.2M287.6 123.9h1.2M284.6 128.5h1.2M278.9 113.7h1.2M291.7 114.2h1.2M297.3 126.6h1.2M291.0 113.1h1.2M300.6 129.0h1.2M290.6 112.6h1.2M302.7 127.8h1.2M303.4 128.1h1.2M284.2 127.1h1.2M265.9 127.3h1.2M282.1 123.7h1.2M269.6 122.6h1.2M297.7 120.9h1.2M275.6 123.6h1.2" stroke="#666" stroke-width="1.2" fill="none" opacity="0.46"/>
<path d="M304.5 129.3h1.2M282.7 112.7h1.2M295.7 119.0h1.2M278.1 130.7h1.2M296.9 130.6h1.2M279.8 125.6h1.2M288.0 128.2h1.2M265.6 126.1h1.2M273.5 128.7h1.2M296.3 128.8h1.2M281.8 113.7h1.2M281.1 126.8h1.2M296.2 126.0h1.2M278.3 130.1h1.2M297.3 132.5h1.2M292.3 120.9h1.2M299.3 129.2h1.2M275.0 131.2h1.2M276.5 118.0h1.2M289.1 130.7h1.2M268.2 108.4h1.2M272.5 117.1h1.2M299.6 119.3h1.2M306.4 125.8h1.2M271.5 129.1h1.2M285.5 130.7h1.2M289.5 128.3h1.2M276.0 125.9h1.2M273.4 114.9h1.2M274.7 118.3h1.2M286.2 123.5h1.2M287.5 124.8h1.2M302.8 119.6h1.2M284.4 119.5h1.2M273.9 112.3h1.2M294.1 119.9h1.2M284.0 118.5h1.2M281.4 131.6h1.2M286.1 129.7h1.2M288.8 128.4h1.2M305.7 116.6h1.2M306.0 115.3h1.2M281.4 132.2h1.2M301.1 119.8h1.2M292.4 128.5h1.2M291.7 127.3h1.2M298.0 121.5h1.2M288.0 132.3h1.2M291.2 129.0h1.2M278.9 131.7h1.2M304.3 117.9h1.2M305.7 120.8h1.2M304.9 116.6h1.2M303.2 129.8h1.2M266.3 132.2h1.2M306.1 121.1h1.2M297.6 119.0h1.2M281.4 116.0h1.2M294.7 120.2h1.2M297.1 125.7h1.2M308.0 131.3h1.2M279.8 128.0h1.2M287.5 129.7h1.2M301.3 130.0h1.2M300.3 119.0h1.2M297.8 131.6h1.2M301.3 127.5h1.2M294.5 130.6h1.2M289.2 114.2h1.2M283.4 122.1h1.2M298.3 126.9h1.2M281.6 118.4h1.2M274.7 119.7h1.2M260.5 130.9h1.2M271.6 130.4h1.2M279.6 123.1h1.2M297.2 132.5h1.2M274.9 126.6h1.2M286.0 129.5h1.2M286.2 132.7h1.2M297.5 129.2h1.2M291.4 121.3h1.2M305.7 108.2h1.2M294.8 125.9h1.2M272.7 130.8h1.2M295.9 132.7h1.2M294.1 129.4h1.2M281.4 114.1h1.2M285.5 111.2h1.2M264.8 132.0h1.2M295.9 130.3h1.2M290.4 129.4h1.2M299.0 126.3h1.2M278.8 123.6h1.2M285.1 132.0h1.2M293.6 131.8h1.2M302.2 130.9h1.2M304.2 132.8h1.2M308.7 108.7h1.2M290.9 126.5h1.2M283.4 126.5h1.2M268.7 131.1h1.2M293.5 132.8h1.2M276.0 128.5h1.2M287.5 127.6h1.2M309.7 118.1h1.2M290.6 115.9h1.2M289.3 127.0h1.2M292.2 129.2h1.2M263.1 128.7h1.2M268.7 128.2h1.2M287.0 131.8h1.2M272.3 130.1h1.2M289.9 132.8h1.2M275.7 119.1h1.2M296.4 130.0h1.2M299.2 127.7h1.2M305.6 130.5h1.2M293.6 118.5h1.2M300.4 126.9h1.2M295.3 125.1h1.2M277.3 116.9h1.2M306.7 107.4h1.2M298.2 131.9h1.2M278.6 119.7h1.2M305.3 110.0h1.2M295.7 128.3h1.2M291.1 120.4h1.2M295.0 129.6h1.2M290.2 128.8h1.2M269.4 123.2h1.2M305.7 121.8h1.2M291.3 121.6h1.2M268.1 129.1h1.2M280.6 127.1h1.2M267.4 111.6h1.2M285.7 132.1h1.2M294.8 122.3h1.2M298.2 130.1h1.2M271.3 125.0h1.2M293.8 126.2h1.2M293.5 112.9h1.2M303.1 132.5h1.2M284.7 123.9h1.2M279.3 124.0h1.2M278.7 132.7h1.2M296.2 120.6h1.2M285.8 109.3h1.2M302.4 129.7h1.2M279.1 125.0h1.2M296.1 129.1h1.2M305.8 127.2h1.2M293.1 111.5h1.2M285.1 127.9h1.2M301.9 108.8h1.2M286.1 128.9h1.2M292.3 122.8h1.2M308.6 130.4h1.2M287.4 115.3h1.2M301.9 126.6h1.2M286.6 117.1h1.2M287.3 119.8h1.2M267.3 123.7h1.2M278.0 116.0h1.2M288.3 118.9h1.2M278.6 129.8h1.2M299.2 111.8h1.2M282.9 113.6h1.2M290.5 130.7h1.2M275.7 117.7h1.2M298.9 123.1h1.2M298.6 124.9h1.2M260.8 131.8h1.2M282.4 112.8h1.2M285.7 109.1h1.2M278.6 128.7h1.2M301.6 122.1h1.2M293.0 123.7h1.2M287.6 128.3h1.2M296.9 118.3h1.2M303.0 127.9h1.2M294.0 129.7h1.2M285.0 119.5h1.2M276.0 131.8h1.2M293.6 124.7h1.2M305.0 115.3h1.2M309.5 130.4h1.2M298.9 117.7h1.2M279.3 119.8h1.2M291.0 131.7h1.2M294.0 115.5h1.2M296.4 130.7h1.2M277.7 130.6h1.2M301.6 131.4h1.2M289.7 109.3h1.2M262.7 123.0h1.2M274.4 130.4h1.2M295.7 122.2h1.2M301.9 121.3h1.2M306.7 112.3h1.2M283.7 112.4h1.2M288.1 131.2h1.2M280.2 130.4h1.2M309.4 121.7h1.2M277.5 121.9h1.2M288.4 126.8h1.2M289.9 123.0h1.2M307.6 123.0h1.2M282.2 132.3h1.2M286.0 101.8h1.2M296.9 132.6h1.2M283.2 118.3h1.2M276.1 126.6h1.2M299.6 126.8h1.2M281.2 119.3h1.2M296.0 126.4h1.2M299.6 122.9h1.2M294.0 119.7h1.2M282.4 125.3h1.2M286.6 122.1h1.2M298.6 120.9h1.2M309.6 126.6h1.2M300.3 113.8h1.2M285.1 132.8h1.2M292.3 125.1h1.2M287.1 131.3h1.2M294.3 130.4h1.2M289.5 129.0h1.2M302.5 103.9h1.2M295.4 129.1h1.2M306.0 130.0h1.2M298.1 125.3h1.2M268.4 122.0h1.2M279.5 118.1h1.2M282.3 112.4h1.2M287.2 118.8h1.2M288.9 125.1h1.2M277.4 131.1h1.2M306.8 131.2h1.2M281.3 122.5h1.2M280.3 122.0h1.2M273.7 114.9h1.2M287.3 125.5h1.2M300.7 129.2h1.2M273.9 131.6h1.2M277.6 126.9h1.2M288.0 113.6h1.2M275.0 130.7h1.2M272.8 125.6h1.2M287.5 113.3h1.2M301.3 123.4h1.2M305.6 106.1h1.2M264.7 128.0h1.2M270.6 128.4h1.2M272.2 125.7h1.2M307.1 118.0h1.2M301.7 128.3h1.2M285.4 125.0h1.2M300.8 121.9h1.2M289.9 129.7h1.2M297.3 114.5h1.2M291.9 121.9h1.2M289.3 125.7h1.2M305.9 125.8h1.2M299.5 126.0h1.2M282.1 116.6h1.2M289.1 128.4h1.2M275.0 131.9h1.2M290.5 118.1h1.2M265.0 124.7h1.2M304.3 129.6h1.2M299.0 118.3h1.2M298.2 130.2h1.2M292.9 128.7h1.2M307.1 111.9h1.2M282.1 132.6h1.2M281.5 122.9h1.2M298.6 126.0h1.2M277.5 120.8h1.2M279.7 116.9h1.2M269.6 119.2h1.2M306.6 127.4h1.2M286.7 118.8h1.2M307.1 108.2h1.2M263.1 118.9h1.2M280.9 115.1h1.2M280.3 120.2h1.2M264.9 116.0h1.2M303.9 130.8h1.2M287.7 129.3h1.2M268.9 129.5h1.2M278.8 130.4h1.2M295.3 120.5h1.2M284.1 127.6h1.2M273.0 131.0h1.2M283.8 116.9h1.2M299.1 119.5h1.2M295.3 125.8h1.2M277.7 132.8h1.2M283.4 129.1h1.2M293.0 128.8h1.2M291.9 117.9h1.2M273.8 128.1h1.2M272.8 132.1h1.2M287.9 132.0h1.2M276.0 116.9h1.2M263.4 125.7h1.2M290.2 125.9h1.2M294.9 125.9h1.2M278.6 123.3h1.2M290.4 108.8h1.2M281.2 121.8h1.2M281.3 127.1h1.2M271.0 121.1h1.2M291.0 123.7h1.2M279.3 117.6h1.2M287.3 131.0h1.2M274.3 126.8h1.2M294.3 121.0h1.2M296.5 132.9h1.2M304.7 123.5h1.2M283.9 121.6h1.2M309.7 131.1h1.2M277.7 120.6h1.2M295.1 107.3h1.2M307.0 116.7h1.2M297.7 119.4h1.2M294.3 122.2h1.2M297.3 132.0h1.2M277.7 127.7h1.2M283.2 123.7h1.2M276.9 131.9h1.2M275.6 131.7h1.2M306.4 129.4h1.2M303.7 111.0h1.2M276.9 125.3h1.2M279.5 120.8h1.2M305.9 132.9h1.2M287.5 116.2h1.2M287.1 131.9h1.2M297.8 125.7h1.2M297.2 114.7h1.2M268.3 129.5h1.2M291.1 117.5h1.2M298.7 127.9h1.2M299.6 132.9h1.2M308.7 119.5h1.2M279.2 127.8h1.2M273.3 117.9h1.2M269.4 128.6h1.2M300.8 124.7h1.2M293.2 126.0h1.2M301.9 118.0h1.2M282.2 128.4h1.2M293.3 125.7h1.2M282.9 119.5h1.2M298.4 110.8h1.2M264.6 130.0h1.2M302.7 122.8h1.2M289.7 126.5h1.2M271.2 124.5h1.2M296.5 126.3h1.2M287.8 123.1h1.2M304.9 124.0h1.2M280.8 126.0h1.2M300.4 126.8h1.2M277.6 119.9h1.2M300.2 131.7h1.2M303.6 132.0h1.2M284.5 121.7h1.2M291.8 118.2h1.2M281.0 126.9h1.2M285.8 124.7h1.2M271.2 125.6h1.2M293.9 132.1h1.2M289.8 111.3h1.2M279.7 114.0h1.2M297.0 129.6h1.2M297.2 112.6h1.2M270.5 120.6h1.2M287.3 106.7h1.2M303.0 121.5h1.2M295.7 131.9h1.2M301.8 115.7h1.2M296.3 132.7h1.2M274.2 129.0h1.2M266.4 124.1h1.2M288.6 132.7h1.2M269.9 132.1h1.2M286.1 128.9h1.2M276.8 116.6h1.2M286.6 130.0h1.2M272.3 132.1h1.2M271.8 125.2h1.2M274.2 114.5h1.2M288.6 132.6h1.2M290.7 119.3h1.2M294.6 130.1h1.2M292.3 127.2h1.2M286.5 131.7h1.2M287.4 114.6h1.2M299.4 108.7h1.2M269.8 113.1h1.2M283.0 115.0h1.2M266.7 130.2h1.2M284.7 122.0h1.2M291.4 131.7h1.2M286.6 112.9h1.2M270.3 131.0h1.2M269.5 125.1h1.2M277.3 127.5h1.2M262.7 125.4h1.2M305.5 125.2h1.2M301.3 117.6h1.2M289.4 132.5h1.2M295.0 129.4h1.2M308.1 126.6h1.2M280.4 118.0h1.2M297.1 108.0h1.2M272.5 127.1h1.2M296.5 119.2h1.2M285.2 119.0h1.2M296.0 125.5h1.2M288.7 132.0h1.2M290.7 124.4h1.2M280.4 113.7h1.2M263.0 125.0h1.2M270.5 122.2h1.2M264.6 118.8h1.2M286.5 107.0h1.2M305.0 130.5h1.2M288.5 126.0h1.2M288.3 121.9h1.2M293.5 127.1h1.2M289.1 130.4h1.2M298.3 121.9h1.2M307.5 125.1h1.2M280.3 131.7h1.2M303.3 108.6h1.2M297.8 111.2h1.2M290.7 127.8h1.2M290.7 124.3h1.2M282.1 121.7h1.2M265.3 126.0h1.2M282.3 131.3h1.2M287.6 128.4h1.2M298.7 124.7h1.2M283.7 129.3h1.2M298.0 109.3h1.2M293.4 132.6h1.2M297.9 121.3h1.2M293.4 123.8h1.2M293.0 129.4h1.2M277.0 120.6h1.2M294.9 126.1h1.2M305.1 117.3h1.2M292.2 124.3h1.2M293.8 125.9h1.2M278.9 131.1h1.2M302.9 125.9h1.2M279.2 132.4h1.2M268.7 123.3h1.2M308.5 124.2h1.2M298.0 120.3h1.2M296.8 106.1h1.2M275.1 125.3h1.2M279.4 122.9h1.2M285.6 128.0h1.2M298.2 108.3h1.2M287.9 126.7h1.2M290.8 129.6h1.2M282.8 132.3h1.2M263.2 114.6h1.2M300.2 132.7h1.2M278.5 121.5h1.2M283.3 128.3h1.2M297.1 121.7h1.2M300.0 130.2h1.2M299.9 101.2h1.2M305.1 118.7h1.2M281.1 120.8h1.2M271.3 128.4h1.2M305.3 126.4h1.2M279.8 115.0h1.2M301.3 132.4h1.2M278.2 132.8h1.2M301.2 113.6h1.2M282.1 116.5h1.2M298.0 123.9h1.2M280.3 121.5h1.2M287.1 124.7h1.2M266.4 133.0h1.2M298.5 108.6h1.2M307.8 110.8h1.2M280.1 127.5h1.2M295.1 130.2h1.2M290.1 119.7h1.2M289.0 131.2h1.2M305.1 121.9h1.2M265.1 132.2h1.2M287.8 121.5h1.2M291.9 117.1h1.2M284.4 126.5h1.2M305.0 113.6h1.2M273.5 122.0h1.2M301.4 120.5h1.2M295.4 114.3h1.2M275.4 124.4h1.2M293.2 128.3h1.2M296.1 122.9h1.2M292.1 125.5h1.2M286.9 128.7h1.2M265.3 123.9h1.2M283.4 125.5h1.2M280.2 126.2h1.2M289.6 125.6h1.2M288.3 132.0h1.2M273.9 115.2h1.2M297.8 120.0h1.2M260.0 128.8h1.2M279.3 123.6h1.2M306.0 132.2h1.2M263.8 127.6h1.2M294.8 123.8h1.2M298.4 114.3h1.2M285.8 123.1h1.2M300.3 111.9h1.2M291.2 126.1h1.2M272.8 131.6h1.2M285.2 124.3h1.2M278.4 125.0h1.2M305.1 132.0h1.2M291.3 115.5h1.2M294.8 131.4h1.2M290.7 118.6h1.2M270.3 124.2h1.2M283.9 113.8h1.2M284.4 119.1h1.2M287.2 128.6h1.2M293.0 123.4h1.2M287.4 125.7h1.2M298.2 118.2h1.2M269.9 132.4h1.2M279.9 124.8h1.2M292.2 119.4h1.2M295.4 107.4h1.2M296.5 128.2h1.2M295.4 131.8h1.2M278.2 121.8h1.2M285.7 131.0h1.2M287.6 127.7h1.2M270.8 120.2h1.2M274.3 114.5h1.2M291.2 127.5h1.2M300.3 130.5h1.2M262.0 130.2h1.2M268.5 127.4h1.2M288.2 113.0h1.2M280.4 124.1h1.2M292.2 130.8h1.2M286.0 109.2h1.2M276.5 131.0h1.2M294.1 123.5h1.2M279.4 123.2h1.2M304.6 126.5h1.2M286.9 128.9h1.2M299.0 114.8h1.2M294.9 129.4h1.2M291.7 115.8h1.2M294.5 125.8h1.2M279.8 119.5h1.2M262.4 125.2h1.2M284.0 107.6h1.2M275.2 132.5h1.2M294.9 126.0h1.2M273.3 125.0h1.2M272.9 125.8h1.2M266.1 113.3h1.2M290.3 124.8h1.2M289.5 127.3h1.2M307.9 130.8h1.2M289.0 126.5h1.2M302.5 111.5h1.2M298.0 122.2h1.2M295.1 125.6h1.2M280.0 129.7h1.2M275.4 127.4h1.2M272.4 123.6h1.2M293.7 114.6h1.2M295.7 124.8h1.2M283.3 124.2h1.2M296.2 129.8h1.2M304.2 131.4h1.2M276.5 131.9h1.2M286.6 121.8h1.2M287.1 128.4h1.2M278.4 120.8h1.2M282.7 122.6h1.2M285.4 127.7h1.2M286.1 131.3h1.2M264.3 121.8h1.2M301.0 116.6h1.2M267.5 128.8h1.2M303.1 122.9h1.2M294.5 117.2h1.2M284.7 112.3h1.2M262.6 129.1h1.2M301.3 126.2h1.2M274.7 124.6h1.2M277.6 127.1h1.2M303.6 129.3h1.2M268.8 125.7h1.2M308.6 118.5h1.2M266.9 125.6h1.2M283.8 130.5h1.2M279.8 117.2h1.2M282.1 113.1h1.2M263.0 131.1h1.2M309.2 108.3h1.2M271.0 113.8h1.2M283.8 112.8h1.2M277.6 119.2h1.2M268.3 128.4h1.2M285.2 130.9h1.2M296.7 126.8h1.2M303.1 121.6h1.2M262.0 115.7h1.2M269.7 126.5h1.2M276.1 127.4h1.2M280.2 124.3h1.2M285.7 109.8h1.2M294.2 125.8h1.2M283.6 132.2h1.2M276.7 120.6h1.2M268.6 127.0h1.2M282.7 116.3h1.2M281.0 118.2h1.2M291.6 125.7h1.2M306.6 116.8h1.2M287.6 130.4h1.2M297.7 131.5h1.2M285.6 127.7h1.2M287.1 129.4h1.2M304.2 131.4h1.2M271.7 131.5h1.2M291.0 119.8h1.2M263.7 120.5h1.2M263.9 128.1h1.2M298.1 129.3h1.2M290.9 130.4h1.2M288.5 127.6h1.2M281.8 125.7h1.2M298.0 128.4h1.2M293.9 125.6h1.2M286.6 128.5h1.2M303.5 127.6h1.2M292.7 120.7h1.2M276.7 128.0h1.2M273.4 108.5h1.2M287.3 118.2h1.2M271.7 121.9h1.2M282.2 126.0h1.2M266.5 117.0h1.2M280.5 117.6h1.2M289.4 116.8h1.2M291.5 126.7h1.2M275.0 128.0h1.2M295.0 128.5h1.2M280.1 117.6h1.2M280.6 126.0h1.2M304.4 130.0h1.2M298.9 123.1h1.2M288.1 130.9h1.2M303.9 125.0h1.2M296.3 125.1h1.2M293.2 131.0h1.2M267.0 125.8h1.2M287.1 119.1h1.2M278.8 116.2h1.2M298.4 131.1h1.2M286.2 124.3h1.2M270.0 121.4h1.2M301.6 121.3h1.2M284.9 132.3h1.2M303.2 111.2h1.2M307.9 128.4h1.2M282.0 123.6h1.2M275.8 112.6h1.2M269.4 126.0h1.2M306.6 125.7h1.2M292.6 123.2h1.2M276.8 123.6h1.2M277.9 127.8h1.2M271.3 131.4h1.2M285.9 122.5h1.2M294.9 125.0h1.2M301.3 114.2h1.2M299.3 113.2h1.2M293.9 131.7h1.2M284.6 113.4h1.2M267.3 124.1h1.2M294.6 125.7h1.2M308.8 127.9h1.2M303.4 122.6h1.2M308.9 121.6h1.2M288.3 131.5h1.2M272.4 110.3h1.2M289.3 114.2h1.2M283.1 128.5h1.2M293.4 119.7h1.2M285.3 126.6h1.2M287.2 124.2h1.2M274.2 128.4h1.2M299.7 122.3h1.2M275.9 123.8h1.2M292.3 118.1h1.2M304.1 123.5h1.2M274.1 126.0h1.2M276.5 132.3h1.2M286.9 132.5h1.2M298.4 131.0h1.2M281.3 120.5h1.2M262.2 123.7h1.2M273.3 126.0h1.2M303.5 113.1h1.2M275.8 123.6h1.2M280.8 127.0h1.2M284.7 129.7h1.2M267.8 131.7h1.2M266.4 111.6h1.2M277.1 108.5h1.2M287.1 126.8h1.2M295.8 116.0h1.2M293.6 117.3h1.2M296.4 128.9h1.2M260.0 131.5h1.2M307.8 132.4h1.2M309.3 125.5h1.2M271.2 127.8h1.2M299.9 115.1h1.2M298.7 117.2h1.2M269.9 123.4h1.2M292.5 131.6h1.2M266.3 130.6h1.2M281.5 124.0h1.2M296.4 120.2h1.2M294.5 128.7h1.2M300.5 124.1h1.2M298.9 126.3h1.2M262.9 128.1h1.2M279.6 111.5h1.2M294.7 115.0h1.2M287.2 130.1h1.2M291.3 132.6h1.2M297.5 122.8h1.2M294.2 118.4h1.2M307.9 125.0h1.2M306.5 103.9h1.2M302.4 127.0h1.2M305.0 132.6h1.2M280.3 124.2h1.2M291.4 132.2h1.2M305.5 118.2h1.2M300.5 113.5h1.2M286.8 130.0h1.2M286.5 118.2h1.2M283.4 125.0h1.2M287.4 114.7h1.2M301.5 129.5h1.2M277.2 129.1h1.2M277.1 129.3h1.2M284.4 121.4h1.2M273.6 126.4h1.2M284.2 129.2h1.2M287.2 124.7h1.2M301.7 120.9h1.2M288.9 119.7h1.2M308.4 120.5h1.2M269.6 115.3h1.2M271.3 119.9h1.2M282.4 114.3h1.2M275.5 121.2h1.2M294.4 129.7h1.2M301.7 119.6h1.2M303.5 122.6h1.2M299.4 111.8h1.2M283.2 130.8h1.2M267.8 132.3h1.2M281.9 115.5h1.2M287.1 129.9h1.2M305.5 127.8h1.2M298.6 110.0h1.2M280.1 120.1h1.2M306.9 120.6h1.2M270.3 117.8h1.2M267.5 108.8h1.2M271.2 129.0h1.2M276.0 128.7h1.2M301.4 130.5h1.2M273.9 129.4h1.2M263.7 127.9h1.2M280.5 122.6h1.2M265.9 118.7h1.2M261.2 132.7h1.2M284.4 119.3h1.2M294.7 127.1h1.2M278.2 124.6h1.2M289.3 128.2h1.2M271.5 114.1h1.2M284.1 132.4h1.2M280.0 116.1h1.2M287.3 118.2h1.2M285.3 126.1h1.2M277.9 119.3h1.2M303.5 120.5h1.2M276.8 126.0h1.2M288.8 126.0h1.2M287.2 106.2h1.2M297.1 129.2h1.2M279.3 130.5h1.2M298.3 108.6h1.2M289.9 119.0h1.2M288.4 128.5h1.2M288.4 111.8h1.2M299.0 130.3h1.2M290.5 118.2h1.2M309.4 129.5h1.2M298.7 124.4h1.2M295.2 128.0h1.2M303.9 129.6h1.2M281.4 127.7h1.2M296.0 120.9h1.2M277.1 130.0h1.2M279.5 124.8h1.2M300.4 122.9h1.2" stroke="#666" stroke-width="1.2" fill="none" opacity="0.46"/>
<path d="M299.7 123.8h1.2M267.8 117.1h1.2M261.3 114.7h1.2M305.3 119.7h1.2M281.9 125.0h1.2M303.6 126.8h1.2M302.2 130.3h1.2M286.4 113.6h1.2M279.6 124.7h1.2M298.4 127.6h1.2M292.1 113.7h1.2M281.4 108.7h1.2M286.0 124.2h1.2M280.4 128.3h1.2M294.9 125.2h1.2M292.1 124.8h1.2M296.5 111.2h1.2M267.4 130.6h1.2M262.6 128.9h1.2M295.8 132.8h1.2M282.4 123.9h1.2M298.9 110.5h1.2M296.0 129.2h1.2M291.5 130.9h1.2M308.4 119.2h1.2M276.5 112.2h1.2M304.3 125.4h1.2M281.1 117.0h1.2M294.1 115.2h1.2M303.3 122.7h1.2M284.7 130.3h1.2M301.2 123.7h1.2M280.1 109.0h1.2M286.0 127.8h1.2M303.1 124.2h1.2M299.0 126.2h1.2M287.6 132.6h1.2M297.2 125.1h1.2M267.8 117.0h1.2M297.6 123.2h1.2M291.4 126.3h1.2M296.7 113.2h1.2M268.5 124.6h1.2M282.1 114.3h1.2M300.5 122.5h1.2M305.6 126.0h1.2M279.6 120.1h1.2M298.8 122.6h1.2M301.0 128.7h1.2M281.9 109.2h1.2M278.5 128.8h1.2M307.2 124.1h1.2M283.8 116.9h1.2M285.4 127.1h1.2M288.9 122.7h1.2M292.1 122.2h1.2M291.5 125.5h1.2M264.8 117.1h1.2M289.0 125.0h1.2M281.1 130.3h1.2M276.1 129.4h1.2M275.7 119.5h1.2M302.7 130.0h1.2M296.3 130.6h1.2M281.4 126.2h1.2M300.5 118.6h1.2M293.9 120.8h1.2M275.5 127.0h1.2M281.1 117.1h1.2M280.3 128.8h1.2M288.6 132.6h1.2M297.0 128.3h1.2M306.2 109.4h1.2M274.6 130.3h1.2M291.9 130.0h1.2M263.4 108.6h1.2M261.1 129.3h1.2M274.4 111.6h1.2M288.5 110.5h1.2M266.6 118.7h1.2M268.3 125.0h1.2M299.9 123.4h1.2M289.4 128.2h1.2M267.5 130.2h1.2M263.3 126.5h1.2M298.4 130.5h1.2M287.1 120.7h1.2M295.5 131.3h1.2M279.8 132.0h1.2M302.8 124.2h1.2M272.5 127.7h1.2M282.4 125.5h1.2M294.5 131.4h1.2M272.5 122.3h1.2M278.3 125.0h1.2M275.9 114.9h1.2M281.5 113.1h1.2M265.1 132.8h1.2M284.2 116.0h1.2M301.0 125.7h1.2M304.8 120.4h1.2M274.3 130.7h1.2M307.6 119.2h1.2M301.3 114.9h1.2M269.8 128.0h1.2M293.2 131.6h1.2M283.5 121.9h1.2M288.2 112.6h1.2M277.3 126.0h1.2M285.4 132.7h1.2M285.7 116.5h1.2M303.8 126.9h1.2M298.6 122.8h1.2M293.7 118.4h1.2M271.5 122.4h1.2M287.4 121.7h1.2M292.7 125.6h1.2M288.4 124.6h1.2M301.3 124.0h1.2M299.4 127.6h1.2M288.0 124.0h1.2M294.1 129.5h1.2M292.9 129.2h1.2M293.3 124.8h1.2M291.5 125.6h1.2M303.6 108.0h1.2M304.8 123.1h1.2M291.3 118.0h1.2M282.5 115.3h1.2M273.5 123.7h1.2M292.5 120.8h1.2M296.5 129.1h1.2M268.1 112.1h1.2M288.9 130.0h1.2M305.3 128.1h1.2M272.1 130.4h1.2M290.6 128.3h1.2M286.4 121.4h1.2M274.0 124.1h1.2M301.5 121.8h1.2M291.8 128.1h1.2M276.6 120.0h1.2M306.0 104.6h1.2M275.2 129.7h1.2M300.2 120.2h1.2M297.7 132.1h1.2M300.9 124.1h1.2M290.9 116.8h1.2M296.0 111.7h1.2M265.9 110.3h1.2M290.5 109.0h1.2M297.3 128.0h1.2M300.8 124.6h1.2M287.6 114.4h1.2M303.6 121.6h1.2M285.4 120.6h1.2M284.6 121.7h1.2M288.7 130.7h1.2M297.4 111.4h1.2M292.9 126.8h1.2M285.4 130.9h1.2M298.5 114.5h1.2M286.2 121.8h1.2M294.5 122.2h1.2M276.6 128.2h1.2M304.7 120.6h1.2M272.3 131.5h1.2M280.4 133.0h1.2M292.6 125.5h1.2M306.9 131.8h1.2M282.3 124.4h1.2M287.9 127.2h1.2M275.7 127.7h1.2M265.0 126.9h1.2M297.2 125.5h1.2M285.3 128.3h1.2M274.7 129.5h1.2M289.4 112.6h1.2M306.6 130.8h1.2M299.7 122.7h1.2M286.7 123.2h1.2M295.6 122.5h1.2M294.2 131.0h1.2M297.0 121.6h1.2M291.2 120.0h1.2M305.0 125.7h1.2M279.0 126.4h1.2M292.9 124.3h1.2M291.3 122.1h1.2M274.6 126.9h1.2M298.8 131.1h1.2M297.4 117.0h1.2M305.8 129.0h1.2M281.1 124.7h1.2M305.0 115.5h1.2M289.6 131.0h1.2M308.3 122.3h1.2M305.0 121.0h1.2M270.3 127.7h1.2M264.9 118.1h1.2M274.0 123.8h1.2M303.8 111.1h1.2M279.3 131.9h1.2M291.5 127.9h1.2M304.8 123.2h1.2M278.8 129.2h1.2M302.1 129.4h1.2M304.9 132.7h1.2M299.4 132.1h1.2M290.1 129.9h1.2M285.9 129.0h1.2M289.6 120.6h1.2M293.6 117.5h1.2M307.4 124.6h1.2M266.5 122.2h1.2M290.3 117.0h1.2M263.6 122.9h1.2M275.0 124.0h1.2M299.6 109.4h1.2M284.6 128.8h1.2M289.9 132.8h1.2M303.9 126.0h1.2M288.1 121.9h1.2M297.1 123.8h1.2M285.3 127.9h1.2M307.7 116.6h1.2M285.7 113.6h1.2M287.4 131.9h1.2M308.1 124.8h1.2M276.6 117.6h1.2M284.0 120.6h1.2M278.8 128.4h1.2M294.1 117.1h1.2M302.9 127.2h1.2M281.0 132.9h1.2M299.6 121.9h1.2M264.7 122.4h1.2M302.2 124.5h1.2M305.1 124.6h1.2M274.2 133.0h1.2M290.0 129.1h1.2M307.8 128.2h1.2M263.9 126.3h1.2M293.1 129.6h1.2M269.4 113.0h1.2M285.2 119.9h1.2M262.8 128.7h1.2M281.2 125.1h1.2M279.6 120.2h1.2M264.3 120.2h1.2M260.4 119.5h1.2M272.7 119.7h1.2M288.5 129.1h1.2M265.2 131.7h1.2M276.2 114.0h1.2M294.7 132.1h1.2M282.7 123.1h1.2M280.8 127.0h1.2M284.0 126.4h1.2M302.0 130.3h1.2M280.5 117.8h1.2M299.8 123.5h1.2M289.4 103.0h1.2M301.2 110.2h1.2M295.6 131.3h1.2M299.5 130.8h1.2M268.1 117.3h1.2M307.7 130.3h1.2M295.8 132.0h1.2M299.1 124.3h1.2M299.7 129.8h1.2M275.9 131.5h1.2M288.5 114.5h1.2M305.0 131.6h1.2M277.9 129.8h1.2M306.0 124.2h1.2M290.2 122.5h1.2M308.7 119.9h1.2M288.8 115.1h1.2M300.3 132.2h1.2M260.9 123.0h1.2M280.4 127.8h1.2M292.7 116.0h1.2M280.3 125.5h1.2M237.0 121.0h1.2M287.5 120.3h1.2M280.8 116.3h1.2M280.6 123.3h1.2M273.5 132.3h1.2M279.6 125.9h1.2M291.5 128.2h1.2M299.2 114.0h1.2M289.0 121.6h1.2M284.6 124.9h1.2M301.5 120.2h1.2M294.0 117.1h1.2M289.7 118.7h1.2M300.3 129.8h1.2M279.0 128.7h1.2M276.3 123.8h1.2M304.0 127.5h1.2M273.9 128.4h1.2M281.6 104.9h1.2M289.1 124.6h1.2M294.2 130.0h1.2M306.8 132.6h1.2M275.0 131.5h1.2M290.6 127.3h1.2M276.9 127.1h1.2M283.2 119.7h1.2M307.2 125.9h1.2M279.9 131.0h1.2M285.5 120.6h1.2M288.8 120.2h1.2M293.6 133.0h1.2M284.6 131.4h1.2M277.0 126.9h1.2M280.5 126.0h1.2M295.5 122.0h1.2M289.0 120.3h1.2M287.8 119.1h1.2M302.7 102.0h1.2M293.0 125.3h1.2M289.7 132.4h1.2M280.5 131.5h1.2M288.1 128.1h1.2M292.4 123.5h1.2M289.9 120.4h1.2M287.9 125.9h1.2M289.3 122.5h1.2M289.6 123.8h1.2M303.7 112.1h1.2M285.4 118.2h1.2M290.6 124.1h1.2M281.0 120.7h1.2M282.8 107.6h1.2M295.3 117.1h1.2M297.9 118.1h1.2M291.0 128.5h1.2M299.5 123.8h1.2M282.8 121.8h1.2M291.3 119.3h1.2M274.1 130.9h1.2M301.4 116.7h1.2M302.9 124.4h1.2M280.3 129.6h1.2M290.2 119.0h1.2M282.9 119.9h1.2M271.1 109.4h1.2M286.1 128.2h1.2M289.1 120.5h1.2M304.3 122.4h1.2M279.8 128.3h1.2M289.0 117.5h1.2M287.7 124.5h1.2M297.8 122.7h1.2M309.7 119.7h1.2M296.2 117.8h1.2M263.5 123.9h1.2M273.7 111.0h1.2M287.5 111.6h1.2M284.6 133.0h1.2M280.0 120.6h1.2M309.4 132.1h1.2M305.6 125.4h1.2M272.6 122.6h1.2M286.3 131.0h1.2M308.1 128.6h1.2M273.7 131.5h1.2M303.2 125.7h1.2M289.0 130.9h1.2M290.5 128.3h1.2M283.3 115.2h1.2M277.9 115.1h1.2M301.2 125.6h1.2M273.4 124.9h1.2M283.6 131.8h1.2M286.1 124.2h1.2M282.5 133.0h1.2M295.6 131.6h1.2M300.0 131.1h1.2M287.7 126.8h1.2M298.2 114.6h1.2M285.3 121.4h1.2M295.5 130.7h1.2M294.8 131.0h1.2M305.6 122.6h1.2M294.0 124.6h1.2M286.7 127.6h1.2M288.3 124.0h1.2M296.5 125.8h1.2M272.7 117.0h1.2M295.2 131.6h1.2M290.2 128.4h1.2M292.8 129.9h1.2M269.0 127.5h1.2M297.1 130.4h1.2M305.6 133.0h1.2M300.2 125.9h1.2M291.4 126.5h1.2M287.5 126.1h1.2M264.3 111.1h1.2M288.9 125.2h1.2M280.2 123.0h1.2M306.4 114.6h1.2M308.2 122.6h1.2M285.4 131.0h1.2M309.6 119.8h1.2M294.4 120.8h1.2M300.7 123.3h1.2M273.9 108.5h1.2M295.3 132.6h1.2M277.4 130.0h1.2M299.4 127.4h1.2M294.2 109.2h1.2M279.4 118.5h1.2M300.2 132.7h1.2M272.1 117.4h1.2M282.1 127.0h1.2M294.4 124.7h1.2M272.0 132.3h1.2M292.9 121.6h1.2M285.1 118.3h1.2M280.6 128.5h1.2M273.3 122.4h1.2M278.4 118.1h1.2M278.6 111.2h1.2M291.3 129.8h1.2M275.3 117.8h1.2M293.4 114.9h1.2M293.6 130.3h1.2M289.9 126.8h1.2M304.7 122.4h1.2M292.4 132.3h1.2M289.4 114.0h1.2M284.7 129.5h1.2M286.5 127.0h1.2M295.9 122.0h1.2M298.0 111.3h1.2M281.5 114.3h1.2M297.2 132.0h1.2M277.7 115.2h1.2M291.1 132.1h1.2M263.8 123.2h1.2M280.6 125.0h1.2M276.3 127.9h1.2M284.9 124.2h1.2M287.9 118.6h1.2M266.4 114.3h1.2M285.5 127.8h1.2M290.2 112.7h1.2M290.0 132.1h1.2M309.7 122.0h1.2M307.2 120.1h1.2M303.6 128.4h1.2M281.5 111.8h1.2M292.8 119.7h1.2M307.3 125.5h1.2M290.2 132.3h1.2M278.1 117.7h1.2M293.6 128.2h1.2M292.9 127.5h1.2M272.7 131.7h1.2M293.5 130.8h1.2M261.1 128.7h1.2M284.1 127.4h1.2M304.5 121.1h1.2M264.4 123.0h1.2M278.2 116.0h1.2M273.6 114.5h1.2M286.6 132.9h1.2M274.9 127.2h1.2M267.9 120.7h1.2M298.9 121.6h1.2M302.6 122.6h1.2M283.0 129.5h1.2M280.9 130.0h1.2M277.3 127.9h1.2M292.0 125.9h1.2M300.3 126.7h1.2M281.8 120.0h1.2M264.3 119.8h1.2M261.5 117.3h1.2M298.9 118.5h1.2M278.3 126.3h1.2M284.9 124.7h1.2M283.2 109.8h1.2M297.8 117.6h1.2M300.3 120.0h1.2M277.1 115.0h1.2M292.7 118.3h1.2M293.9 110.9h1.2M282.9 131.5h1.2M305.9 123.6h1.2M296.7 122.2h1.2M270.1 120.9h1.2M292.8 131.0h1.2M276.8 124.5h1.2M297.2 127.6h1.2M273.4 127.8h1.2M303.0 119.6h1.2M295.0 132.3h1.2M283.3 129.7h1.2M288.6 132.8h1.2M279.4 129.3h1.2M289.0 120.5h1.2M290.6 120.2h1.2M263.2 116.8h1.2M299.3 120.8h1.2M298.5 123.0h1.2M290.0 127.0h1.2M261.8 132.2h1.2M289.4 130.7h1.2M304.0 126.1h1.2M285.3 112.4h1.2M295.5 129.2h1.2M282.1 129.2h1.2M268.8 128.8h1.2M258.0 55.4h1.2M307.1 115.8h1.2M287.2 128.2h1.2M280.4 117.5h1.2M308.8 111.6h1.2M275.7 124.8h1.2M294.0 132.0h1.2M280.2 122.0h1.2M294.7 112.2h1.2M282.6 124.7h1.2M289.2 120.3h1.2M274.8 113.8h1.2M267.6 121.5h1.2M272.8 119.8h1.2M297.6 124.8h1.2M284.7 117.3h1.2M287.2 128.9h1.2M270.1 114.4h1.2M285.9 104.7h1.2M295.0 120.9h1.2M295.0 109.9h1.2M284.9 126.4h1.2M282.2 110.7h1.2M308.5 131.4h1.2M302.4 130.1h1.2M277.3 130.6h1.2M285.3 126.9h1.2M283.2 111.6h1.2M285.6 110.6h1.2M297.9 128.6h1.2M301.3 121.7h1.2M277.7 117.1h1.2M288.3 123.1h1.2M306.6 130.6h1.2M290.0 129.9h1.2M272.7 118.7h1.2M302.7 127.3h1.2M281.5 126.6h1.2M299.1 118.0h1.2M275.6 123.3h1.2M268.0 121.9h1.2M297.0 125.1h1.2M278.2 130.4h1.2M289.3 125.6h1.2M280.9 115.1h1.2M264.8 132.8h1.2M296.3 131.3h1.2M288.1 129.3h1.2M296.9 130.2h1.2M293.4 132.4h1.2M267.7 108.2h1.2M292.8 113.7h1.2M278.4 125.8h1.2M301.8 132.1h1.2M260.2 129.9h1.2M280.7 123.7h1.2M307.1 132.1h1.2M279.9 131.7h1.2M306.6 120.1h1.2M265.3 108.5h1.2M295.6 127.0h1.2M274.3 128.5h1.2M303.2 113.0h1.2M276.6 126.5h1.2M280.9 129.3h1.2M290.4 122.2h1.2M274.3 124.7h1.2M273.6 127.9h1.2M294.3 108.2h1.2M307.6 126.7h1.2M284.0 124.9h1.2M303.6 104.2h1.2M268.2 123.9h1.2M279.6 126.6h1.2M303.8 125.2h1.2M267.5 130.8h1.2M297.0 132.1h1.2M286.0 127.2h1.2M286.1 125.3h1.2M279.4 128.1h1.2M281.1 127.3h1.2M306.8 130.0h1.2M297.3 118.5h1.2M270.5 110.8h1.2M290.5 120.5h1.2M292.5 126.2h1.2M305.3 121.4h1.2M295.8 122.5h1.2M301.5 128.6h1.2M275.8 110.4h1.2M275.7 128.0h1.2M282.2 123.3h1.2M283.6 114.5h1.2M299.1 107.7h1.2M290.9 116.1h1.2M284.8 132.0h1.2M299.3 112.9h1.2M303.8 121.2h1.2M275.2 125.9h1.2M288.6 129.0h1.2M259.8 117.8h1.2M282.6 114.7h1.2M295.9 116.5h1.2M305.1 132.8h1.2M306.0 130.4h1.2M297.9 122.2h1.2M279.5 125.2h1.2M265.6 120.3h1.2M278.9 128.0h1.2M285.4 124.1h1.2M284.4 116.6h1.2M294.5 120.1h1.2M281.8 128.5h1.2M292.9 131.2h1.2M272.1 127.7h1.2M299.8 109.2h1.2M293.4 132.1h1.2M276.5 122.9h1.2M295.3 132.0h1.2M302.2 116.5h1.2M282.6 120.5h1.2M292.9 109.5h1.2M285.0 123.8h1.2M299.8 108.2h1.2M289.3 131.1h1.2M303.2 124.1h1.2M275.7 130.2h1.2M307.9 127.5h1.2M293.6 115.0h1.2M291.6 129.3h1.2M285.9 111.0h1.2M285.0 122.2h1.2M299.9 130.7h1.2M298.2 131.1h1.2M263.6 116.9h1.2M299.4 114.4h1.2M282.9 121.5h1.2M305.6 119.1h1.2M306.3 116.7h1.2M299.2 119.6h1.2M288.3 129.8h1.2M309.2 117.7h1.2M292.1 128.6h1.2M267.2 125.4h1.2M282.4 120.2h1.2M304.8 131.9h1.2M263.9 110.3h1.2M267.2 121.8h1.2M305.9 127.7h1.2M266.6 116.0h1.2M269.9 123.7h1.2M285.9 125.2h1.2M259.4 130.1h1.2M286.6 130.5h1.2M276.0 123.9h1.2M277.7 131.9h1.2M287.3 108.2h1.2M284.3 117.9h1.2M305.8 125.1h1.2M291.3 124.7h1.2M280.5 126.7h1.2M302.0 130.6h1.2M293.8 118.2h1.2M288.6 123.9h1.2M284.3 127.1h1.2M286.3 124.3h1.2M305.7 117.3h1.2M296.4 125.1h1.2M284.9 105.5h1.2M262.9 125.0h1.2M307.8 121.4h1.2M304.0 123.5h1.2M302.3 128.5h1.2M294.0 125.1h1.2M266.2 118.8h1.2M307.6 126.9h1.2M295.3 121.4h1.2M290.2 121.1h1.2M301.2 128.9h1.2M293.2 116.5h1.2M288.8 123.8h1.2M292.5 128.1h1.2M281.4 128.5h1.2M288.0 120.3h1.2M267.3 126.0h1.2M276.1 124.9h1.2M283.6 129.9h1.2M300.9 123.2h1.2M297.8 131.9h1.2M284.3 129.6h1.2M307.4 125.1h1.2M289.5 128.1h1.2M303.1 120.0h1.2M262.9 124.1h1.2M279.5 123.3h1.2M303.1 124.3h1.2M304.3 129.7h1.2M275.8 132.7h1.2M281.1 132.5h1.2M298.3 125.9h1.2M270.8 124.0h1.2M290.0 124.2h1.2M296.5 121.8h1.2M293.7 121.5h1.2M303.0 132.6h1.2M299.9 130.4h1.2M299.0 122.5h1.2M283.0 120.4h1.2M262.3 130.8h1.2M298.5 118.3h1.2M309.6 111.6h1.2M292.5 115.0h1.2M307.9 123.4h1.2M284.8 111.4h1.2M283.0 120.9h1.2M302.6 110.2h1.2M292.4 121.3h1.2M286.1 123.8h1.2M301.4 108.1h1.2M286.9 132.3h1.2M300.8 121.0h1.2M294.4 131.3h1.2M284.0 127.7h1.2M303.5 131.9h1.2M284.7 132.2h1.2M292.8 131.6h1.2M274.4 119.6h1.2M278.4 109.0h1.2M288.4 128.6h1.2M289.0 115.0h1.2M298.2 127.8h1.2M305.3 116.2h1.2M276.5 131.3h1.2M290.8 132.3h1.2M290.6 129.3h1.2M284.1 116.9h1.2M293.7 128.2h1.2M262.8 114.8h1.2M300.1 123.5h1.2M291.4 123.7h1.2M277.5 130.6h1.2M307.7 123.8h1.2M280.9 118.7h1.2M306.2 127.7h1.2M272.2 115.5h1.2M277.8 129.7h1.2M297.3 132.0h1.2M275.1 119.3h1.2M277.9 110.5h1.2M296.6 119.1h1.2M285.6 131.4h1.2M308.4 124.2h1.2M304.5 115.6h1.2M305.9 123.1h1.2M294.6 131.1h1.2M298.6 131.8h1.2M281.4 132.3h1.2M276.5 121.5h1.2M297.6 116.2h1.2M289.1 127.4h1.2M284.5 120.6h1.2M302.6 129.5h1.2M273.0 130.1h1.2M280.7 132.3h1.2M307.7 132.0h1.2M280.8 123.3h1.2M288.6 129.6h1.2M295.4 119.9h1.2M294.3 115.7h1.2M280.9 128.5h1.2M288.2 125.8h1.2M304.0 127.7h1.2M293.1 120.5h1.2M293.7 129.1h1.2M303.5 125.4h1.2M294.6 131.8h1.2M275.6 121.1h1.2M290.6 119.1h1.2M288.9 119.4h1.2M289.9 124.1h1.2M300.3 123.7h1.2M266.1 121.5h1.2M292.0 125.8h1.2M281.0 116.4h1.2M283.9 125.2h1.2M290.0 124.8h1.2M284.3 125.0h1.2M303.4 129.4h1.2M308.6 123.7h1.2M304.2 122.2h1.2M278.7 124.6h1.2M291.8 131.5h1.2M302.9 116.5h1.2M291.7 121.0h1.2M282.6 131.1h1.2M281.5 127.2h1.2M295.2 125.2h1.2M309.0 129.1h1.2M286.1 116.9h1.2M285.2 116.9h1.2M279.7 122.9h1.2M283.7 117.2h1.2M299.5 124.0h1.2M279.5 126.1h1.2M289.2 133.0h1.2M309.3 118.1h1.2M300.6 127.3h1.2M301.3 116.2h1.2M263.2 130.5h1.2M288.7 131.3h1.2M291.4 123.6h1.2M303.1 127.0h1.2M300.0 115.8h1.2M302.8 132.5h1.2M284.3 128.4h1.2M287.5 132.7h1.2M285.9 115.4h1.2" stroke="#666" stroke-width="1.2" fill="none" opacity="0.46"/>
<rect x="216.9" y="46.9" width="96.3" height="87.1" fill="none" stroke="#777" stroke-width="0.8"/>
<path d="M216.9 46.9V134.0H313.2" stroke="#222" stroke-width="1.3" fill="none"/>
<path d="M219.8 134.0v2.8M222.2 134.0v2.8M224.1 134.0v2.8M225.8 134.0v2.8M227.2 134.0v2.8M228.5 134.0v2.8M229.6 134.0v4.6M237.0 134.0v2.8M241.4 134.0v2.8M244.5 134.0v2.8M246.9 134.0v2.8M248.8 134.0v2.8M250.5 134.0v2.8M251.9 134.0v2.8M253.2 134.0v2.8M254.3 134.0v4.6M261.7 134.0v2.8M266.1 134.0v2.8M269.2 134.0v2.8M271.6 134.0v2.8M273.5 134.0v2.8M275.2 134.0v2.8M276.6 134.0v2.8M277.9 134.0v2.8M279.0 134.0v4.6M286.4 134.0v2.8M290.8 134.0v2.8M293.9 134.0v2.8M296.3 134.0v2.8M298.2 134.0v2.8M299.9 134.0v2.8M301.3 134.0v2.8M302.6 134.0v2.8M303.7 134.0v4.6M311.1 134.0v2.8M216.9 130.4h-2.8M216.9 128.3h-2.8M216.9 126.5h-2.8M216.9 125.0h-2.8M216.9 123.8h-2.8M216.9 122.6h-2.8M216.9 121.6h-5.0M216.9 114.9h-2.8M216.9 111.0h-2.8M216.9 108.2h-2.8M216.9 106.1h-2.8M216.9 104.3h-2.8M216.9 102.8h-2.8M216.9 101.6h-2.8M216.9 100.4h-2.8M216.9 99.4h-5.0M216.9 92.7h-2.8M216.9 88.8h-2.8M216.9 86.0h-2.8M216.9 83.9h-2.8M216.9 82.1h-2.8M216.9 80.6h-2.8M216.9 79.4h-2.8M216.9 78.2h-2.8M216.9 77.2h-5.0M216.9 70.5h-2.8M216.9 66.6h-2.8M216.9 63.8h-2.8M216.9 61.7h-2.8M216.9 59.9h-2.8M216.9 58.4h-2.8M216.9 57.2h-2.8M216.9 56.0h-2.8M216.9 55.0h-5.0M216.9 48.3h-2.8" stroke="#222" stroke-width="0.8" fill="none"/>
<g transform="translate(230.2 148.8)"><text class="t7" font-size="8.2" text-anchor="middle" x="0" y="0">10<tspan dy="-3.9" font-size="6.8">2</tspan></text></g>
<g transform="translate(254.9 148.8)"><text class="t7" font-size="8.2" text-anchor="middle" x="0" y="0">10<tspan dy="-3.9" font-size="6.8">3</tspan></text></g>
<g transform="translate(279.6 148.8)"><text class="t7" font-size="8.2" text-anchor="middle" x="0" y="0">10<tspan dy="-3.9" font-size="6.8">4</tspan></text></g>
<g transform="translate(304.3 148.8)"><text class="t7" font-size="8.2" text-anchor="middle" x="0" y="0">10<tspan dy="-3.9" font-size="6.8">5</tspan></text></g>
<g transform="translate(209.7 121.9) rotate(-90)"><text class="t7" font-size="8.2" text-anchor="middle" x="0" y="0">10<tspan dy="-3.9" font-size="6.8">2</tspan></text></g>
<g transform="translate(209.7 99.7) rotate(-90)"><text class="t7" font-size="8.2" text-anchor="middle" x="0" y="0">10<tspan dy="-3.9" font-size="6.8">3</tspan></text></g>
<g transform="translate(209.7 77.5) rotate(-90)"><text class="t7" font-size="8.2" text-anchor="middle" x="0" y="0">10<tspan dy="-3.9" font-size="6.8">4</tspan></text></g>
<g transform="translate(209.7 55.3) rotate(-90)"><text class="t7" font-size="8.2" text-anchor="middle" x="0" y="0">10<tspan dy="-3.9" font-size="6.8">5</tspan></text></g>
<text class="t7" text-anchor="middle" x="265.0" y="158.2">PE Cy5-5-A</text>
<g transform="translate(198.3 91.0) rotate(-90)"><text class="t7" font-size="7.1" text-anchor="middle" x="0" y="0">GFP-A</text></g>
<rect x="216.9" y="46.9" width="96.3" height="43.5" fill="none" stroke="#000" stroke-width="1.6"/>
<rect x="250.3" y="95.7" width="62.9" height="38.2" fill="none" stroke="#000" stroke-width="1.6"/>
<text class="b" font-size="11.8" text-anchor="middle" x="291.3" y="61.3">0.11%</text>
<text class="b" font-size="12.3" text-anchor="middle" x="257.5" y="23.2">1<tspan dy="-4.8" font-size="8.5">st</tspan><tspan dy="4.8"> Sort</tspan></text>
<path d="M309.0 124.2H343.0" stroke="#000" stroke-width="1.5"/><path d="M347.0 124.2l-6.2 -2.9v5.8z" fill="#000"/>
<path d="M474.3 124.6h1.2M475.9 127.3h1.2M459.6 132.8h1.2M464.0 114.8h1.2M446.7 118.4h1.2M468.2 125.6h1.2M446.1 132.9h1.2M472.4 118.9h1.2M459.5 118.2h1.2M477.0 114.9h1.2M451.6 127.8h1.2M472.1 123.8h1.2M442.8 117.7h1.2M470.3 117.8h1.2M458.8 119.2h1.2M463.8 122.1h1.2M447.3 131.4h1.2M454.8 118.7h1.2M448.4 127.4h1.2M449.8 113.3h1.2M471.2 107.2h1.2M469.9 122.7h1.2M477.1 127.2h1.2M459.6 123.9h1.2M473.1 128.0h1.2M464.4 114.7h1.2M462.2 130.2h1.2M464.0 118.7h1.2M462.0 128.2h1.2M470.7 112.6h1.2M471.0 124.8h1.2M429.8 120.8h1.2M440.8 117.9h1.2M474.7 132.7h1.2M469.4 128.9h1.2M471.2 118.8h1.2M478.7 119.1h1.2M461.4 125.1h1.2M445.7 130.7h1.2M444.8 126.0h1.2M478.1 123.7h1.2M465.2 131.5h1.2M443.6 119.9h1.2M451.7 122.7h1.2M463.7 122.2h1.2M439.9 128.7h1.2M438.5 131.4h1.2M454.2 121.1h1.2M455.9 130.8h1.2M456.7 128.6h1.2M445.6 126.8h1.2M465.7 117.5h1.2M459.1 111.9h1.2M436.4 131.0h1.2M457.1 129.4h1.2M468.9 120.1h1.2M466.1 114.8h1.2M478.5 122.9h1.2M456.1 130.7h1.2M434.0 120.0h1.2M457.1 130.8h1.2M478.1 130.4h1.2M447.1 107.9h1.2M473.3 111.5h1.2M468.4 122.7h1.2M433.8 124.7h1.2M467.6 118.0h1.2M471.0 132.1h1.2M442.5 129.5h1.2M472.9 109.7h1.2M467.7 127.5h1.2M465.3 114.7h1.2M449.9 123.3h1.2M453.1 125.5h1.2M465.7 115.3h1.2M458.3 129.9h1.2M466.5 107.6h1.2M443.2 130.7h1.2M475.2 128.3h1.2M448.3 121.1h1.2M439.1 113.4h1.2M463.2 120.2h1.2M437.0 116.1h1.2M447.6 127.7h1.2M449.7 110.8h1.2M437.7 119.2h1.2M474.4 119.3h1.2M462.4 125.4h1.2M432.8 132.9h1.2M476.3 132.7h1.2M453.4 130.0h1.2M447.1 131.6h1.2M447.3 129.0h1.2M466.0 123.8h1.2M463.8 110.4h1.2M459.6 129.5h1.2M439.6 120.2h1.2M471.8 130.5h1.2M438.5 132.0h1.2M471.7 128.7h1.2M459.3 128.1h1.2M436.7 126.7h1.2M457.1 116.6h1.2M467.5 120.1h1.2M469.1 122.7h1.2M465.6 119.3h1.2M452.4 120.9h1.2M446.0 128.0h1.2M459.9 114.8h1.2M467.6 126.0h1.2M465.6 132.3h1.2M467.1 126.7h1.2M451.0 132.1h1.2M443.7 113.3h1.2M443.9 123.7h1.2M438.5 127.9h1.2M470.2 110.5h1.2M468.0 118.9h1.2M458.9 128.9h1.2M430.0 124.9h1.2M450.1 128.9h1.2M472.0 128.0h1.2M457.0 126.1h1.2M466.5 129.5h1.2M450.7 122.9h1.2M458.8 132.3h1.2M463.0 130.4h1.2M457.8 121.3h1.2M448.8 120.0h1.2M467.8 123.6h1.2M459.9 128.9h1.2M455.9 119.3h1.2M474.7 112.3h1.2M469.9 132.8h1.2M445.7 119.9h1.2M459.3 113.0h1.2M445.9 120.3h1.2M471.7 124.5h1.2M445.0 129.8h1.2M469.1 125.1h1.2M464.0 128.4h1.2M467.2 122.9h1.2M467.5 130.4h1.2M478.6 125.8h1.2M453.6 122.9h1.2M464.8 105.7h1.2M465.9 109.3h1.2M472.8 123.7h1.2M445.9 111.0h1.2M467.2 127.2h1.2M453.7 128.1h1.2M473.4 128.2h1.2M440.2 122.2h1.2M454.5 119.1h1.2M460.1 130.6h1.2M468.0 132.5h1.2M469.2 129.0h1.2M464.4 131.9h1.2M465.4 117.1h1.2M478.2 113.2h1.2M446.5 120.1h1.2M477.0 121.8h1.2M445.2 110.0h1.2M461.1 117.4h1.2M472.4 120.8h1.2M442.3 128.6h1.2M439.5 111.8h1.2M447.2 110.9h1.2M444.4 122.6h1.2M452.9 116.4h1.2M449.4 116.8h1.2M452.4 115.3h1.2M466.9 131.1h1.2M444.1 125.4h1.2M452.0 117.4h1.2M441.7 125.9h1.2M466.3 119.7h1.2M451.5 126.1h1.2M444.6 127.2h1.2M443.5 128.6h1.2M461.6 111.2h1.2M439.5 125.1h1.2M439.9 121.2h1.2M455.7 112.6h1.2M467.0 129.4h1.2M454.4 111.4h1.2M437.5 132.4h1.2M474.8 101.7h1.2M434.2 119.9h1.2M452.5 103.5h1.2M436.8 114.5h1.2M438.3 131.7h1.2M451.1 130.0h1.2M459.3 129.2h1.2M458.6 131.6h1.2M459.0 126.5h1.2M449.6 101.9h1.2M446.4 132.6h1.2M472.5 125.9h1.2M458.6 122.6h1.2M439.6 125.8h1.2M451.8 132.5h1.2M475.5 122.9h1.2M438.3 131.1h1.2M432.7 122.5h1.2M452.2 125.3h1.2M465.2 128.3h1.2M476.0 132.6h1.2M456.2 128.6h1.2M474.9 130.9h1.2M468.3 127.4h1.2M452.0 125.6h1.2M463.4 129.9h1.2M475.7 130.9h1.2M479.2 110.3h1.2M463.9 133.0h1.2M445.0 120.3h1.2M477.9 129.4h1.2M448.1 114.5h1.2M464.1 121.2h1.2M458.1 127.3h1.2M445.0 130.5h1.2M475.5 131.3h1.2M439.2 118.5h1.2M457.4 106.4h1.2M441.1 119.4h1.2M467.2 125.9h1.2M455.6 128.5h1.2M442.1 121.9h1.2M456.7 119.2h1.2M455.1 114.3h1.2M467.3 116.8h1.2M462.9 131.7h1.2M439.2 119.1h1.2M470.4 103.7h1.2M471.6 127.4h1.2M468.8 123.0h1.2M457.8 124.5h1.2M442.8 132.6h1.2M460.1 119.3h1.2M451.5 126.5h1.2M450.1 119.7h1.2M478.8 131.9h1.2M469.4 116.1h1.2M457.3 114.4h1.2M446.3 131.8h1.2M463.0 130.7h1.2M456.5 122.2h1.2M469.8 132.4h1.2M458.8 125.2h1.2M477.6 128.4h1.2M458.3 129.1h1.2M441.6 117.9h1.2M462.8 123.7h1.2M468.8 130.7h1.2M471.4 118.3h1.2M454.7 130.6h1.2M474.7 116.1h1.2M466.6 122.0h1.2M449.0 109.5h1.2M463.6 125.6h1.2M458.8 131.6h1.2M465.0 110.3h1.2M472.4 126.3h1.2M448.8 127.8h1.2M442.0 122.6h1.2M478.2 130.9h1.2M460.3 116.2h1.2M458.6 110.8h1.2M459.7 123.9h1.2M458.8 121.1h1.2M461.2 127.4h1.2M467.0 114.3h1.2M479.3 130.4h1.2M477.8 123.4h1.2M471.5 123.6h1.2M473.5 122.9h1.2M459.1 129.0h1.2M468.6 108.7h1.2M470.6 113.7h1.2M452.7 119.2h1.2M454.2 127.5h1.2M465.6 132.2h1.2M450.0 130.3h1.2M446.6 123.3h1.2M478.3 122.7h1.2M446.0 124.8h1.2M479.2 125.5h1.2M449.1 113.7h1.2M458.5 120.8h1.2M476.2 129.2h1.2M473.7 128.2h1.2M448.7 118.4h1.2M477.8 131.4h1.2M455.3 119.2h1.2M462.9 112.1h1.2M454.2 121.4h1.2M470.4 111.8h1.2M471.5 124.3h1.2M463.1 125.2h1.2M479.1 121.0h1.2M441.8 129.0h1.2M461.8 125.1h1.2M456.6 124.9h1.2M463.0 131.7h1.2M472.0 128.7h1.2M476.9 132.5h1.2M443.9 129.6h1.2M450.1 119.0h1.2M459.4 118.4h1.2M465.7 124.5h1.2M448.3 124.5h1.2M477.8 121.8h1.2M456.8 121.6h1.2M477.5 121.2h1.2M461.2 130.3h1.2M446.0 114.9h1.2M450.5 132.6h1.2M428.9 123.9h1.2M452.7 132.6h1.2M462.4 130.9h1.2M459.6 124.5h1.2M468.4 111.2h1.2M465.6 128.5h1.2M468.1 116.0h1.2M450.0 119.6h1.2M453.2 108.3h1.2M461.3 124.0h1.2M441.3 128.5h1.2M478.5 128.1h1.2M454.1 125.6h1.2M460.2 128.6h1.2M471.4 126.7h1.2M461.1 122.5h1.2M465.4 124.1h1.2M442.4 121.8h1.2M470.0 128.1h1.2M456.2 123.5h1.2M443.9 125.3h1.2M462.4 128.8h1.2M442.4 124.6h1.2M449.6 130.2h1.2M472.6 115.3h1.2M469.8 127.4h1.2M446.7 125.9h1.2M471.5 132.4h1.2M450.9 124.2h1.2M451.7 127.8h1.2M443.2 124.9h1.2M471.5 127.9h1.2M434.7 119.3h1.2M451.2 130.7h1.2M453.3 123.1h1.2M445.1 119.1h1.2M478.5 129.9h1.2M470.4 115.3h1.2M478.9 104.0h1.2M450.4 123.2h1.2M433.5 120.7h1.2M449.7 126.9h1.2M460.6 131.6h1.2M467.4 125.3h1.2M442.0 131.4h1.2M456.0 117.4h1.2M450.7 130.1h1.2M449.7 124.9h1.2M457.0 125.6h1.2M454.1 129.9h1.2M442.7 132.5h1.2M432.4 120.5h1.2M449.3 131.3h1.2M462.6 128.8h1.2M453.3 120.3h1.2M472.5 124.8h1.2M457.8 130.9h1.2M449.7 110.8h1.2M446.6 130.2h1.2M453.1 126.8h1.2M479.2 128.9h1.2M462.3 119.7h1.2M475.9 122.3h1.2M445.4 118.2h1.2M450.3 120.6h1.2M444.6 110.6h1.2M440.7 131.7h1.2M464.4 110.9h1.2M452.7 119.8h1.2M474.7 128.9h1.2M471.4 130.6h1.2M434.7 128.7h1.2M441.5 116.7h1.2M458.1 126.1h1.2M475.7 129.8h1.2M452.6 132.3h1.2M469.6 128.7h1.2M447.2 109.8h1.2M461.2 130.5h1.2M464.7 132.3h1.2M461.0 118.2h1.2M440.1 111.1h1.2M467.6 108.7h1.2M461.1 127.1h1.2M468.4 108.0h1.2M445.7 117.0h1.2M460.1 125.6h1.2M441.7 124.2h1.2M446.2 127.9h1.2M464.4 122.1h1.2M470.2 127.2h1.2M469.5 132.0h1.2M478.9 113.6h1.2M477.8 127.9h1.2M465.8 129.7h1.2M464.5 124.0h1.2M470.4 129.4h1.2M450.8 121.6h1.2M473.1 118.1h1.2M465.1 133.0h1.2M448.2 118.4h1.2M443.6 129.8h1.2M470.2 129.5h1.2M462.2 129.7h1.2M465.1 130.6h1.2M432.3 131.9h1.2M452.2 123.3h1.2M439.2 127.0h1.2M450.0 130.3h1.2M454.7 120.4h1.2M462.3 126.7h1.2M464.9 119.6h1.2M463.2 132.1h1.2M447.4 113.8h1.2M438.8 124.4h1.2M432.6 117.3h1.2M459.2 113.5h1.2M471.9 113.9h1.2M453.5 129.7h1.2M465.9 116.5h1.2M451.2 124.8h1.2M463.4 130.5h1.2M464.9 121.6h1.2M460.5 118.0h1.2M448.5 129.5h1.2M471.6 124.2h1.2M468.0 126.9h1.2M468.4 117.1h1.2M465.7 116.9h1.2M472.9 110.1h1.2M447.7 131.7h1.2M467.7 118.6h1.2M435.4 122.9h1.2M441.5 131.1h1.2M451.5 109.7h1.2M464.3 117.0h1.2M470.0 131.4h1.2M456.2 108.5h1.2M436.7 130.3h1.2M442.4 130.1h1.2M450.9 126.9h1.2M459.4 125.4h1.2M469.0 130.8h1.2M449.0 129.2h1.2M476.0 132.8h1.2M460.3 128.6h1.2M463.6 131.4h1.2M471.1 131.7h1.2M436.8 124.4h1.2M459.4 109.9h1.2M461.5 127.2h1.2M450.5 124.2h1.2M469.7 129.4h1.2M461.5 105.8h1.2M474.7 117.2h1.2M478.4 130.0h1.2M452.6 126.9h1.2M448.1 121.5h1.2M462.5 114.5h1.2M468.5 131.7h1.2M459.8 126.3h1.2M447.4 121.2h1.2M437.0 123.2h1.2M473.3 130.8h1.2M464.4 129.4h1.2M457.1 123.4h1.2M456.0 124.5h1.2M448.3 131.9h1.2M442.4 123.3h1.2M453.1 117.5h1.2M453.1 113.1h1.2M450.9 131.3h1.2M466.7 124.6h1.2M461.7 102.4h1.2M450.3 124.9h1.2M462.2 132.3h1.2M465.6 132.7h1.2M472.8 119.0h1.2M460.5 114.7h1.2M464.0 126.3h1.2M465.7 127.8h1.2M462.3 124.1h1.2M458.9 132.0h1.2M464.4 121.8h1.2M451.2 126.1h1.2M464.0 113.0h1.2M453.3 128.4h1.2M447.6 111.8h1.2M464.1 123.8h1.2M461.2 123.9h1.2M464.3 109.0h1.2M444.5 129.8h1.2M442.1 120.1h1.2M450.8 127.9h1.2M460.7 125.1h1.2M476.7 127.4h1.2M471.6 131.7h1.2M451.8 120.0h1.2M455.1 125.5h1.2M466.4 127.4h1.2M464.6 120.9h1.2M463.4 129.6h1.2M460.0 128.0h1.2M464.7 120.3h1.2M452.7 120.9h1.2M463.2 128.2h1.2M466.2 115.7h1.2M433.0 118.3h1.2M449.9 123.1h1.2M462.0 127.3h1.2M447.6 110.7h1.2M463.1 124.1h1.2M465.0 130.6h1.2M454.1 125.7h1.2M457.7 127.8h1.2M475.9 123.2h1.2M448.7 125.2h1.2M453.8 131.7h1.2M435.1 118.1h1.2M470.3 124.7h1.2M463.7 128.1h1.2M447.8 120.7h1.2M452.3 128.5h1.2M434.5 120.6h1.2M460.2 129.3h1.2M469.8 120.9h1.2M461.3 120.2h1.2M467.6 123.2h1.2M447.0 120.0h1.2M452.9 127.1h1.2M453.9 109.5h1.2M437.8 132.8h1.2M468.0 125.3h1.2M463.3 114.7h1.2M428.3 121.3h1.2M448.8 127.2h1.2M451.6 128.2h1.2M439.4 129.4h1.2M461.6 125.9h1.2M453.0 124.6h1.2M468.9 121.9h1.2M435.9 116.0h1.2M462.4 131.3h1.2M471.3 117.8h1.2M476.8 124.3h1.2M445.5 102.9h1.2M458.1 117.4h1.2M470.3 113.1h1.2M454.1 121.8h1.2M470.5 127.2h1.2M461.3 129.7h1.2M434.5 119.3h1.2M466.5 115.0h1.2M431.5 126.4h1.2M458.2 119.9h1.2M446.8 126.2h1.2M451.7 124.8h1.2M462.3 126.3h1.2M465.8 110.9h1.2M450.5 110.4h1.2M463.6 123.7h1.2M468.2 130.1h1.2M449.3 129.8h1.2M440.9 112.8h1.2M469.7 117.5h1.2M444.3 132.1h1.2M459.0 121.7h1.2M461.9 124.3h1.2M438.9 113.9h1.2M455.5 126.3h1.2M460.5 132.7h1.2M473.8 131.5h1.2M468.3 124.6h1.2M461.5 119.5h1.2M445.7 114.8h1.2M464.6 123.6h1.2M459.2 119.1h1.2M465.0 130.8h1.2M454.7 124.4h1.2M466.8 132.2h1.2M470.6 129.6h1.2M446.1 106.9h1.2M458.5 121.3h1.2M460.1 119.7h1.2M463.9 129.2h1.2M458.1 119.1h1.2M450.0 130.0h1.2M469.5 130.1h1.2M459.8 124.3h1.2M474.0 124.7h1.2M455.6 128.3h1.2M459.6 116.5h1.2M455.8 127.7h1.2M431.3 120.2h1.2M441.2 115.0h1.2M456.0 127.2h1.2M460.1 122.8h1.2M437.4 130.7h1.2M450.8 121.5h1.2M456.3 122.9h1.2M465.0 121.9h1.2M457.4 130.5h1.2M446.6 114.7h1.2M470.5 126.6h1.2M460.4 126.7h1.2M475.4 132.8h1.2M466.4 126.8h1.2M453.5 121.0h1.2M477.4 128.4h1.2M462.8 127.4h1.2M435.7 123.0h1.2M459.0 111.6h1.2M476.6 119.7h1.2M454.4 109.1h1.2M474.2 128.1h1.2M446.7 131.2h1.2M445.2 111.3h1.2M435.6 119.5h1.2M450.9 131.2h1.2M449.5 132.6h1.2M456.2 132.2h1.2M459.5 128.5h1.2M460.8 132.6h1.2M459.0 129.5h1.2M470.4 125.9h1.2M449.4 120.8h1.2M463.5 119.7h1.2M475.8 121.7h1.2M462.4 128.6h1.2M468.1 120.0h1.2M463.1 132.4h1.2M442.1 116.2h1.2M437.0 110.3h1.2M446.1 121.7h1.2M478.7 126.7h1.2M469.0 119.8h1.2M478.2 127.4h1.2M452.9 132.3h1.2M469.2 127.0h1.2M440.0 129.9h1.2M459.9 131.0h1.2M441.1 113.4h1.2M458.1 131.8h1.2M465.5 127.1h1.2M469.3 104.3h1.2M438.5 130.0h1.2M434.0 120.9h1.2M454.9 108.4h1.2M475.7 127.5h1.2M460.2 131.3h1.2M460.8 125.6h1.2M478.6 125.1h1.2M453.7 124.3h1.2M466.6 123.9h1.2M442.3 123.0h1.2M440.2 130.6h1.2M440.8 124.0h1.2M453.2 120.8h1.2M452.0 126.9h1.2M460.1 128.6h1.2M478.1 126.0h1.2M466.0 131.6h1.2M457.2 116.8h1.2M479.3 132.8h1.2M436.3 110.3h1.2M453.3 128.9h1.2M463.7 122.3h1.2M435.6 127.9h1.2M451.1 121.6h1.2M474.1 121.0h1.2M444.0 115.1h1.2M453.8 118.5h1.2M472.8 115.9h1.2M455.3 119.5h1.2M454.0 120.5h1.2M460.7 123.4h1.2M469.4 125.6h1.2M462.3 112.6h1.2M451.1 117.2h1.2M474.8 130.7h1.2M477.0 118.6h1.2M445.0 129.5h1.2M451.4 131.8h1.2M454.1 130.7h1.2M463.4 130.4h1.2M477.2 127.8h1.2M464.0 131.7h1.2M462.5 128.5h1.2M441.2 132.6h1.2M475.1 120.0h1.2M458.7 125.8h1.2M472.0 127.9h1.2M464.9 130.5h1.2M432.5 123.1h1.2M447.7 113.5h1.2M439.2 120.1h1.2M470.3 121.7h1.2M477.0 131.4h1.2M435.6 125.4h1.2M467.8 127.6h1.2M466.3 130.0h1.2M448.2 125.7h1.2M478.0 120.9h1.2M447.6 128.8h1.2M473.8 125.8h1.2M462.6 122.1h1.2M475.9 125.7h1.2M473.6 122.6h1.2M473.3 124.8h1.2M463.1 128.0h1.2M470.2 106.5h1.2M459.1 126.6h1.2M458.6 116.6h1.2M475.4 128.8h1.2M469.6 117.0h1.2M452.4 130.2h1.2M439.6 110.3h1.2M461.0 129.9h1.2M454.1 119.3h1.2M466.8 112.1h1.2M457.3 123.2h1.2M435.9 118.1h1.2M437.6 129.5h1.2M456.5 132.5h1.2M452.3 120.3h1.2M436.5 127.9h1.2M429.5 125.2h1.2M442.2 117.0h1.2M444.0 112.0h1.2M468.3 130.9h1.2M452.1 124.3h1.2M463.7 127.9h1.2M436.2 113.3h1.2M478.9 126.1h1.2M455.0 132.3h1.2M468.5 123.4h1.2M475.1 131.1h1.2M437.6 132.5h1.2M460.3 111.0h1.2M431.5 122.8h1.2M470.7 125.8h1.2M465.3 125.7h1.2M458.6 121.0h1.2M444.9 119.5h1.2M451.6 115.8h1.2M449.2 124.5h1.2M445.3 127.3h1.2M447.0 115.5h1.2M448.2 132.0h1.2M443.5 132.0h1.2M445.8 132.9h1.2M457.2 132.3h1.2M463.6 121.7h1.2M452.0 125.9h1.2M455.5 123.1h1.2M437.5 119.6h1.2M461.7 111.2h1.2M457.9 131.1h1.2M440.9 132.6h1.2M437.8 124.0h1.2M440.0 129.3h1.2M447.5 124.3h1.2M456.8 127.3h1.2M449.3 129.3h1.2M455.2 123.1h1.2M475.3 121.3h1.2M467.4 122.4h1.2M437.3 124.7h1.2M459.7 115.3h1.2M479.0 104.8h1.2M450.7 118.5h1.2M459.4 125.0h1.2M463.8 114.2h1.2M475.5 119.8h1.2M454.6 132.4h1.2M449.9 124.7h1.2M477.4 125.1h1.2M454.5 112.4h1.2M440.0 106.8h1.2M472.4 121.5h1.2M444.0 128.6h1.2M466.6 114.7h1.2M474.7 131.5h1.2M464.1 125.6h1.2M455.9 130.1h1.2M469.3 130.9h1.2M465.0 131.2h1.2M467.6 122.9h1.2M462.6 107.5h1.2M462.5 123.3h1.2M438.5 130.5h1.2M437.4 132.3h1.2M449.7 112.2h1.2M445.8 131.7h1.2M458.9 126.4h1.2M435.0 109.9h1.2M429.8 126.9h1.2M462.1 112.4h1.2M454.4 132.0h1.2M450.7 118.8h1.2M452.1 132.5h1.2M477.9 117.0h1.2M440.3 121.1h1.2M431.0 118.6h1.2M455.6 115.5h1.2M470.9 118.8h1.2M464.8 126.2h1.2M459.9 122.0h1.2M431.4 128.4h1.2M476.7 114.3h1.2M476.3 125.3h1.2M448.6 126.2h1.2M461.5 130.3h1.2M478.7 130.8h1.2M465.3 104.9h1.2M478.3 121.7h1.2M467.8 123.5h1.2M446.9 119.0h1.2" stroke="#666" stroke-width="1.2" fill="none" opacity="0.46"/>
<path d="M463.9 119.4h1.2M455.6 129.5h1.2M456.9 120.9h1.2M462.2 127.7h1.2M458.3 127.8h1.2M474.3 126.8h1.2M468.8 126.9h1.2M455.6 117.6h1.2M460.1 132.2h1.2M470.6 125.8h1.2M465.8 117.8h1.2M478.1 120.4h1.2M475.8 118.6h1.2M453.5 128.5h1.2M453.1 108.5h1.2M450.0 131.2h1.2M460.7 125.6h1.2M444.8 129.8h1.2M464.8 120.4h1.2M459.7 126.3h1.2M456.1 121.4h1.2M462.7 120.8h1.2M454.1 126.0h1.2M461.6 122.6h1.2M446.0 132.3h1.2M469.6 119.3h1.2M477.0 133.0h1.2M463.1 126.5h1.2M451.5 112.9h1.2M472.3 131.0h1.2M451.9 123.1h1.2M453.6 132.6h1.2M435.3 130.9h1.2M466.3 119.5h1.2M464.3 129.0h1.2M436.0 112.4h1.2M463.4 117.3h1.2M466.1 113.7h1.2M462.1 119.3h1.2M478.4 127.8h1.2M460.0 132.1h1.2M442.1 123.6h1.2M460.8 129.5h1.2M462.5 119.2h1.2M463.4 132.3h1.2M455.4 130.6h1.2M470.8 119.8h1.2M441.5 115.7h1.2M468.0 125.6h1.2M449.7 126.8h1.2M435.6 128.1h1.2M462.0 119.6h1.2M458.2 122.5h1.2M432.2 121.0h1.2M450.6 129.0h1.2M466.6 131.3h1.2M463.9 128.3h1.2M471.0 119.8h1.2M453.8 123.0h1.2M472.0 118.9h1.2M461.5 130.4h1.2M474.8 131.3h1.2M452.4 126.6h1.2M463.7 123.0h1.2M450.9 129.5h1.2M449.0 123.3h1.2M468.3 110.2h1.2M449.1 127.0h1.2M445.1 121.4h1.2M469.3 130.5h1.2M460.3 123.6h1.2M464.6 117.4h1.2M465.6 124.0h1.2M463.7 125.6h1.2M457.4 127.5h1.2M474.5 132.8h1.2M458.3 121.5h1.2M468.6 113.1h1.2M473.6 128.4h1.2M465.9 121.4h1.2M449.4 127.2h1.2M459.0 133.0h1.2M463.6 124.9h1.2M451.9 130.1h1.2M476.4 125.7h1.2M471.9 130.5h1.2M443.0 126.4h1.2M472.3 126.1h1.2M454.1 132.1h1.2M468.4 130.1h1.2M433.4 132.1h1.2M469.6 128.8h1.2M466.5 119.6h1.2M462.4 112.2h1.2M462.4 119.7h1.2M452.0 123.8h1.2M462.5 123.6h1.2M466.5 129.6h1.2M452.8 124.8h1.2M468.6 131.2h1.2M432.6 124.5h1.2M467.6 128.8h1.2M448.9 127.8h1.2M460.5 131.6h1.2M475.9 125.4h1.2M444.7 126.9h1.2M454.7 132.6h1.2M443.9 119.2h1.2M466.1 130.6h1.2M432.1 121.8h1.2M458.1 115.4h1.2M451.4 127.9h1.2M465.0 123.6h1.2M454.4 125.4h1.2M473.0 121.4h1.2M435.9 123.7h1.2M456.3 125.2h1.2M463.5 122.0h1.2M441.2 124.8h1.2M471.8 131.4h1.2M466.3 128.2h1.2M449.8 131.6h1.2M473.7 110.6h1.2M449.9 126.1h1.2M444.0 124.9h1.2M465.2 106.1h1.2M460.4 127.4h1.2M477.8 128.6h1.2M460.6 112.1h1.2M441.7 115.3h1.2M466.2 127.2h1.2M474.6 125.8h1.2M469.2 131.8h1.2M464.9 115.6h1.2M470.7 132.9h1.2M462.9 106.6h1.2M454.8 129.4h1.2M464.6 131.7h1.2M448.9 124.2h1.2M452.9 132.2h1.2M477.2 131.3h1.2M456.0 126.4h1.2M467.3 126.7h1.2M461.8 113.0h1.2M460.3 125.8h1.2M465.7 120.4h1.2M470.8 129.9h1.2M452.8 128.1h1.2M472.1 127.1h1.2M441.9 109.9h1.2M457.7 126.0h1.2M452.2 120.8h1.2M432.3 126.4h1.2M467.5 126.0h1.2M442.7 128.4h1.2M452.2 111.6h1.2M469.5 127.0h1.2M455.3 119.2h1.2M432.4 110.9h1.2M466.8 128.6h1.2M457.4 123.9h1.2M459.9 124.1h1.2M455.6 114.4h1.2M476.3 126.0h1.2M452.4 127.4h1.2M451.7 111.3h1.2M442.9 118.9h1.2M478.1 132.8h1.2M470.7 125.8h1.2M467.3 123.1h1.2M457.2 127.5h1.2M466.8 120.1h1.2M452.6 132.6h1.2M436.6 108.6h1.2M469.6 121.7h1.2M436.2 112.3h1.2M457.6 121.8h1.2M452.6 129.5h1.2M460.3 115.7h1.2M476.0 125.1h1.2M475.6 125.8h1.2M452.8 111.0h1.2M465.4 132.8h1.2M469.4 121.1h1.2M451.6 112.9h1.2M454.8 131.8h1.2M477.2 128.6h1.2M458.6 129.3h1.2M444.3 131.4h1.2M460.3 123.1h1.2M473.9 121.3h1.2M459.3 103.4h1.2M443.9 118.1h1.2M476.0 117.4h1.2M465.3 131.0h1.2M452.4 132.1h1.2M462.9 132.9h1.2M448.2 124.5h1.2M455.5 117.0h1.2M448.6 120.4h1.2M470.4 124.2h1.2M445.3 108.4h1.2M456.0 124.3h1.2M451.4 123.5h1.2M442.7 129.0h1.2M459.1 131.2h1.2M469.3 112.0h1.2M468.4 124.1h1.2M429.1 125.9h1.2M454.5 130.9h1.2M455.6 130.6h1.2M436.4 126.9h1.2M467.0 132.6h1.2M438.9 124.0h1.2M452.2 120.5h1.2M465.0 130.4h1.2M463.7 118.1h1.2M461.9 117.8h1.2M461.2 130.7h1.2M428.2 122.6h1.2M465.9 125.3h1.2M452.3 106.9h1.2M454.8 115.6h1.2M473.0 123.0h1.2M442.8 121.3h1.2M459.5 125.4h1.2M460.4 130.2h1.2M439.8 132.6h1.2M450.5 132.7h1.2M455.0 126.3h1.2M471.0 124.0h1.2M456.4 118.0h1.2M472.7 124.0h1.2M455.6 120.3h1.2M469.6 121.9h1.2M450.3 129.1h1.2M478.6 121.1h1.2M452.6 118.0h1.2M435.6 125.7h1.2M432.9 112.2h1.2M465.9 131.3h1.2M436.7 108.3h1.2M457.5 123.9h1.2M469.6 127.3h1.2M461.8 129.1h1.2M463.8 118.9h1.2M455.9 115.2h1.2M458.9 132.6h1.2M453.7 131.1h1.2M466.7 113.9h1.2M466.0 124.4h1.2M434.3 119.1h1.2M446.3 125.0h1.2M461.8 132.3h1.2M440.2 130.4h1.2M458.2 127.6h1.2M444.1 118.5h1.2M460.7 129.1h1.2M463.8 125.4h1.2M445.4 131.3h1.2M473.1 117.2h1.2M473.3 128.8h1.2M432.2 127.8h1.2M466.6 114.5h1.2M445.7 130.7h1.2M467.9 127.5h1.2M472.6 127.8h1.2M472.6 103.7h1.2M465.1 112.3h1.2M468.2 118.9h1.2M466.7 130.7h1.2M468.5 124.3h1.2M475.8 114.4h1.2M431.3 129.9h1.2M455.2 123.8h1.2M443.5 132.8h1.2M459.1 128.5h1.2M440.5 125.6h1.2M445.3 123.4h1.2M466.8 119.6h1.2M470.9 132.1h1.2M478.5 129.4h1.2M470.8 117.2h1.2M463.3 129.1h1.2M446.1 125.6h1.2M460.9 108.9h1.2M454.0 116.1h1.2M448.9 118.5h1.2M467.2 126.6h1.2M458.9 129.6h1.2M459.8 132.8h1.2M473.8 112.3h1.2M466.3 119.2h1.2M478.8 131.4h1.2M471.2 114.8h1.2M459.0 128.7h1.2M438.8 126.9h1.2M453.9 122.1h1.2M463.7 131.1h1.2M455.1 131.5h1.2M458.0 126.3h1.2M474.6 126.9h1.2M458.9 132.3h1.2M433.7 130.7h1.2M469.2 124.3h1.2M479.7 111.2h1.2M448.9 130.1h1.2M451.8 116.0h1.2M457.5 121.9h1.2M458.1 128.1h1.2M474.0 130.2h1.2M466.1 109.6h1.2M446.1 131.6h1.2M461.0 130.4h1.2M456.2 123.3h1.2M465.5 117.6h1.2M448.2 128.9h1.2M464.8 120.7h1.2M435.6 112.6h1.2M455.3 124.1h1.2M434.2 115.4h1.2M477.9 126.9h1.2M469.8 125.3h1.2M455.7 123.6h1.2M464.5 121.4h1.2M448.8 119.1h1.2M462.2 110.0h1.2M471.1 124.4h1.2M452.4 117.8h1.2M461.9 131.7h1.2M459.7 128.5h1.2M431.3 131.0h1.2M462.4 125.9h1.2M448.8 122.7h1.2M434.7 128.7h1.2M446.4 127.3h1.2M459.5 130.2h1.2M458.4 121.8h1.2M463.3 115.6h1.2M428.2 127.9h1.2M469.0 116.9h1.2M463.9 123.3h1.2M468.8 127.2h1.2M457.5 126.2h1.2M457.3 123.7h1.2M472.8 125.8h1.2M438.7 130.4h1.2M471.7 126.2h1.2M456.9 121.8h1.2M448.1 131.9h1.2M452.1 132.4h1.2M477.7 120.1h1.2M457.4 127.3h1.2M459.6 130.1h1.2M436.0 129.1h1.2M460.6 108.7h1.2M463.2 120.0h1.2M447.7 132.9h1.2M442.0 131.8h1.2M459.4 115.2h1.2M464.2 120.9h1.2M457.9 120.1h1.2M432.3 130.6h1.2M458.4 117.6h1.2M473.6 132.7h1.2M475.9 112.4h1.2M464.0 130.8h1.2M463.4 110.9h1.2M475.2 115.0h1.2M478.0 119.9h1.2M458.1 127.4h1.2M461.5 129.9h1.2M446.7 126.9h1.2M453.7 124.9h1.2M456.4 115.6h1.2M440.7 111.8h1.2M444.4 120.1h1.2M441.9 125.1h1.2M474.2 128.3h1.2M472.7 115.9h1.2M448.9 125.3h1.2M474.9 122.9h1.2M458.6 118.1h1.2M473.5 128.1h1.2M475.3 128.4h1.2M464.0 125.6h1.2M471.4 123.0h1.2M462.3 132.3h1.2M449.8 126.5h1.2M432.2 122.4h1.2M472.7 125.4h1.2M434.3 123.1h1.2M471.5 124.0h1.2M459.4 122.0h1.2M465.0 124.4h1.2M447.8 129.1h1.2M458.2 122.8h1.2M445.2 118.7h1.2M467.6 124.5h1.2M457.5 126.8h1.2M477.2 117.9h1.2M444.7 132.3h1.2M453.8 124.7h1.2M446.9 119.5h1.2M473.0 127.9h1.2M445.0 118.8h1.2M446.4 109.8h1.2M442.4 118.3h1.2M472.9 119.1h1.2M454.4 131.3h1.2M450.5 124.1h1.2M446.4 132.3h1.2M440.9 108.5h1.2M456.5 127.0h1.2M454.7 109.3h1.2M443.9 123.4h1.2M475.3 132.4h1.2M441.0 132.5h1.2M452.9 127.7h1.2M455.0 127.7h1.2M461.7 121.6h1.2M463.3 129.2h1.2M469.9 128.7h1.2M458.8 112.8h1.2M449.1 131.3h1.2M457.7 132.3h1.2M461.1 125.3h1.2M445.9 119.8h1.2M451.5 115.8h1.2M471.6 123.7h1.2M465.0 128.7h1.2M474.6 119.6h1.2M465.2 109.4h1.2M467.7 125.3h1.2M465.1 131.2h1.2M466.2 124.7h1.2M451.6 124.9h1.2M454.3 124.1h1.2M462.8 130.5h1.2M438.5 129.7h1.2M453.8 132.5h1.2M462.7 129.9h1.2M451.2 128.1h1.2M436.8 122.7h1.2M464.3 122.7h1.2M478.7 115.6h1.2M437.4 123.4h1.2M459.7 129.8h1.2M454.8 124.8h1.2M458.8 125.9h1.2M450.0 128.8h1.2M452.4 124.9h1.2M455.5 123.3h1.2M478.2 132.5h1.2M458.8 123.7h1.2M439.5 128.7h1.2M460.4 127.0h1.2M455.0 123.9h1.2M437.7 121.8h1.2M470.0 131.7h1.2M444.3 127.4h1.2M448.9 119.2h1.2M474.8 129.8h1.2M467.2 131.6h1.2M454.5 131.3h1.2M466.6 129.3h1.2M451.2 121.0h1.2M462.2 122.0h1.2M452.4 129.1h1.2M443.9 105.2h1.2M462.0 132.3h1.2M458.6 120.6h1.2M471.5 111.8h1.2M469.5 130.1h1.2M474.8 123.1h1.2M459.8 128.2h1.2M449.8 124.8h1.2M436.1 126.6h1.2M448.4 128.0h1.2M475.7 115.9h1.2M457.1 126.2h1.2M463.7 129.4h1.2M457.6 132.3h1.2M476.9 117.7h1.2M451.7 129.4h1.2M477.6 125.1h1.2M468.3 120.2h1.2M448.9 119.9h1.2M472.9 121.6h1.2M438.5 118.3h1.2M469.3 124.5h1.2M464.7 120.9h1.2M447.9 115.9h1.2M457.7 127.2h1.2M465.6 117.6h1.2M458.7 125.6h1.2M467.1 127.9h1.2M468.9 130.7h1.2M436.4 114.7h1.2M457.4 131.0h1.2M450.6 128.6h1.2M470.3 127.7h1.2M471.9 117.7h1.2M467.3 133.0h1.2M461.2 132.3h1.2M479.3 115.1h1.2M446.6 123.3h1.2M439.3 125.1h1.2M448.7 113.6h1.2M458.5 125.9h1.2M468.2 125.7h1.2M479.4 123.5h1.2M463.1 119.4h1.2M471.7 113.0h1.2M471.0 128.2h1.2M444.0 132.2h1.2M432.8 109.8h1.2M462.9 128.0h1.2M457.4 125.5h1.2M477.8 128.2h1.2M465.2 119.1h1.2M477.3 120.8h1.2M455.3 127.5h1.2M460.2 103.9h1.2M469.3 130.0h1.2M451.4 112.2h1.2M475.8 121.9h1.2M472.5 132.2h1.2M447.9 122.8h1.2M457.7 129.0h1.2M450.4 130.0h1.2M453.8 118.8h1.2M474.9 128.8h1.2M449.0 122.1h1.2M463.4 119.6h1.2M464.8 125.4h1.2M439.6 115.9h1.2M451.9 113.4h1.2M441.9 124.5h1.2M456.6 122.9h1.2M471.0 132.5h1.2M446.8 129.0h1.2M458.6 131.8h1.2M472.2 133.0h1.2M471.7 121.1h1.2M454.6 122.2h1.2M468.9 119.1h1.2M451.4 112.2h1.2M475.3 124.0h1.2M455.9 130.2h1.2M479.2 117.0h1.2M460.0 126.2h1.2M477.8 126.8h1.2M434.7 115.2h1.2M441.7 127.8h1.2M461.1 127.6h1.2M476.8 115.7h1.2M461.8 124.2h1.2M445.3 131.7h1.2M478.8 130.7h1.2M479.7 127.0h1.2M454.1 132.8h1.2M440.2 125.9h1.2M474.0 127.9h1.2M448.1 130.1h1.2M455.3 117.7h1.2M477.3 106.0h1.2M445.6 124.3h1.2M452.2 128.0h1.2M474.2 120.3h1.2M472.1 127.8h1.2M478.8 127.5h1.2M456.0 108.9h1.2M461.8 110.5h1.2M448.1 107.9h1.2M476.6 112.7h1.2M454.7 129.4h1.2M445.8 114.3h1.2M452.0 117.1h1.2M453.1 124.6h1.2M452.4 112.4h1.2M453.7 124.1h1.2M461.4 115.7h1.2M468.1 119.2h1.2M460.1 129.3h1.2M472.6 129.4h1.2M438.2 132.7h1.2M451.5 120.0h1.2M451.0 121.1h1.2M458.8 126.3h1.2M442.7 132.7h1.2M460.7 127.9h1.2M460.3 132.7h1.2M464.3 121.9h1.2M456.5 125.1h1.2M444.3 112.3h1.2M448.4 117.8h1.2M455.6 129.9h1.2M438.8 132.1h1.2M462.1 113.6h1.2M478.6 130.7h1.2M454.2 124.5h1.2M458.9 120.1h1.2M465.5 115.4h1.2M460.4 114.6h1.2M466.7 129.6h1.2M464.2 121.9h1.2M437.2 122.5h1.2M435.5 128.8h1.2M467.8 128.8h1.2M438.2 131.9h1.2M446.6 128.0h1.2M473.7 117.5h1.2M469.5 104.2h1.2M468.0 113.4h1.2M437.2 118.3h1.2M464.2 130.9h1.2M470.2 113.0h1.2M457.9 124.3h1.2M459.9 117.8h1.2M457.7 113.4h1.2M459.2 114.6h1.2M477.0 126.9h1.2M454.1 125.5h1.2M459.7 123.3h1.2M473.4 132.4h1.2M463.6 131.5h1.2M469.1 124.3h1.2M458.5 129.1h1.2M459.6 119.2h1.2M462.2 129.1h1.2M473.9 132.3h1.2M449.5 126.7h1.2M466.2 128.3h1.2M476.9 120.0h1.2M459.6 106.2h1.2M469.5 131.6h1.2M448.4 123.9h1.2M462.3 116.1h1.2M465.9 131.6h1.2M432.3 132.2h1.2M460.9 124.7h1.2M461.9 120.0h1.2M466.8 130.2h1.2M456.1 132.2h1.2M441.7 109.0h1.2M448.3 129.1h1.2M455.2 124.2h1.2M463.2 126.7h1.2M477.8 114.1h1.2M441.8 131.6h1.2M449.5 122.1h1.2M463.0 108.7h1.2M467.7 125.1h1.2M471.3 115.3h1.2M444.5 123.8h1.2M455.1 110.7h1.2M463.3 123.9h1.2M453.9 130.9h1.2M450.0 132.8h1.2M460.2 125.5h1.2M449.5 119.7h1.2M465.0 124.6h1.2M454.0 114.2h1.2M464.3 129.4h1.2M466.8 121.0h1.2M453.2 127.5h1.2M470.8 122.5h1.2M450.2 131.5h1.2M441.8 125.6h1.2M461.6 127.7h1.2M476.8 113.9h1.2M450.7 126.7h1.2M464.7 130.1h1.2M473.2 122.2h1.2M472.9 121.8h1.2M450.0 132.7h1.2M465.7 132.0h1.2M444.6 125.1h1.2M464.7 132.3h1.2M429.6 122.5h1.2M469.9 132.9h1.2M462.6 120.9h1.2M438.7 132.3h1.2M471.5 120.5h1.2M428.3 131.7h1.2M450.4 131.4h1.2M430.7 119.4h1.2M458.8 118.9h1.2M477.6 127.2h1.2M470.4 113.3h1.2M454.0 131.8h1.2M439.1 129.5h1.2M451.4 121.7h1.2M461.1 123.3h1.2M465.3 115.7h1.2M450.0 117.7h1.2M458.3 131.2h1.2M436.3 125.7h1.2M447.9 122.4h1.2M444.0 130.9h1.2M435.3 128.5h1.2M463.6 132.0h1.2M478.9 122.6h1.2M449.1 120.2h1.2M456.8 117.0h1.2M460.1 128.6h1.2M467.5 119.6h1.2M452.6 132.2h1.2M450.0 115.7h1.2M476.9 131.5h1.2M471.7 130.9h1.2M476.0 128.1h1.2M476.2 127.7h1.2M450.4 128.5h1.2M437.5 112.2h1.2M454.2 131.4h1.2M466.6 116.9h1.2M467.7 120.9h1.2M454.5 117.5h1.2M461.4 120.5h1.2M431.0 119.1h1.2M457.7 124.3h1.2M463.6 119.5h1.2M476.6 125.9h1.2M474.5 111.6h1.2M433.0 125.5h1.2M438.5 116.1h1.2M473.3 113.8h1.2M458.6 125.1h1.2M441.2 116.5h1.2M467.9 128.9h1.2M445.5 112.3h1.2M457.6 119.3h1.2M445.3 127.1h1.2M457.1 123.1h1.2M447.9 122.6h1.2M434.0 114.6h1.2M460.1 113.7h1.2M453.8 126.7h1.2M435.3 131.5h1.2M456.4 132.4h1.2M452.5 117.3h1.2M449.9 125.7h1.2M458.5 132.7h1.2M476.1 116.7h1.2M449.5 127.8h1.2M468.3 108.3h1.2M451.6 113.8h1.2M462.8 120.8h1.2M451.9 114.0h1.2M467.7 132.7h1.2M447.7 124.4h1.2M449.7 131.9h1.2M473.3 120.3h1.2M476.8 127.4h1.2M459.4 132.9h1.2M462.0 121.3h1.2M473.9 127.8h1.2M430.5 127.3h1.2M467.3 116.7h1.2M462.1 127.3h1.2M435.5 120.8h1.2M449.8 109.3h1.2M469.7 129.1h1.2M456.0 122.1h1.2M443.5 132.5h1.2M458.4 115.6h1.2M471.6 124.9h1.2M473.0 130.2h1.2M462.4 126.2h1.2M461.4 120.5h1.2M471.9 120.3h1.2M450.5 120.0h1.2M441.7 108.3h1.2M446.7 125.9h1.2M443.6 116.2h1.2M466.1 126.1h1.2M448.1 129.1h1.2M449.9 127.8h1.2M471.1 122.3h1.2M475.0 117.9h1.2M462.4 123.8h1.2M451.3 129.9h1.2M434.1 127.3h1.2M458.0 121.8h1.2M454.1 124.5h1.2M468.3 126.9h1.2M452.1 103.4h1.2M449.3 111.1h1.2M473.6 122.9h1.2M447.9 127.1h1.2M449.0 115.4h1.2M467.3 129.7h1.2M466.3 126.8h1.2M454.1 120.9h1.2M470.9 128.9h1.2M468.9 113.7h1.2M457.4 131.7h1.2M434.0 119.1h1.2M470.7 130.8h1.2M464.1 119.3h1.2M441.2 128.7h1.2M476.6 116.0h1.2M448.1 132.2h1.2M461.1 101.2h1.2M458.9 123.9h1.2M430.3 121.4h1.2M438.5 112.7h1.2M455.7 123.3h1.2M452.8 124.7h1.2M445.3 132.4h1.2M455.9 117.2h1.2M469.6 122.2h1.2M447.7 116.1h1.2M451.6 127.7h1.2M474.9 129.8h1.2M449.7 127.8h1.2M477.4 130.3h1.2M459.7 131.0h1.2M462.4 118.6h1.2M469.6 124.6h1.2M447.2 120.4h1.2M459.6 128.8h1.2M440.5 115.6h1.2M474.4 125.7h1.2M457.0 120.0h1.2M453.6 132.9h1.2M445.7 105.4h1.2M477.7 126.2h1.2M461.4 116.6h1.2M462.6 127.8h1.2M450.6 124.9h1.2M449.6 127.3h1.2M450.5 115.4h1.2M468.7 125.1h1.2" stroke="#666" stroke-width="1.2" fill="none" opacity="0.46"/>
<path d="M472.6 129.6h1.2M460.9 117.4h1.2M466.2 126.0h1.2M438.1 118.9h1.2M450.9 130.8h1.2M442.4 125.1h1.2M448.4 128.0h1.2M455.6 126.9h1.2M460.4 114.9h1.2M464.3 128.1h1.2M455.9 127.4h1.2M451.7 128.5h1.2M453.7 122.1h1.2M472.7 109.0h1.2M478.2 124.0h1.2M462.6 131.5h1.2M446.6 131.0h1.2M436.5 117.2h1.2M463.7 127.6h1.2M472.4 131.7h1.2M445.9 121.5h1.2M457.3 125.8h1.2M445.3 117.6h1.2M476.2 125.2h1.2M465.3 111.2h1.2M462.8 113.8h1.2M475.4 129.0h1.2M449.3 124.0h1.2M454.6 108.4h1.2M461.7 108.6h1.2M438.9 128.8h1.2M450.9 127.6h1.2M453.8 112.3h1.2M459.8 124.8h1.2M461.8 126.9h1.2M466.5 113.5h1.2M430.4 130.9h1.2M466.1 129.4h1.2M452.3 120.9h1.2M470.0 117.3h1.2M466.8 118.4h1.2M448.4 125.9h1.2M452.6 127.3h1.2M454.4 110.1h1.2M473.5 123.3h1.2M462.6 126.9h1.2M429.0 118.5h1.2M455.3 117.9h1.2M466.5 123.7h1.2M463.6 113.5h1.2M465.9 117.3h1.2M452.4 124.4h1.2M465.2 121.4h1.2M456.2 120.1h1.2M472.4 128.1h1.2M435.5 116.9h1.2M476.4 130.2h1.2M457.7 122.7h1.2M471.4 126.8h1.2M453.7 127.2h1.2M473.2 120.5h1.2M461.7 132.9h1.2M478.3 122.4h1.2M456.9 131.2h1.2M478.4 119.2h1.2M471.7 126.6h1.2M452.5 121.4h1.2M473.5 125.0h1.2M456.8 123.6h1.2M476.2 130.2h1.2M463.1 129.2h1.2M432.8 125.2h1.2M474.4 132.7h1.2M458.1 126.7h1.2M437.5 120.7h1.2M476.2 126.0h1.2M439.9 129.2h1.2M472.3 125.8h1.2M462.3 126.5h1.2M464.3 113.4h1.2M429.4 124.4h1.2M477.2 112.0h1.2M464.0 122.3h1.2M442.4 119.8h1.2M448.8 129.2h1.2M475.3 129.8h1.2M470.9 123.8h1.2M432.8 131.8h1.2M449.5 114.0h1.2M470.4 130.9h1.2M473.3 119.9h1.2M463.6 131.0h1.2M447.0 128.9h1.2M477.8 131.8h1.2M450.2 115.6h1.2M452.3 111.5h1.2M458.0 112.2h1.2M459.6 128.2h1.2M464.5 115.3h1.2M464.3 123.7h1.2M446.5 131.4h1.2M458.9 123.4h1.2M454.1 128.1h1.2M471.5 127.3h1.2M447.9 122.2h1.2M462.4 131.2h1.2M457.7 113.4h1.2M447.9 113.2h1.2M475.9 128.1h1.2M452.5 123.4h1.2M475.5 113.0h1.2M456.3 119.9h1.2M437.6 118.1h1.2M450.8 131.6h1.2M475.0 125.2h1.2M471.3 125.3h1.2M447.3 129.0h1.2M476.1 111.9h1.2M458.4 124.2h1.2M440.8 132.4h1.2M462.8 112.1h1.2M456.1 122.0h1.2M447.2 102.8h1.2M462.3 128.0h1.2M455.9 130.7h1.2M445.8 124.7h1.2M443.8 127.8h1.2M471.8 112.0h1.2M476.8 130.6h1.2M471.7 124.6h1.2M446.4 128.6h1.2M469.4 127.7h1.2M465.1 130.8h1.2M475.4 118.0h1.2M453.6 125.9h1.2M459.3 128.7h1.2M437.8 123.0h1.2M478.0 125.5h1.2M444.7 113.5h1.2M455.0 131.6h1.2M469.0 128.8h1.2M463.7 110.6h1.2M464.2 131.9h1.2M458.1 132.2h1.2M451.9 128.6h1.2M441.0 122.5h1.2M438.7 131.8h1.2M471.7 119.1h1.2M459.5 127.3h1.2M443.8 124.2h1.2M467.7 126.5h1.2M465.6 108.4h1.2M476.6 114.2h1.2M434.9 113.0h1.2M446.1 119.0h1.2M479.2 123.7h1.2M463.4 130.1h1.2M470.0 132.2h1.2M475.9 116.8h1.2M462.3 127.2h1.2M465.3 120.4h1.2M456.5 119.0h1.2M477.8 122.0h1.2M459.3 132.3h1.2M441.2 131.4h1.2M464.9 132.5h1.2M434.6 125.1h1.2M458.4 130.5h1.2M444.4 112.2h1.2M473.6 122.1h1.2M470.3 128.9h1.2M470.3 131.1h1.2M476.9 126.9h1.2M474.2 108.3h1.2M479.8 133.0h1.2M449.4 129.9h1.2M464.0 124.9h1.2M466.1 128.5h1.2M451.8 131.6h1.2M437.0 127.5h1.2M452.5 130.5h1.2M478.3 118.9h1.2M470.3 121.4h1.2M469.9 132.6h1.2M455.1 118.6h1.2M469.3 121.3h1.2M467.5 124.3h1.2M438.6 124.7h1.2M468.0 119.5h1.2M471.5 118.9h1.2M451.6 132.1h1.2M465.4 110.4h1.2M428.9 121.8h1.2M452.7 125.4h1.2M462.3 131.1h1.2M451.0 130.9h1.2M471.0 126.5h1.2M440.0 128.2h1.2M442.4 126.6h1.2M454.5 129.8h1.2M464.5 103.7h1.2M468.3 131.1h1.2M434.8 120.8h1.2M443.3 118.1h1.2M459.8 122.7h1.2M457.5 124.8h1.2M453.5 113.3h1.2M458.0 132.7h1.2M468.4 128.2h1.2M448.8 126.6h1.2M461.5 121.0h1.2M452.0 129.8h1.2M459.8 129.3h1.2M467.7 114.5h1.2M444.5 124.5h1.2M453.9 116.9h1.2M452.2 130.6h1.2M441.3 117.6h1.2M461.6 123.7h1.2M448.8 127.7h1.2M465.8 117.9h1.2M468.1 117.2h1.2M476.1 125.5h1.2M452.6 129.3h1.2M465.5 129.9h1.2M454.5 133.0h1.2M477.0 128.6h1.2M442.5 118.1h1.2M443.8 132.6h1.2M439.2 122.7h1.2M453.5 117.0h1.2M450.6 129.2h1.2M441.8 116.6h1.2M475.9 126.4h1.2M467.5 133.0h1.2M451.2 123.3h1.2M447.8 115.5h1.2M436.7 118.6h1.2M465.5 125.1h1.2M467.5 113.7h1.2M472.5 117.0h1.2M466.7 132.7h1.2M466.2 128.0h1.2M443.8 130.3h1.2M449.2 130.1h1.2M462.6 131.2h1.2M435.7 129.6h1.2M476.6 132.8h1.2M451.5 124.9h1.2M473.6 131.6h1.2M477.5 127.4h1.2M463.5 127.9h1.2M443.0 123.7h1.2M441.6 122.7h1.2M462.5 122.6h1.2M429.9 128.5h1.2M465.4 106.5h1.2M466.8 127.5h1.2M447.2 130.8h1.2M449.9 128.7h1.2M449.3 118.7h1.2M462.3 129.8h1.2M462.2 110.5h1.2M449.9 126.4h1.2M469.6 127.7h1.2M473.1 131.9h1.2M460.7 123.1h1.2M474.9 126.6h1.2M462.1 125.2h1.2M461.1 124.4h1.2M464.1 125.7h1.2M459.8 128.6h1.2M457.0 127.0h1.2M460.6 106.3h1.2M446.5 108.4h1.2M443.6 130.9h1.2M468.5 131.0h1.2M447.3 120.2h1.2M447.6 113.3h1.2M453.1 129.1h1.2M448.8 124.1h1.2M451.3 115.4h1.2M478.5 120.4h1.2M460.9 130.0h1.2M465.5 131.2h1.2M450.5 130.3h1.2M477.9 114.6h1.2M463.4 127.9h1.2M465.7 109.1h1.2M462.3 119.8h1.2M460.1 122.3h1.2M471.2 132.1h1.2M468.7 110.5h1.2M442.9 124.8h1.2M448.0 128.6h1.2M453.3 132.6h1.2M458.8 128.1h1.2M467.5 113.7h1.2M466.5 131.7h1.2M473.2 128.5h1.2M454.9 129.8h1.2M447.5 124.5h1.2M429.2 125.1h1.2M464.3 122.9h1.2M448.7 125.3h1.2M464.8 118.9h1.2M475.7 119.3h1.2M460.4 116.4h1.2M449.5 128.5h1.2M453.8 132.1h1.2M458.0 126.6h1.2M463.5 129.6h1.2M468.9 131.5h1.2M465.3 129.6h1.2M449.4 127.1h1.2M476.7 123.3h1.2M469.8 128.6h1.2M461.3 125.3h1.2M448.0 130.7h1.2M443.1 130.6h1.2M453.7 129.3h1.2M443.1 127.1h1.2M449.3 118.7h1.2M449.8 130.3h1.2M452.7 127.7h1.2M476.3 126.8h1.2M452.6 111.5h1.2M443.2 125.4h1.2M479.0 131.5h1.2M468.6 115.8h1.2M476.0 132.7h1.2M465.9 132.1h1.2M476.3 122.3h1.2M468.1 111.1h1.2M456.8 109.2h1.2M468.0 115.0h1.2M460.3 113.8h1.2M468.0 109.0h1.2M447.3 122.6h1.2M463.5 129.2h1.2M459.8 122.8h1.2M448.0 128.2h1.2M459.2 123.6h1.2M444.1 123.4h1.2M433.9 132.6h1.2M465.6 130.3h1.2M445.2 122.8h1.2M473.9 126.9h1.2M454.5 130.0h1.2M470.3 130.1h1.2M432.9 114.4h1.2M478.1 123.1h1.2M443.8 128.0h1.2M463.0 120.3h1.2M444.1 131.4h1.2M443.3 130.4h1.2M468.6 132.6h1.2M436.9 119.4h1.2M474.7 124.5h1.2M470.7 126.4h1.2M441.5 117.1h1.2M462.7 129.3h1.2M444.8 132.0h1.2M444.9 123.6h1.2M435.6 129.8h1.2M450.6 119.9h1.2M445.1 122.0h1.2M468.4 131.0h1.2M453.3 124.7h1.2M458.0 111.3h1.2M455.8 127.5h1.2M468.6 113.2h1.2M462.7 110.8h1.2M433.7 120.2h1.2M465.4 130.6h1.2M454.8 111.0h1.2M451.8 130.2h1.2M445.2 117.6h1.2M450.4 115.4h1.2M472.1 116.6h1.2M467.6 127.2h1.2M461.6 120.1h1.2M472.9 133.0h1.2M462.4 129.2h1.2M455.7 126.5h1.2M451.5 129.5h1.2M457.3 132.2h1.2M432.4 130.9h1.2M440.7 131.4h1.2M458.1 130.7h1.2M454.1 132.1h1.2M466.8 129.3h1.2M457.1 120.9h1.2M454.2 128.0h1.2M461.0 124.5h1.2M460.6 128.9h1.2M456.9 123.4h1.2M443.8 118.2h1.2M452.2 131.5h1.2M454.9 120.5h1.2M434.0 120.4h1.2M450.3 105.4h1.2M454.8 122.9h1.2M451.6 120.3h1.2M466.9 121.4h1.2M463.1 121.8h1.2M455.2 119.7h1.2M466.2 126.7h1.2M466.0 129.1h1.2M445.6 130.4h1.2M435.9 131.2h1.2M462.4 121.0h1.2M449.5 128.8h1.2M448.0 132.4h1.2M461.5 130.8h1.2M458.5 123.6h1.2M472.4 124.1h1.2M470.4 125.4h1.2M469.7 115.9h1.2M466.4 112.3h1.2M442.1 126.8h1.2M477.3 123.2h1.2M460.5 118.0h1.2M447.6 124.8h1.2M443.9 131.6h1.2M436.6 126.6h1.2M470.2 132.9h1.2M462.5 127.4h1.2M444.1 124.7h1.2M454.8 122.4h1.2M453.6 123.3h1.2M468.3 123.4h1.2M458.4 121.9h1.2M435.8 123.7h1.2M455.4 127.4h1.2M450.7 120.4h1.2M445.2 123.9h1.2M473.7 125.7h1.2M449.5 124.9h1.2M456.5 115.1h1.2M474.9 126.4h1.2M448.3 115.9h1.2M478.8 131.3h1.2M464.6 127.4h1.2M467.5 132.3h1.2M474.7 132.4h1.2M450.0 130.8h1.2M464.1 129.7h1.2M478.6 129.2h1.2M453.0 133.0h1.2M454.4 127.7h1.2M467.3 107.3h1.2M452.4 118.0h1.2M464.9 112.9h1.2M461.5 129.3h1.2M448.2 125.9h1.2M472.5 122.1h1.2M432.4 114.5h1.2M458.2 113.4h1.2M457.5 126.8h1.2M479.6 130.8h1.2M476.8 131.1h1.2M477.5 119.4h1.2M442.1 131.8h1.2M466.2 119.7h1.2M453.6 130.0h1.2M451.2 123.4h1.2M474.1 126.9h1.2M457.0 114.2h1.2M454.1 120.4h1.2M442.4 122.1h1.2M465.6 132.3h1.2M453.0 119.6h1.2M460.7 128.9h1.2M456.9 114.8h1.2M453.0 111.8h1.2M461.1 128.0h1.2M478.2 120.8h1.2M446.9 125.2h1.2M445.9 114.0h1.2M471.7 113.0h1.2M446.3 110.7h1.2M463.4 127.9h1.2M450.3 131.8h1.2M470.9 124.5h1.2M443.8 131.0h1.2M458.0 125.6h1.2M460.2 122.6h1.2M459.3 124.6h1.2M464.9 121.2h1.2M463.7 115.0h1.2M464.5 118.6h1.2M457.3 119.4h1.2M474.2 124.3h1.2M472.8 123.6h1.2M443.2 107.3h1.2M468.4 119.8h1.2M466.6 128.2h1.2M451.9 118.6h1.2M452.0 115.7h1.2M460.4 127.2h1.2M469.9 118.7h1.2M450.6 121.8h1.2M447.1 123.3h1.2M442.8 131.0h1.2M452.5 129.7h1.2M445.3 132.9h1.2M466.7 115.9h1.2M443.7 116.8h1.2M457.7 127.7h1.2M454.4 125.7h1.2M447.5 111.8h1.2M441.5 116.1h1.2M469.7 119.3h1.2M460.9 114.1h1.2M444.2 130.9h1.2M479.0 132.1h1.2M471.6 129.3h1.2M456.3 131.6h1.2M470.4 109.0h1.2M460.5 129.1h1.2M442.0 130.8h1.2M433.2 127.0h1.2M462.2 132.4h1.2M441.0 130.5h1.2M463.0 129.3h1.2M460.7 111.2h1.2M448.8 126.8h1.2M468.4 131.5h1.2M472.4 132.2h1.2M455.5 121.2h1.2M469.6 132.2h1.2M460.6 132.8h1.2M465.7 121.0h1.2M452.7 130.1h1.2M456.3 127.9h1.2M457.6 120.2h1.2M465.9 120.6h1.2M428.8 128.7h1.2M466.0 129.2h1.2M436.2 112.6h1.2M464.7 113.8h1.2M468.7 120.9h1.2M461.6 122.1h1.2M472.5 118.0h1.2M474.5 129.0h1.2M451.5 125.2h1.2M474.5 126.9h1.2M432.0 129.1h1.2M471.0 122.4h1.2M471.5 122.9h1.2M451.6 118.3h1.2M472.1 128.6h1.2M433.7 117.3h1.2M434.3 118.2h1.2M462.6 124.7h1.2M460.3 128.7h1.2M464.2 126.5h1.2M461.0 126.9h1.2M464.4 112.2h1.2M464.1 121.2h1.2M441.2 113.6h1.2M452.0 124.3h1.2M466.6 119.8h1.2M432.2 119.4h1.2M446.8 110.2h1.2M466.1 121.7h1.2M444.7 115.8h1.2M477.3 132.2h1.2M470.3 128.2h1.2M441.2 126.0h1.2M471.8 130.9h1.2M454.3 127.9h1.2M439.2 116.2h1.2M446.7 124.1h1.2M463.6 108.6h1.2M448.6 110.4h1.2M453.5 131.9h1.2M453.7 128.8h1.2M440.8 125.7h1.2M434.6 122.5h1.2M457.4 122.1h1.2M466.8 116.9h1.2M457.4 130.6h1.2M459.8 131.9h1.2M466.2 128.6h1.2M463.1 102.7h1.2M438.9 126.4h1.2M452.1 130.0h1.2M461.2 130.1h1.2M441.9 125.4h1.2M462.5 127.1h1.2M440.2 116.5h1.2M478.0 130.3h1.2M450.6 123.4h1.2M445.2 129.1h1.2M467.7 124.2h1.2M436.6 126.1h1.2M463.7 126.4h1.2M465.1 131.2h1.2M437.9 121.7h1.2M475.3 126.2h1.2M475.6 117.4h1.2M450.2 129.2h1.2M442.2 115.3h1.2M448.0 132.6h1.2M467.8 125.7h1.2M463.4 122.8h1.2M470.7 126.0h1.2M470.7 125.0h1.2M453.8 117.8h1.2M474.2 128.9h1.2M459.3 125.9h1.2M440.1 119.6h1.2M467.1 117.7h1.2M467.1 129.3h1.2M445.9 113.2h1.2M456.5 127.7h1.2M462.1 123.0h1.2M434.7 131.6h1.2M461.1 118.0h1.2M462.6 115.9h1.2M472.8 117.7h1.2M446.3 110.2h1.2M461.6 131.3h1.2M475.9 124.9h1.2M466.1 128.7h1.2M451.1 113.8h1.2M466.3 117.1h1.2M476.5 127.9h1.2M478.4 122.3h1.2M449.2 118.6h1.2M455.3 114.4h1.2M457.0 131.1h1.2M438.6 111.9h1.2M455.4 126.5h1.2M438.0 123.2h1.2M433.3 111.0h1.2M468.1 120.5h1.2M461.4 124.2h1.2M459.0 130.6h1.2M473.8 112.4h1.2M457.8 126.5h1.2M448.8 129.0h1.2M453.9 120.2h1.2M474.9 124.6h1.2M461.3 117.2h1.2M471.0 119.8h1.2M461.1 127.2h1.2M449.7 128.7h1.2M443.2 128.1h1.2M453.1 120.3h1.2M451.2 125.1h1.2M473.8 117.0h1.2M455.7 122.0h1.2M460.7 124.4h1.2M462.0 112.5h1.2M449.3 118.4h1.2M462.2 127.6h1.2M438.4 119.7h1.2M457.7 122.8h1.2M447.5 132.8h1.2M447.3 109.2h1.2M454.4 125.4h1.2M475.5 115.8h1.2M464.3 128.8h1.2M457.8 112.4h1.2M448.8 112.1h1.2M453.4 129.1h1.2M437.4 116.6h1.2M455.7 126.0h1.2M458.6 120.3h1.2M470.6 121.3h1.2M466.2 117.4h1.2M450.5 115.1h1.2M454.3 121.2h1.2M454.4 130.3h1.2M456.3 132.0h1.2M471.4 112.5h1.2M450.8 132.0h1.2M456.4 132.2h1.2M477.3 113.8h1.2M472.4 125.7h1.2M449.1 114.5h1.2M461.9 127.9h1.2M471.8 129.2h1.2M454.2 120.9h1.2M440.6 123.4h1.2M460.6 118.0h1.2M444.9 130.6h1.2M460.5 112.2h1.2M435.8 131.3h1.2M460.5 121.9h1.2M465.5 117.4h1.2M476.2 120.2h1.2M446.8 128.9h1.2M472.0 126.4h1.2M429.5 129.7h1.2M451.5 121.0h1.2M444.6 122.3h1.2M436.8 109.9h1.2M438.1 132.9h1.2M464.2 127.5h1.2M468.6 111.4h1.2M449.3 131.3h1.2M476.9 127.5h1.2M454.9 128.5h1.2M463.4 131.0h1.2M467.7 120.6h1.2M461.4 122.5h1.2M441.6 119.6h1.2M430.0 122.5h1.2M459.9 112.8h1.2M435.4 126.9h1.2M472.1 131.1h1.2M463.7 129.1h1.2M470.4 132.8h1.2M460.0 130.5h1.2M452.7 118.9h1.2M465.8 129.6h1.2M477.8 132.3h1.2M452.1 130.5h1.2M453.5 123.2h1.2M458.1 121.8h1.2M475.8 126.5h1.2M438.7 108.1h1.2M455.8 122.9h1.2M440.4 131.5h1.2M462.7 113.5h1.2M450.5 123.6h1.2M457.7 112.1h1.2M474.5 132.8h1.2M471.9 124.1h1.2M477.6 128.5h1.2M437.1 125.0h1.2M447.2 132.3h1.2M433.4 117.6h1.2M445.7 129.8h1.2M449.4 111.5h1.2M436.8 122.0h1.2M447.6 132.9h1.2M453.5 122.5h1.2M450.9 125.8h1.2M473.5 118.6h1.2M474.2 129.7h1.2M435.9 126.7h1.2M468.5 115.1h1.2M466.3 116.5h1.2M460.2 121.0h1.2M464.3 131.4h1.2M455.0 125.8h1.2M455.3 122.4h1.2M466.0 125.9h1.2M460.1 119.7h1.2M457.8 126.2h1.2M466.5 126.2h1.2M440.0 127.3h1.2M439.4 130.2h1.2M453.4 111.4h1.2M455.4 110.6h1.2M457.1 128.5h1.2M458.3 132.6h1.2M443.4 131.6h1.2M478.8 122.8h1.2M471.6 126.0h1.2M455.9 131.0h1.2M475.3 114.3h1.2M460.5 130.9h1.2M441.2 109.8h1.2M475.5 125.8h1.2M447.6 113.5h1.2M452.6 132.6h1.2M459.2 126.0h1.2M467.8 102.2h1.2M430.3 130.5h1.2M471.8 128.9h1.2M468.6 124.0h1.2M434.8 116.1h1.2M467.1 127.6h1.2M460.6 125.8h1.2M461.0 116.9h1.2M474.7 125.9h1.2M434.7 117.2h1.2M466.9 123.4h1.2M450.8 121.3h1.2M457.1 126.8h1.2M468.0 123.3h1.2M461.3 126.0h1.2M455.1 124.6h1.2M453.8 107.5h1.2M469.2 114.0h1.2M438.3 122.4h1.2M445.4 132.2h1.2M451.9 132.1h1.2M468.7 119.6h1.2M442.3 127.4h1.2M456.6 105.2h1.2M441.5 128.6h1.2M464.8 124.7h1.2M479.4 119.0h1.2M436.3 121.2h1.2M466.8 117.9h1.2M472.4 108.2h1.2M462.4 119.0h1.2M463.9 120.7h1.2M444.6 130.7h1.2M458.4 126.7h1.2M444.8 106.5h1.2M468.9 120.0h1.2M459.9 132.6h1.2M447.8 132.6h1.2M446.2 121.8h1.2M439.2 125.8h1.2M459.0 132.9h1.2M447.4 123.5h1.2M450.1 129.8h1.2M446.0 124.8h1.2M473.1 112.9h1.2M462.5 129.4h1.2M468.0 123.1h1.2M443.7 132.2h1.2M471.5 115.6h1.2M452.4 121.4h1.2M452.7 127.0h1.2M464.3 129.0h1.2M470.5 111.6h1.2M449.4 124.2h1.2M461.1 123.5h1.2M450.8 129.7h1.2M455.9 130.2h1.2M453.4 125.3h1.2M479.6 115.3h1.2M462.9 110.9h1.2M457.4 129.1h1.2M439.1 128.9h1.2" stroke="#666" stroke-width="1.2" fill="none" opacity="0.46"/>
<rect x="386.9" y="46.9" width="96.3" height="87.1" fill="none" stroke="#777" stroke-width="0.8"/>
<path d="M386.9 46.9V134.0H483.2" stroke="#222" stroke-width="1.3" fill="none"/>
<path d="M389.8 134.0v2.8M392.2 134.0v2.8M394.1 134.0v2.8M395.8 134.0v2.8M397.2 134.0v2.8M398.5 134.0v2.8M399.6 134.0v4.6M407.0 134.0v2.8M411.4 134.0v2.8M414.5 134.0v2.8M416.9 134.0v2.8M418.8 134.0v2.8M420.5 134.0v2.8M421.9 134.0v2.8M423.2 134.0v2.8M424.3 134.0v4.6M431.7 134.0v2.8M436.1 134.0v2.8M439.2 134.0v2.8M441.6 134.0v2.8M443.5 134.0v2.8M445.2 134.0v2.8M446.6 134.0v2.8M447.9 134.0v2.8M449.0 134.0v4.6M456.4 134.0v2.8M460.8 134.0v2.8M463.9 134.0v2.8M466.3 134.0v2.8M468.2 134.0v2.8M469.9 134.0v2.8M471.3 134.0v2.8M472.6 134.0v2.8M473.7 134.0v4.6M481.1 134.0v2.8M386.9 130.4h-2.8M386.9 128.3h-2.8M386.9 126.5h-2.8M386.9 125.0h-2.8M386.9 123.8h-2.8M386.9 122.6h-2.8M386.9 121.6h-5.0M386.9 114.9h-2.8M386.9 111.0h-2.8M386.9 108.2h-2.8M386.9 106.1h-2.8M386.9 104.3h-2.8M386.9 102.8h-2.8M386.9 101.6h-2.8M386.9 100.4h-2.8M386.9 99.4h-5.0M386.9 92.7h-2.8M386.9 88.8h-2.8M386.9 86.0h-2.8M386.9 83.9h-2.8M386.9 82.1h-2.8M386.9 80.6h-2.8M386.9 79.4h-2.8M386.9 78.2h-2.8M386.9 77.2h-5.0M386.9 70.5h-2.8M386.9 66.6h-2.8M386.9 63.8h-2.8M386.9 61.7h-2.8M386.9 59.9h-2.8M386.9 58.4h-2.8M386.9 57.2h-2.8M386.9 56.0h-2.8M386.9 55.0h-5.0M386.9 48.3h-2.8" stroke="#222" stroke-width="0.8" fill="none"/>
<g transform="translate(400.2 148.8)"><text class="t7" font-size="8.2" text-anchor="middle" x="0" y="0">10<tspan dy="-3.9" font-size="6.8">2</tspan></text></g>
<g transform="translate(424.9 148.8)"><text class="t7" font-size="8.2" text-anchor="middle" x="0" y="0">10<tspan dy="-3.9" font-size="6.8">3</tspan></text></g>
<g transform="translate(449.6 148.8)"><text class="t7" font-size="8.2" text-anchor="middle" x="0" y="0">10<tspan dy="-3.9" font-size="6.8">4</tspan></text></g>
<g transform="translate(474.3 148.8)"><text class="t7" font-size="8.2" text-anchor="middle" x="0" y="0">10<tspan dy="-3.9" font-size="6.8">5</tspan></text></g>
<g transform="translate(379.7 121.9) rotate(-90)"><text class="t7" font-size="8.2" text-anchor="middle" x="0" y="0">10<tspan dy="-3.9" font-size="6.8">2</tspan></text></g>
<g transform="translate(379.7 99.7) rotate(-90)"><text class="t7" font-size="8.2" text-anchor="middle" x="0" y="0">10<tspan dy="-3.9" font-size="6.8">3</tspan></text></g>
<g transform="translate(379.7 77.5) rotate(-90)"><text class="t7" font-size="8.2" text-anchor="middle" x="0" y="0">10<tspan dy="-3.9" font-size="6.8">4</tspan></text></g>
<g transform="translate(379.7 55.3) rotate(-90)"><text class="t7" font-size="8.2" text-anchor="middle" x="0" y="0">10<tspan dy="-3.9" font-size="6.8">5</tspan></text></g>
<text class="t7" text-anchor="middle" x="435.0" y="158.2">PE Cy5-5-A</text>
<g transform="translate(368.3 91.0) rotate(-90)"><text class="t7" font-size="7.1" text-anchor="middle" x="0" y="0">GFP-A</text></g>
<rect x="386.9" y="46.9" width="96.3" height="43.5" fill="none" stroke="#000" stroke-width="1.6"/>
<rect x="420.3" y="95.7" width="62.9" height="38.2" fill="none" stroke="#000" stroke-width="1.6"/>
<text class="b" font-size="11.8" text-anchor="middle" x="461.3" y="61.3">0.00%</text>
<text class="b" font-size="12.3" text-anchor="middle" x="425.8" y="23.2">2<tspan dy="-4.8" font-size="8.5">nd</tspan><tspan dy="4.8"> Sort</tspan></text>
<text class="pl" x="0.3" y="191.3">B</text>
<path d="M55.8 196.2V348.4H302.6" stroke="#000" stroke-width="1.5" fill="none"/>
<path d="M55.8 348.4h-3.3M55.8 310.5h-3.3M55.8 272.6h-3.3M55.8 234.7h-3.3M55.8 196.8h-3.3M55.8 348.4v3.3M96.8 348.4v3.3M137.9 348.4v3.3M178.9 348.4v3.3M220.0 348.4v3.3M261.1 348.4v3.3M302.1 348.4v3.3" stroke="#000" stroke-width="1.2" fill="none"/>
<g transform="translate(47.4 351.7) scale(1.13 1)"><text  font-size="9.1" text-anchor="end" fill="#000" x="0" y="0">0</text></g>
<g transform="translate(47.4 313.8) scale(1.13 1)"><text  font-size="9.1" text-anchor="end" fill="#000" x="0" y="0">10</text></g>
<g transform="translate(47.4 275.9) scale(1.13 1)"><text  font-size="9.1" text-anchor="end" fill="#000" x="0" y="0">20</text></g>
<g transform="translate(47.4 238.0) scale(1.13 1)"><text  font-size="9.1" text-anchor="end" fill="#000" x="0" y="0">30</text></g>
<g transform="translate(47.4 200.1) scale(1.13 1)"><text  font-size="9.1" text-anchor="end" fill="#000" x="0" y="0">40</text></g>
<text class="t10" font-size="9.8" text-anchor="middle" x="76.8" y="366.7">E</text>
<rect x="62.85" y="279.4" width="13.6" height="69.0" fill="#fff" stroke="#000" stroke-width="1.3"/>
<rect x="77.1" y="332.1" width="13.8" height="16.8" fill="#000"/>
<path d="M70.0 279.4V271.8M68.0 271.8h4" stroke="#000" stroke-width="1.2" fill="none"/>
<path d="M83.8 332.1V319.6M81.8 319.6h4" stroke="#000" stroke-width="1.2" fill="none"/>
<text class="t10" font-size="9.8" text-anchor="middle" x="117.9" y="366.7">G</text>
<rect x="103.91" y="322.2" width="13.6" height="26.2" fill="#fff" stroke="#000" stroke-width="1.3"/>
<rect x="118.2" y="324.9" width="13.8" height="24.0" fill="#000"/>
<path d="M111.1 322.2V303.7M109.1 303.7h4" stroke="#000" stroke-width="1.2" fill="none"/>
<path d="M124.9 324.9V311.3M122.9 311.3h4" stroke="#000" stroke-width="1.2" fill="none"/>
<text class="t10" font-size="9.8" text-anchor="middle" x="158.9" y="366.7">M</text>
<rect x="144.97" y="329.8" width="13.6" height="18.6" fill="#fff" stroke="#000" stroke-width="1.3"/>
<rect x="159.2" y="346.5" width="13.8" height="2.4" fill="#000"/>
<path d="M152.1 329.8V327.2M150.1 327.2h4" stroke="#000" stroke-width="1.2" fill="none"/>
<path d="M165.9 346.5V341.2M163.9 341.2h4" stroke="#000" stroke-width="1.2" fill="none"/>
<text class="t10" font-size="9.8" text-anchor="middle" x="200.0" y="366.7">GM</text>
<rect x="186.03" y="345.0" width="13.6" height="3.4" fill="#fff" stroke="#000" stroke-width="1.3"/>
<rect x="200.3" y="348.0" width="13.8" height="0.9" fill="#000"/>
<path d="M207.0 348.0V346.1M205.0 346.1h4" stroke="#000" stroke-width="1.2" fill="none"/>
<text class="t10" font-size="9.8" text-anchor="middle" x="241.0" y="366.7">Mix</text>
<rect x="227.09" y="338.2" width="13.6" height="10.2" fill="#fff" stroke="#000" stroke-width="1.3"/>
<rect x="241.3" y="347.6" width="13.8" height="1.3" fill="#000"/>
<path d="M234.2 338.2V336.3M232.2 336.3h4" stroke="#000" stroke-width="1.2" fill="none"/>
<path d="M248.0 347.6V341.6M246.0 341.6h4" stroke="#000" stroke-width="1.2" fill="none"/>
<text class="t10" font-size="9.8" text-anchor="middle" x="282.1" y="366.7">Total</text>
<rect x="268.15" y="220.7" width="13.6" height="127.7" fill="#fff" stroke="#000" stroke-width="1.3"/>
<rect x="282.4" y="305.6" width="13.8" height="43.3" fill="#000"/>
<path d="M275.3 220.7V209.7M273.3 209.7h4" stroke="#000" stroke-width="1.2" fill="none"/>
<path d="M289.1 305.6V297.2M287.1 297.2h4" stroke="#000" stroke-width="1.2" fill="none"/>
<path d="M71.5 265.6v-4.6H85.7v4.6" stroke="#000" stroke-width="0.9" fill="none"/><text class="b" font-size="8.2" text-anchor="middle" x="78.6" y="258.4">4.2 X</text>
<path d="M153.6 319.4v-4.6H167.4v4.6" stroke="#000" stroke-width="0.9" fill="none"/><text class="b" font-size="8.2" text-anchor="middle" x="160.5" y="312.2">10 X</text>
<path d="M235.5 324.6v-4.6H249.5v4.6" stroke="#000" stroke-width="0.9" fill="none"/><text class="b" font-size="8.2" text-anchor="middle" x="242.5" y="317.4">11 X</text>
<path d="M273.0 206.1v-4.6H287.0v4.6" stroke="#000" stroke-width="0.9" fill="none"/><text class="b" font-size="8.2" text-anchor="middle" x="280.0" y="198.9">3 X</text>
<text class="b" font-size="9" text-anchor="middle" x="84.6" y="317.0">**</text>
<text class="b" font-size="9" text-anchor="middle" x="165.5" y="335.6">**</text>
<text class="b" font-size="9" text-anchor="middle" x="205.0" y="342.2">*</text>
<text class="b" font-size="9" text-anchor="middle" x="246.5" y="335.6">**</text>
<text class="b" font-size="9" text-anchor="middle" x="288.3" y="295.2">**</text>
<rect x="82" y="200.2" width="4.9" height="4.9" fill="#fff" stroke="#000" stroke-width="1.5"/>
<text class="t11" font-size="11.3" x="89" y="206.5">Control</text>
<rect x="81.3" y="218.3" width="5.9" height="5.9" fill="#000"/>
<text class="t11" font-size="11.3" x="89.6" y="225">Leukemia</text>
<g transform="translate(33.4 270.3) rotate(-90) scale(1.13 1)"><text class="b" font-size="9.8" text-anchor="middle" x="0" y="0">CFC frequency (per 10<tspan dy="-3.6" font-size="6.4">4</tspan><tspan dy="3.6"> cells)</tspan></text></g>
<text class="pl" x="0.5" y="400.5">C</text>
<path d="M59.5 397.3V578.0H333.8" stroke="#000" stroke-width="1.5" fill="none"/>
<path d="M59.5 397.3h-3.5M59.5 578.0h-3.5M59.5 578.0v3.5M114.2 578.0v3.5M169.0 578.0v3.5M223.8 578.0v3.5M278.5 578.0v3.5M333.2 578.0v3.5" stroke="#000" stroke-width="1.2" fill="none"/>
<text class="t10" font-size="9.6" text-anchor="end" x="50.6" y="400.7">1</text>
<text class="t10" font-size="8.3" text-anchor="end" x="57.2" y="479.2">0.37</text>
<text class="t10" font-size="9.3" text-anchor="end" x="51.5" y="581.3">0.1</text>
<text class="t10" font-size="9.6" text-anchor="middle" x="59.5" y="595.3">0</text>
<text class="t10" font-size="9.6" text-anchor="middle" x="114.2" y="595.3">50</text>
<text class="t10" font-size="9.6" text-anchor="middle" x="169.0" y="595.3">100</text>
<text class="t10" font-size="9.6" text-anchor="middle" x="223.8" y="595.3">150</text>
<text class="t10" font-size="9.6" text-anchor="middle" x="278.5" y="595.3">200</text>
<text class="t10" font-size="9.6" text-anchor="middle" x="333.2" y="595.3">250</text>
<text class="t10" font-size="9.1" text-anchor="middle" x="195.9" y="610.2">Dose per well (x10,000)</text>
<g transform="translate(29.3 489) rotate(-90)"><text class="t10" font-size="9.3" text-anchor="middle" x="0" y="0">Negative (%)</text></g>
<path d="M61 475.5H171M171.5 477V577M89.5 485V577" stroke="#777" stroke-width="1" stroke-dasharray="1 1" fill="none"/>
<path d="M59.5 397.3L313.2 578.0" stroke="#000" stroke-width="2" fill="none"/>
<path d="M59.5 397.3L122.9 578.0" stroke="#000" stroke-width="2" stroke-dasharray="22.2 5.1" stroke-dashoffset="13" fill="none"/>
<path d="M170.3 430.3H190.5" stroke="#000" stroke-width="2"/>
<text class="t11" x="193.5" y="434.0">Leukemia</text>
<path d="M170.3 445.8H181M187.6 445.8H191.2" stroke="#000" stroke-width="2"/>
<text class="t11" x="193.5" y="449.8">Control</text>
<text class="t8" text-anchor="middle" x="133.0" y="507.4">y = 1.0286e<tspan dy="-3" font-size="4.6">-4E-06x</tspan></text><text class="t8" text-anchor="middle" x="132.5" y="517.0">R² = 0.9995</text>
<text class="t8" text-anchor="middle" x="276.0" y="518.1">y = 1.0076e<tspan dy="-3" font-size="4.6">-1E-06x</tspan></text><text class="t8" text-anchor="middle" x="275.5" y="527.7">R² = 0.9999</text>
<path d="M0 627.5H520" stroke="#000" stroke-width="1.6"/>
<path d="M0 658.2H520" stroke="#000" stroke-width="1"/>
<path d="M0 718.2H520" stroke="#000" stroke-width="1.6"/>
<text font-size="10.9" class="b" text-anchor="middle" x="74.0" y="646.7" fill="#000">Group</text>
<text font-size="10.9" class="b" text-anchor="middle" x="240.0" y="646.7" fill="#000">Frequency</text>
<text font-size="10.9" class="b" text-anchor="middle" x="427.0" y="646.7" fill="#000">95%CI</text>
<text font-size="10.9" class="b" text-anchor="middle" x="74.0" y="677.4" fill="#000">Control</text>
<text font-size="10.9"  text-anchor="middle" x="241.0" y="677.4" fill="#000">1/258,127</text>
<text font-size="10.9"  text-anchor="middle" x="425.0" y="677.4" fill="#000">1/(177,727~578,138)</text>
<text font-size="10.9" class="b" text-anchor="middle" x="74.0" y="707.4" fill="#000">Leukemia</text>
<text font-size="10.9"  text-anchor="middle" x="240.0" y="707.4" fill="#000">1/1,014936</text>
<text font-size="10.9"  text-anchor="middle" x="425.5" y="707.4" fill="#000">1/(411,082~3,295,657)</text>
</svg></body></html>
